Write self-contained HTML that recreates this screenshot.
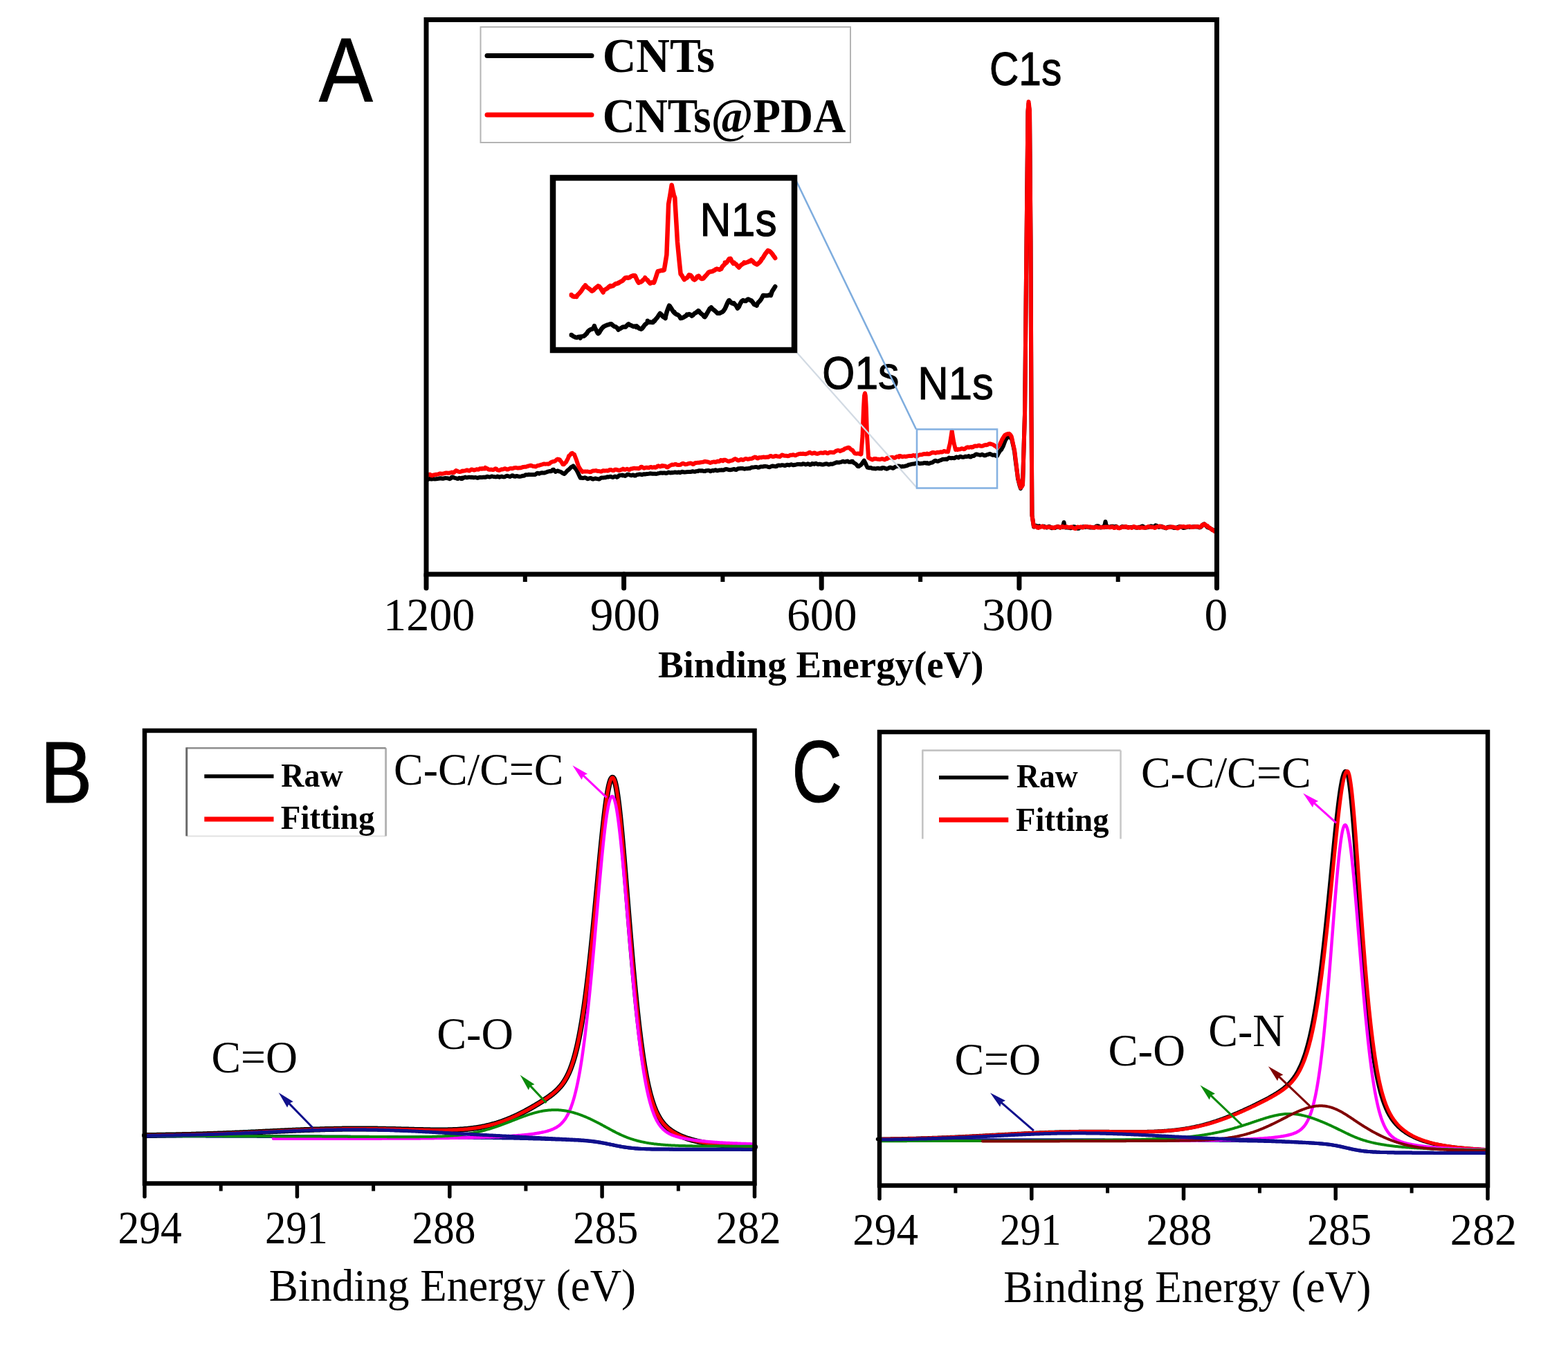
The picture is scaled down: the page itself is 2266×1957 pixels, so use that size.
<!DOCTYPE html>
<html><head><meta charset="utf-8"><title>XPS spectra</title>
<style>html,body{margin:0;padding:0;background:#fff;overflow:hidden;width:2266px;height:1957px;} svg{display:block;}</style>
</head><body>
<svg width="2266" height="1957" viewBox="0 0 2266 1957">
<rect width="2266" height="1957" fill="#fff"/>
<path d="M617,692.7 L617,692.3 L618.5,692.9 L620,692.3 L621.5,691.8 L623,692.4 L624.5,692.4 L626,692 L627.5,692.3 L629,692.4 L630.5,692.2 L632,692.1 L633.5,691.9 L635,691.5 L636.5,691.3 L638,691.5 L639.5,691.8 L641,691.7 L642.5,691.2 L644,690.9 L645.5,691.1 L647,691.3 L648.5,691.6 L650,692.2 L651.5,691.4 L653,689.5 L654.5,689.4 L656,690.4 L657.5,690.9 L659,691.1 L660.5,691.8 L662,691.9 L663.5,690.8 L665,690.9 L666.5,692 L667.9,690.8 L668,691.9 L669.5,691.1 L671,690.1 L672.5,689.6 L674,690.3 L675.5,690.3 L677,689.7 L678.5,689.7 L680,689.9 L681.5,689.8 L683,690 L684.5,690.3 L686,690.1 L687.5,690 L689,690.5 L690.5,690.8 L692,690.2 L693.5,689.8 L695,689.9 L696.5,690 L698,689.8 L699.5,689.6 L701,689.9 L702.5,689.5 L704,688.8 L705.5,689 L707,689.5 L708.5,689.3 L710,688.6 L711.5,688.5 L713,689 L714.5,689.1 L716,689.4 L717.5,689.2 L719,688.5 L720.5,689.1 L722,689.7 L723.5,688.9 L725,688.6 L726.5,689.1 L728,689.4 L729.5,689.2 L731,688.3 L732.5,687.7 L734,688 L735.5,688.5 L737,688.9 L738.5,688.3 L740,687.2 L741.5,687.5 L743,688.6 L744.5,688.7 L746,688 L747.5,688.1 L749,688.5 L750.5,688.7 L752,688.7 L753.5,688.3 L754.8,687.9 L755,687.8 L756.5,687.8 L758,687.3 L759.5,686.2 L761,686.3 L762.5,686.3 L764,685.8 L765.5,685.9 L767,686 L768.5,686.1 L770,685.9 L771.5,686 L773,686.1 L774.5,685.2 L776,683.9 L777.5,683.8 L779,684.7 L780.5,684.2 L782,683.4 L783.5,683.3 L785,683.4 L786.5,683.5 L788,683.1 L789.5,682.4 L790,682.5 L791,681.9 L792.5,681.5 L794,681 L795.5,681.3 L797,681 L798.2,680 L798.5,678.9 L800,678.7 L801.5,680.9 L803,682 L804.5,680.8 L806,680.4 L807.5,681.2 L808,681.5 L809,681.5 L810.5,682 L812,683.2 L813.5,684.1 L815,684.7 L815.6,685 L816.5,684.1 L818,682.5 L819.5,680.7 L821,679.3 L822,679 L822.5,678 L824,676.7 L825.5,675.1 L827,674.2 L828.5,674 L828.6,673.4 L830,675.5 L831.5,677.2 L833,679.2 L833,679 L834.5,681.9 L836,685 L837.5,688.4 L838.8,690.8 L839,690.8 L840.5,690.6 L842,691.1 L843.5,690.8 L845,690.3 L846.5,690.6 L848,691.6 L849.5,692.2 L851,691.7 L852.5,691.2 L854,691 L855.5,691.9 L856,692.3 L857,692.6 L858.5,692 L860,691.5 L861.5,691.8 L863,692.1 L864.5,692.4 L866,692.5 L867.5,691.5 L869,690.5 L870.5,690.4 L872,690.4 L873.5,690.3 L875,690.2 L876.5,689.6 L878,689.2 L879.5,689.5 L881,689 L882.5,688.7 L884,689.5 L885.5,690 L887,689.5 L888.5,688.6 L890,688.8 L891.5,689.8 L893,689.1 L894.5,687.3 L896,687 L897.5,687 L899,686.6 L900,687.3 L900.5,686.8 L902,687.3 L903.5,687.9 L905,687.1 L906.5,685.7 L908,685.7 L909.5,686.2 L911,686.9 L912.5,687.2 L914,686.6 L915.5,686.5 L917,687.6 L918.5,687.6 L920,686.3 L921.5,685.9 L923,685.8 L924.5,685.4 L926,685.7 L927.5,686.2 L929,685.6 L930.5,685.3 L932,685.6 L933.5,685.2 L935,684.9 L936.5,684.9 L938,684.7 L939.5,684.3 L941,684.4 L942.5,684.7 L944,684.7 L945.5,684.7 L947,684.8 L948.5,684.9 L950,684.6 L951.5,684.1 L953,683.9 L954.5,683.5 L956,683.5 L957.5,683.8 L959,683.4 L960.5,683.4 L962,684 L963.5,684 L965,683.1 L966.5,682.6 L968,683.3 L969.5,683.4 L971,682.9 L972.5,683.2 L974,682.8 L975.5,682.4 L977,682.8 L978.5,683 L980,682.6 L981.5,682.5 L983,683.2 L984.5,682.4 L986,681.8 L987.5,682.3 L989,682.5 L990.5,682.4 L992,682.2 L993.5,682.1 L995,682 L996.5,681.9 L998,682 L999.5,681.6 L1001,681.2 L1002.5,681.6 L1004,681.8 L1005.5,681.3 L1007,681.1 L1008.5,681 L1010,680.2 L1011.5,680.2 L1013,680.5 L1014.5,680.3 L1016,680.6 L1017.5,681.1 L1019,681 L1020.5,680.3 L1022,680.1 L1023.5,679.9 L1025,680.1 L1026.5,681.2 L1028,680.6 L1029.5,679.9 L1031,680.4 L1032.5,679.8 L1034,679.2 L1035.5,680 L1037,680.3 L1038.5,679.7 L1040,679.5 L1041.5,679.5 L1043,679.3 L1044.5,679.5 L1044.8,679.4 L1046,679.4 L1047.5,678.5 L1049,678.1 L1050.5,678.2 L1052,678.6 L1053.5,679.1 L1055,679.2 L1056.5,679 L1058,678.8 L1059.5,678.2 L1061,678 L1062.5,678.7 L1064,679 L1065.5,678 L1067,677.2 L1068.5,677.2 L1070,677 L1071.5,676.9 L1073,677 L1074.5,677.4 L1076,677.7 L1077.5,677.4 L1079,677.2 L1080.5,677.2 L1082,677 L1083.5,677 L1085,676.2 L1086.5,675.5 L1088,675.6 L1089.5,675.4 L1091,675.1 L1092.5,674.9 L1094,675.1 L1095.5,675.8 L1097,675.6 L1098.5,674.7 L1100,674.4 L1101.5,674.5 L1103,674.4 L1104.5,674 L1106,673.9 L1107.5,674.1 L1109,674.4 L1110.5,675.1 L1112,675.2 L1113.5,674.6 L1115,673.9 L1116.5,673.5 L1118,673.8 L1119.5,674 L1121,674.3 L1122.5,673.9 L1124,672.6 L1125.5,672.4 L1127,672.8 L1128.5,672.7 L1130,672.2 L1131.5,672.2 L1133,672.8 L1134.5,673 L1136,672.4 L1137.5,671.8 L1139,671.9 L1140.5,672.4 L1142,671.8 L1143.5,671.2 L1145,671.9 L1146.5,672.3 L1148,672 L1149.5,671.7 L1151,671.4 L1152.5,671 L1154,670.9 L1155.5,671 L1157,671.3 L1158.5,671.3 L1160,670.5 L1160,670.6 L1161.5,670.4 L1163,670.9 L1164.5,671.5 L1166,671 L1167.5,670.3 L1169,670.7 L1170.5,671.7 L1172,671.5 L1173.5,670.1 L1175,670.2 L1176.5,670.9 L1178,669.9 L1179.5,669.8 L1181,670.9 L1182.5,671.2 L1184,670.7 L1185.5,670.8 L1187,671.3 L1188.5,671.5 L1190,671.4 L1191.5,671 L1193,670.4 L1194.5,670.3 L1196,670.9 L1197.5,671.5 L1199,671.1 L1200,670.7 L1200.5,670.5 L1202,670.7 L1203.5,670.7 L1205,669.9 L1206.5,669.4 L1208,668.7 L1209.5,668.2 L1211,668.6 L1212.5,668.5 L1214,668.1 L1215.5,667.9 L1217,667.1 L1218.5,666.8 L1220,667.5 L1221.5,667.6 L1223,666.7 L1224.5,666.7 L1225,666.5 L1226,667.5 L1227.5,667.8 L1229,667.8 L1230.5,666.8 L1232,666.7 L1232,668 L1233.5,668.6 L1235,669.6 L1236.5,670.4 L1238,671.9 L1239.5,673.9 L1240.3,674 L1241,674.2 L1242.5,672.9 L1244,672.3 L1244,672 L1245.5,670.3 L1247,668 L1248.5,665.9 L1248.7,665.7 L1250,668.2 L1251,670 L1251.5,671.4 L1253,674.5 L1253.7,675.7 L1254.5,675.9 L1256,676.2 L1257.5,676 L1259,676.3 L1260.5,677 L1262,677.2 L1263.5,677.1 L1265,677.5 L1266.5,677.3 L1268,676.7 L1269.5,676.8 L1271,677.3 L1272.5,677.2 L1273.8,677.4 L1274,676.5 L1275.5,676.1 L1277,676.2 L1278.5,676.5 L1280,677.4 L1281.5,677.7 L1283,677.1 L1284.5,676.3 L1286,675.6 L1287.5,675.7 L1289,676.4 L1290.5,676.8 L1292,676 L1293.5,674.8 L1295,674.4 L1296.5,673.9 L1298,673.5 L1299,674 L1299.5,673.7 L1301,674.2 L1302.5,674.5 L1304,674.1 L1305.5,674.2 L1307,674.1 L1308.5,673.4 L1310,673.3 L1311.5,672.7 L1313,671.7 L1314.5,671.5 L1316,671.2 L1317.5,670.8 L1319,670.6 L1320.5,670.6 L1322,670.3 L1323.5,669.6 L1324,669.9 L1325,669.2 L1326.5,669 L1328,669.6 L1329.5,670.1 L1331,669.8 L1332.5,669.8 L1334,669.6 L1335.5,669 L1337,669 L1338.5,669.6 L1340,669.8 L1340,669 L1341.5,669.9 L1343,669.9 L1344.5,669.1 L1346,668.7 L1347.5,668.5 L1349,667.3 L1350.5,666.1 L1352,665.8 L1353.5,666.4 L1355,666.8 L1356.5,666.3 L1358,665.6 L1359.5,665.2 L1361,664.5 L1362.5,663.7 L1364,663.9 L1365.5,663.7 L1367,663.6 L1368.5,663.9 L1370,662.7 L1371.5,661.6 L1373,661.9 L1374.5,662.3 L1376,662 L1376,662 L1377.5,662.1 L1379,662.3 L1380.5,661.5 L1382,660.5 L1383.5,660.9 L1385,661.4 L1386.5,660.4 L1388,659.8 L1389.5,660.4 L1391,660.8 L1392.5,660.8 L1394,660.2 L1395.5,659.7 L1397,660.1 L1398.5,659.7 L1400,659.1 L1401.5,660.3 L1403,660.5 L1404.5,659.1 L1406,658.9 L1407.5,658.9 L1409,657.4 L1410.5,656.4 L1412,656.7 L1413.5,657.1 L1415,657.4 L1416.5,657.8 L1418,657.4 L1419.5,656.8 L1421,657.6 L1422.5,658.4 L1424,658.2 L1425.5,657.5 L1427,657 L1428.5,656.6 L1430,656.1 L1431,656 L1431.5,656.3 L1433,657.1 L1434.5,657.8 L1436,657.8 L1437.5,657.5 L1439,658.5 L1440.5,659.2 L1441,659 L1442,657.1 L1443.5,654.4 L1445,652 L1446.5,650 L1447,650 L1448,648.1 L1449.5,645.4 L1451,641.5 L1452.5,637.5 L1453,636 L1454,634.7 L1455.5,632.4 L1457,630.3 L1458,629 L1458.5,630.2 L1460,632.6 L1461.5,634 L1462,634 L1463,638.5 L1464.5,645.1 L1466,652.4 L1466,652 L1467.5,665 L1469,676.1 L1470.5,687.1 L1471,692 L1472,695.5 L1473.5,701.5 L1475,706.1 L1475,705 L1476.5,703.2 L1478,699.7 L1478,700 L1479.5,648.4 L1481,598.1 L1481,600 L1482.5,448.8 L1483.5,350 L1484,302.7 L1485.5,162.3 L1485.5,162 L1486.5,150 L1487,154.4 L1488,162 L1488.5,224.9 L1489.5,350 L1490,475.4 L1490.5,600 L1491.5,744.9 L1491.5,745 L1493,754.7 L1494,761.5 L1494.5,761.6 L1496,760.6 L1497.5,759.7 L1499,760.6 L1500,762 L1500.5,760.9 L1502,760.2 L1503.5,760.9 L1505,761.3 L1506.5,760.7 L1508,760.7 L1509.5,761.2 L1511,761.9 L1512.5,762.6 L1514,762.1 L1515.5,761 L1517,761.3 L1518.5,762.7 L1520,763.3 L1521.5,762.8 L1523,762.8 L1524.5,763.1 L1526,762.4 L1527.5,761.4 L1529,761 L1530.5,761.9 L1532,762.7 L1533.5,761.8 L1535,761.2 L1536,762 L1536.5,758.9 L1537.5,755 L1538,757.3 L1539,762 L1539.5,762.5 L1541,762.3 L1542.5,762.5 L1544,762.7 L1545.5,762.9 L1547,763.3 L1548.5,762.8 L1550,761.9 L1551.5,761.3 L1553,761.5 L1554.5,761.9 L1556,762.7 L1557.5,763.9 L1559,763.7 L1560.5,762.3 L1562,762.2 L1563.5,762.3 L1565,761.3 L1566.5,761.5 L1568,762.1 L1569.5,761.6 L1571,761.4 L1572.5,761.9 L1574,762.3 L1575.5,762.4 L1577,762.4 L1578.5,762.4 L1580,762.5 L1581.5,762.4 L1583,761.5 L1584.5,760.5 L1586,760.2 L1587.5,760.5 L1589,761.5 L1590.5,762.5 L1592,762.2 L1593.5,761.4 L1595,761.1 L1596,762 L1596.5,758.6 L1597.5,754 L1598,756.1 L1599,762 L1599.5,761.2 L1601,760.9 L1602.5,761.6 L1604,761.8 L1605.5,761 L1607,760.7 L1608.5,760.8 L1610,761.3 L1611.5,761.1 L1613,760.7 L1614.5,762 L1616,763.1 L1617.5,762.9 L1619,762.6 L1620.5,761.7 L1622,760.9 L1623.5,761.6 L1625,761.5 L1626.5,761.3 L1628,762.1 L1629.5,762.2 L1631,762 L1632.5,762.1 L1634,761.9 L1635.5,761.9 L1637,761.8 L1638.5,761.7 L1640,762 L1641.5,762.6 L1643,762.9 L1644.5,762.6 L1646,761.8 L1647.5,761.7 L1649,761.6 L1650.5,760.4 L1652,760.9 L1653.5,762.4 L1655,762.8 L1656.5,762.6 L1658,762.3 L1659.5,762 L1661,761.4 L1662.5,760.6 L1664,760.5 L1665.5,761.1 L1667,761.4 L1668.5,760.5 L1670,759.3 L1671.5,759.8 L1673,761.2 L1674.5,761.9 L1676,761.5 L1677.5,760.7 L1679,761 L1680.5,762.2 L1682,762.4 L1683.5,763.1 L1685,763.4 L1686.5,762.4 L1688,761.8 L1689.5,761.6 L1691,761.5 L1692.5,761.8 L1694,762.2 L1695.5,762.6 L1697,763.1 L1698.5,763.1 L1700,762.5 L1701.5,762.2 L1703,761.6 L1704.5,761.1 L1706,761.1 L1707.5,761.6 L1709,762.5 L1710.5,763.1 L1712,762.9 L1713.5,762.4 L1715,762 L1716.5,761.4 L1718,761.3 L1719.5,762 L1721,762 L1722.5,761.6 L1724,761.5 L1725.5,761.2 L1727,761.2 L1728.5,761.5 L1730,761.2 L1731.5,761.5 L1733,762.4 L1733.6,762 L1734.5,762.3 L1736,761.3 L1737.5,759.6 L1739,757.8 L1740,758 L1740.5,757.4 L1742,758.7 L1743.5,760.6 L1745,762.2 L1746.5,762.7 L1748,763 L1749.5,764 L1751,764.9 L1752,766 L1752.5,765.5 L1754,766.7 L1755.5,767.9 L1756,768" fill="none" stroke="#000" stroke-width="6" stroke-linejoin="round" stroke-linecap="round"/>
<path d="M617,687.2 L617,687.2 L618.5,686.7 L620,685.8 L621.5,685.7 L623,687.1 L624.5,687.4 L626,686.5 L627.5,686.4 L629,686 L630.5,685.7 L632,685.7 L633.5,685.3 L635,684.6 L636.5,684.5 L638,684.7 L639.5,684.8 L640,684.5 L641,684.5 L642.5,684 L644,683.6 L645.5,683.5 L647,683.8 L648.5,683.8 L650,683.5 L651.5,683 L653,682.5 L654.5,683.2 L656,683.2 L657.5,681.3 L659,680.1 L660.5,680.6 L662,681.6 L663.5,681.9 L665,681.9 L666.5,681.6 L667.9,680.7 L668,681.1 L669.5,680.7 L671,680.6 L672.5,680.4 L674,679.6 L675.5,679.5 L677,680.3 L678.5,680.5 L680,679.3 L681.5,678.4 L683,678.9 L684.5,679.4 L686,679.4 L687.5,678.9 L689,678.2 L690,678.5 L690.5,678.8 L692,678.6 L693.5,677.3 L695,677.5 L696.5,677.8 L697,677 L698,677.4 L699.5,677.5 L701,677.5 L701.2,675.8 L702.5,677.3 L704,677.1 L705.5,678 L706,678.6 L707,678.7 L708.5,678.7 L710,678.6 L711.5,678.9 L713,679 L714.5,678.2 L716,677.3 L717.5,677.7 L718.6,679.2 L719,679.2 L720.5,679.8 L722,679.7 L723.5,678.9 L725,678.3 L726.5,678.5 L728,678 L729.5,677.2 L731,677.6 L732.5,678.6 L734,678.5 L735.5,677.8 L737,677.1 L738.5,677 L740,677.3 L741.5,676.9 L743,676.3 L744.5,676.1 L746,676 L747.5,676.5 L749,676.6 L750.5,676.3 L752,676.3 L753.5,675.8 L754.8,675.6 L755,675.2 L756.5,674.9 L758,674.8 L759.5,674.8 L761,674.3 L762.5,673.8 L764,673.5 L765.5,673 L767,672.7 L768.5,673.2 L770,673.9 L771.5,674 L773,674.3 L774.5,674.4 L776,673.3 L777.5,672.8 L779,672.8 L780.5,672.2 L782,671.7 L783.5,671.4 L785,670.7 L786.5,670.4 L788,670.8 L789.5,670.6 L791,670.4 L791,670.5 L792.5,670.8 L794,670.2 L795.5,668.8 L797,667.8 L798.5,667.3 L800,667.1 L800,667 L801.5,666.8 L803,665.8 L804.5,664.2 L805.5,664 L806,663.6 L807.5,664 L809,664.4 L809,665.5 L810.5,666.5 L812,668.9 L813.5,671.3 L814.1,671.3 L815,671.2 L816.5,669.3 L818,668 L818,668 L819.5,665.1 L821,662.3 L822,659 L822.5,659.3 L824,657.3 L825.5,655.5 L826.4,655.3 L827,654.9 L828.5,656.1 L830,656.9 L830,657 L831.5,660.8 L833,664.8 L834.5,669.2 L835.9,673.4 L836,673.7 L837.5,676.4 L839,678.7 L840.5,680.4 L841.7,682.1 L842,681.7 L843.5,681.6 L845,681.4 L846.5,681.4 L848,681.6 L849.5,681.6 L851,681.9 L852.5,682.2 L854,682 L855.5,681.2 L857,680.4 L858.5,680.4 L860,680.3 L861.5,680.1 L863,680.8 L864.5,681 L866,681 L867.5,681.5 L869,681.5 L870.5,680.7 L870.6,680.7 L872,680.2 L873.5,680.5 L875,680.4 L876.5,680.2 L878,680.6 L879.5,680.1 L881,679 L882.5,679 L884,679.4 L885.5,680.1 L887,680 L888.5,678.8 L890,678.6 L891.5,679 L893,679.4 L894.5,680 L896,679.6 L897.5,679 L899,678.4 L900,678.6 L900.5,677.7 L902,678.3 L903.5,678.8 L905,678.1 L906.5,677.8 L908,678.6 L909.5,679.1 L911,678 L912.5,677.4 L914,677.4 L915.5,676.8 L917,676.8 L918.5,677.1 L920,677 L921.5,677 L923,677.3 L924.5,676.6 L926,675 L927.5,674.7 L929,675.8 L930.5,676.7 L932,676.4 L933.5,675.8 L935,675.8 L936.5,676 L938,675.9 L939.5,675.3 L941,675 L942.5,675.8 L944,675.6 L945.5,675.1 L947,675.8 L948.5,675.4 L950,673.8 L951.5,673.3 L953,674.2 L954.5,674.4 L956,673.3 L957.5,673 L957.5,673.8 L959,673.6 L960.5,673.4 L962,673.8 L963.5,675.3 L965,675.4 L966.5,674 L968,673.1 L969.5,672.4 L971,671.6 L972.5,671.7 L974,671.6 L975.5,670.9 L977,671 L978.5,671.9 L980,672.1 L981.5,672.1 L983,671.9 L984.5,670.9 L986,670 L987.5,669.8 L989,670.6 L990.5,671.2 L992,671.1 L993.5,670.7 L995,670 L996.5,669.7 L998,669.4 L999.5,669.8 L1001,671 L1002.5,670.7 L1004,669.4 L1005.5,669 L1007,668.9 L1008.5,668.7 L1010,668.8 L1011.5,668.5 L1013,668.2 L1014.5,668.1 L1016,667.9 L1017.5,667.3 L1019,667 L1020.5,667.2 L1022,667.5 L1023.5,667.8 L1025,668.4 L1026.5,669 L1028,668.5 L1029.5,667.9 L1031,667.6 L1032.5,667.6 L1034,668 L1035.5,667.4 L1037,666.6 L1038.5,667.1 L1040,666.6 L1041.5,665.1 L1043,665.2 L1044.5,665.3 L1044.8,666.3 L1046,664.7 L1047.5,664.7 L1049,665.2 L1050.5,665.9 L1052,666.7 L1053.5,666.9 L1055,666.2 L1056.5,665.8 L1058,665.6 L1059.5,664.8 L1061,663.8 L1062.5,663.1 L1064,663.8 L1065.5,665.1 L1067,665.6 L1068.5,665.1 L1070,664.3 L1071.5,664 L1073,664.8 L1074.5,664.7 L1076,663.6 L1077.5,662.9 L1079,663.1 L1080.5,663.8 L1082,663.6 L1083.5,663 L1085,663 L1086.5,662.8 L1088,662 L1089.5,661.2 L1091,660.6 L1092.5,660.9 L1094,662.3 L1095.5,662.6 L1097,661.3 L1098.5,661.2 L1100,661.4 L1101.5,660.9 L1103,660.6 L1104.5,660.7 L1106,661 L1107.5,660.7 L1109,660.6 L1110.5,660.7 L1112,659.8 L1113.5,658.9 L1115,659.4 L1116.5,660.1 L1118,660 L1119.5,659.4 L1121,659 L1122.5,659.3 L1124,659.7 L1125.5,659.8 L1127,660 L1128.5,658.9 L1130,657.6 L1131.5,657.7 L1133,658.6 L1134.5,658.8 L1136,658.8 L1137.5,659 L1139,659.2 L1140.5,658.8 L1142,657.8 L1143.5,657.8 L1145,657.7 L1146.5,657.2 L1148,657.9 L1149.5,658.3 L1151,657.6 L1152.5,656.9 L1154,656.3 L1155.5,655.9 L1157,655.8 L1158.5,655.9 L1160,655.8 L1160,656 L1161.5,655.8 L1163,656.2 L1164.5,656.2 L1166,655.6 L1167.5,655.3 L1169,654.2 L1170.5,653.8 L1172,654.9 L1173.5,655.6 L1175,655.2 L1176.5,654.5 L1178,654.8 L1179.5,655.6 L1181,655.9 L1182.5,655.5 L1184,655 L1185.5,654.5 L1187,654.4 L1188.5,654.8 L1190,654.8 L1190,654.8 L1191.5,654 L1193,653.8 L1194.5,654.8 L1196,655.2 L1197.5,654.6 L1199,653.8 L1200.5,653.6 L1202,653.8 L1203.5,654 L1205,654 L1206.5,653 L1208,651.8 L1209.5,651.3 L1211,650.9 L1212.5,651.1 L1214,652.1 L1215,651.4 L1215.5,651.6 L1217,650.5 L1218.5,650.4 L1220,649.4 L1220,649 L1221.5,648.1 L1223,647.9 L1224.5,647.3 L1225.2,647.2 L1226,646.7 L1227.5,647.3 L1229,649 L1230,650 L1230.5,649.9 L1232,650.7 L1233.5,653 L1235,655 L1236.1,655.6 L1236.5,655.6 L1238,655.7 L1239.5,655.6 L1241,655.5 L1242.5,656.2 L1244,656.7 L1244.5,656.5 L1245.5,642.9 L1246.5,630 L1247,616.4 L1248,590 L1248.5,581 L1249,572 L1249.9,568.5 L1250,568.4 L1250.8,572 L1251.5,583.8 L1251.8,590 L1253,628.9 L1253,630 L1254.5,652.8 L1255,661.5 L1256,661.9 L1257.5,662.9 L1258,663.2 L1259,663.6 L1260.5,664.5 L1262,663.8 L1263.5,663 L1265,663 L1266.5,663.3 L1268,663.7 L1269.5,663.7 L1271,664.1 L1272.5,663.9 L1274,663.2 L1275.5,663.3 L1277,663.9 L1278.5,664.4 L1280,663.5 L1281.5,662.1 L1282,663.2 L1283,661.4 L1284.5,661.4 L1286,661.6 L1287.5,661.3 L1289,661 L1290.5,661.1 L1292,661.8 L1293.5,661.7 L1295,660.5 L1296.5,659.9 L1298,659.7 L1299,660.6 L1299.5,659.1 L1301,659 L1302.5,659.6 L1304,660.2 L1305.5,659.9 L1307,659.6 L1308.5,659.9 L1310,659.8 L1311.5,659.4 L1313,659.1 L1314.5,658.9 L1316,659.1 L1317.5,659.1 L1319,658.2 L1320.5,658.1 L1322,658.8 L1323.5,659.5 L1324,658.1 L1325,659.5 L1326.5,658.4 L1328,657.6 L1329.5,657.3 L1331,657.3 L1332.5,657.1 L1334,656.3 L1335.5,656.1 L1337,656.2 L1338.5,656.1 L1340,656.2 L1340,655.6 L1341.5,656.4 L1343,656.2 L1344.5,655.5 L1346,654.7 L1347.5,654 L1349,654 L1350.5,654.4 L1352,654.7 L1353.5,654.1 L1355,653.7 L1356.5,654 L1358,653.6 L1359.5,653.2 L1361,653.6 L1362.5,653.2 L1364,652 L1365.5,652.2 L1367,652.9 L1368.5,652.7 L1370,652.3 L1370,653 L1371.5,646.3 L1373,640.5 L1373,640 L1374.5,630.8 L1375.7,622.8 L1376,625.1 L1377.5,634.4 L1378.5,640 L1379,642.1 L1380.5,648 L1381,650 L1382,649.7 L1383.5,649.2 L1384,650 L1385,649.3 L1386.5,649.6 L1388,649.1 L1389.5,648.2 L1391,648.4 L1392.5,649.3 L1394,649 L1395.5,647.7 L1397,646.7 L1398.5,646.3 L1400,646.8 L1401.5,646.5 L1403,646 L1404.5,646.6 L1405,646 L1406,646.3 L1407.5,645.1 L1409,644.6 L1410.5,644.7 L1412,644.7 L1413.5,644.1 L1415,643.8 L1416.5,644.5 L1418,644.7 L1419.5,644.7 L1421,644.3 L1422.5,643.4 L1424,643.1 L1425.5,643.2 L1427,642.9 L1428.5,642 L1430,641.4 L1431,641.6 L1431.5,641.5 L1433,642.1 L1434.5,642.4 L1436,643.1 L1437.5,644.3 L1439,645.2 L1440.5,646.1 L1441,647 L1442,645.5 L1443.5,644.2 L1445,642.6 L1446,640 L1446.5,639.3 L1448,635.6 L1449.5,633.1 L1451,630.7 L1452,629 L1452.5,628.7 L1454,628 L1455.5,627.3 L1457,626.9 L1458,627.3 L1458.5,626.9 L1460,628.3 L1461.5,630.5 L1462,632 L1463,636.6 L1464.5,643.8 L1466,650.1 L1466,650 L1467.5,661.9 L1469,674.4 L1470.5,686.9 L1471,690 L1472,694.8 L1473.5,699.8 L1475,704.9 L1475,704.4 L1476.5,703.4 L1478,701.1 L1478,700 L1479.5,650.2 L1481,599.5 L1481,600 L1482.5,449 L1483.5,350 L1484,301.6 L1485.5,159.4 L1485.5,160 L1486.5,147 L1487,150.8 L1488,160 L1488.5,223 L1489.5,350 L1490,474.7 L1490.5,600 L1491.5,745 L1491.5,745 L1493,754.9 L1494,761 L1494.5,761.2 L1496,760.7 L1497.5,761.1 L1499,762.5 L1500,762 L1500.5,763 L1502,762.3 L1503.5,761.8 L1505,760.9 L1506.5,760.6 L1508,761.8 L1509.5,762.4 L1511,761.6 L1512.5,761.7 L1514,762.1 L1515.5,761.6 L1517,762 L1518.5,762.4 L1520,762.1 L1521.5,762.8 L1523,763.2 L1524.5,762 L1526,761.5 L1527.5,761.6 L1529,761.2 L1530.5,761.5 L1532,762.6 L1533.5,762.1 L1535,760.9 L1536.5,761.2 L1538,762.1 L1539.5,761.9 L1541,761.3 L1542.5,761.6 L1544,762.2 L1545.5,762.4 L1547,761.8 L1548.5,761.6 L1550,762.6 L1551.5,763.1 L1553,763.8 L1554.5,764 L1556,762.4 L1557.5,761.5 L1559,762.1 L1560.5,762 L1562,761.4 L1563.5,761.8 L1565,762.5 L1566.5,761.8 L1568,761 L1569.5,761.1 L1571,761.3 L1572.5,761.7 L1574,761.5 L1575.5,761.5 L1577,761.9 L1578.5,762 L1580,762.6 L1581.5,762.8 L1583,762 L1584.5,761.6 L1586,762.2 L1587.5,762.5 L1589,762.3 L1590.5,762.1 L1592,762.1 L1593.5,762.3 L1595,762.2 L1596.5,761.7 L1598,761.6 L1599.5,761.7 L1601,761.7 L1602.5,762 L1604,762.3 L1605.5,762 L1607,761.4 L1608.5,761.9 L1610,763 L1611.5,762.7 L1613,761.4 L1614.5,761.7 L1616,763.2 L1617.5,763.4 L1619,762.8 L1620.5,762.3 L1622,761.5 L1623.5,761.8 L1625,761.9 L1626.5,761 L1628,761.3 L1629.5,762.5 L1631,762.7 L1632.5,762.1 L1634,762.4 L1635.5,762.9 L1637,761.9 L1638.5,761.1 L1640,761.5 L1641.5,762.1 L1643,762.7 L1644.5,762.2 L1646,762.3 L1647.5,763 L1649,762.5 L1650.5,762.3 L1652,762.7 L1653.5,762.7 L1655,762.5 L1656.5,762.4 L1658,761.7 L1659.5,761.1 L1661,761.4 L1662.5,761.8 L1664,761.9 L1665.5,761.9 L1667,762.1 L1668.5,763 L1670,762.6 L1671.5,761.2 L1673,761.2 L1674.5,760.9 L1676,760.5 L1677.5,761.3 L1679,761.7 L1680.5,761.4 L1682,761.8 L1683.5,762.8 L1685,763.1 L1686.5,762.7 L1688,762.4 L1689.5,762.2 L1691,761.8 L1692.5,761.6 L1694,761.6 L1695.5,761.7 L1697,762.2 L1698.5,762.6 L1700,762.7 L1701.5,763.5 L1703,763.2 L1704.5,761.6 L1706,761.3 L1707.5,761.6 L1709,761.2 L1710.5,761.1 L1712,761.6 L1713.5,761.7 L1715,761.5 L1716.5,761.5 L1718,761 L1719.5,760.8 L1721,761.9 L1722.5,761.9 L1724,761.5 L1725.5,761.7 L1727,761.1 L1728.5,760.9 L1730,761.4 L1731.5,761.3 L1733,761.5 L1733.6,762 L1734.5,761.6 L1736,761 L1737,759 L1737.5,759.9 L1739,758.3 L1740,757.7 L1740.5,757.4 L1742,758.5 L1743.5,760.3 L1745,761.4 L1745,760 L1746.5,761.9 L1748,762.6 L1749.5,764.1 L1751,765.1 L1752,766 L1752.5,765.8 L1754,766.9 L1755.5,768 L1756,768" fill="none" stroke="#ff0000" stroke-width="6" stroke-linejoin="round" stroke-linecap="round"/>
<rect x="616" y="28.5" width="1142.5" height="801.5" fill="none" stroke="#000" stroke-width="7"/>
<line x1="616" y1="830" x2="616" y2="850" stroke="#000" stroke-width="7" stroke-linecap="round"/>
<line x1="901.6" y1="830" x2="901.6" y2="850" stroke="#000" stroke-width="7" stroke-linecap="round"/>
<line x1="1187.2" y1="830" x2="1187.2" y2="850" stroke="#000" stroke-width="7" stroke-linecap="round"/>
<line x1="1472.9" y1="830" x2="1472.9" y2="850" stroke="#000" stroke-width="7" stroke-linecap="round"/>
<line x1="1758.5" y1="830" x2="1758.5" y2="850" stroke="#000" stroke-width="7" stroke-linecap="round"/>
<line x1="758.8" y1="830" x2="758.8" y2="841" stroke="#000" stroke-width="6"/>
<line x1="1044.4" y1="830" x2="1044.4" y2="841" stroke="#000" stroke-width="6"/>
<line x1="1330.1" y1="830" x2="1330.1" y2="841" stroke="#000" stroke-width="6"/>
<line x1="1615.7" y1="830" x2="1615.7" y2="841" stroke="#000" stroke-width="6"/>
<text x="554.04" y="911.14" font-family="'Liberation Serif','Times New Roman',serif" font-size="67.94" font-weight="normal" fill="#000" textLength="132.41" lengthAdjust="spacingAndGlyphs">1200</text>
<text x="852.68" y="911.14" font-family="'Liberation Serif','Times New Roman',serif" font-size="67.94" font-weight="normal" fill="#000" textLength="101.22" lengthAdjust="spacingAndGlyphs">900</text>
<text x="1136.99" y="911.14" font-family="'Liberation Serif','Times New Roman',serif" font-size="67.94" font-weight="normal" fill="#000" textLength="101.51" lengthAdjust="spacingAndGlyphs">600</text>
<text x="1418.96" y="911.14" font-family="'Liberation Serif','Times New Roman',serif" font-size="67.94" font-weight="normal" fill="#000" textLength="103.09" lengthAdjust="spacingAndGlyphs">300</text>
<text x="1740.50" y="911.14" font-family="'Liberation Serif','Times New Roman',serif" font-size="67.94" font-weight="normal" fill="#000" textLength="33.69" lengthAdjust="spacingAndGlyphs">0</text>
<text x="950.90" y="979.00" font-family="'Liberation Serif','Times New Roman',serif" font-size="55.38" font-weight="bold" fill="#000" textLength="470.51" lengthAdjust="spacingAndGlyphs">Binding Energy(eV)</text>
<rect x="694.5" y="39" width="534.5" height="167" fill="#fff" stroke="#b4b4b4" stroke-width="2"/>
<line x1="704" y1="80.5" x2="855" y2="80.5" stroke="#000" stroke-width="7" stroke-linecap="round"/>
<line x1="704" y1="166" x2="855" y2="166" stroke="#ff0000" stroke-width="7" stroke-linecap="round"/>
<text x="870.63" y="104.30" font-family="'Liberation Serif','Times New Roman',serif" font-size="69.69" font-weight="bold" fill="#000" textLength="162.31" lengthAdjust="spacingAndGlyphs">CNTs</text>
<text x="870.74" y="191.00" font-family="'Liberation Serif','Times New Roman',serif" font-size="69.23" font-weight="bold" fill="#000" textLength="351.52" lengthAdjust="spacingAndGlyphs">CNTs@PDA</text>
<text x="460.90" y="147.30" font-family="'Liberation Sans',Arial,sans-serif" font-size="131.59" font-weight="normal" fill="#000" stroke="#000" stroke-width="1.1" textLength="77.72" lengthAdjust="spacingAndGlyphs">A</text>
<text x="1430.07" y="123.40" font-family="'Liberation Sans',Arial,sans-serif" font-size="68.70" font-weight="normal" fill="#000" stroke="#000" stroke-width="1.1" textLength="104.18" lengthAdjust="spacingAndGlyphs">C1s</text>
<text x="1188.27" y="562.10" font-family="'Liberation Sans',Arial,sans-serif" font-size="66.38" font-weight="normal" fill="#000" stroke="#000" stroke-width="1.1" textLength="111.09" lengthAdjust="spacingAndGlyphs">O1s</text>
<text x="1326.27" y="577.20" font-family="'Liberation Sans',Arial,sans-serif" font-size="67.39" font-weight="normal" fill="#000" stroke="#000" stroke-width="1.1" textLength="109.60" lengthAdjust="spacingAndGlyphs">N1s</text>
<line x1="1151" y1="262" x2="1324" y2="620.5" stroke="#7fadde" stroke-width="2.6"/>
<line x1="1152" y1="510" x2="1325" y2="705" stroke="#d2dae3" stroke-width="2.2"/>
<rect x="1325" y="620.5" width="116" height="85" fill="none" stroke="#86b2e2" stroke-width="2.6"/>
<rect x="799" y="257" width="349" height="249" fill="#fff" stroke="#000" stroke-width="8.5"/>
<path d="M825.8,426.7 L825.8,426.1 L827.8,428.4 L829.8,428.9 L831.8,428.3 L833.2,428.9 L833.8,427.5 L835.8,425.2 L837.8,423.2 L839.8,420.9 L841.8,417.7 L843.8,414.7 L845.8,413.1 L846,412.4 L847.8,414.8 L849.8,416.2 L851.8,417.6 L853.8,419.2 L855.2,420.6 L855.8,420.7 L857.8,419.3 L859.8,417.1 L861.8,415.4 L863.8,413.9 L864.4,413.3 L865.8,414 L867.8,416.2 L869.8,419.5 L871.7,422.5 L871.8,421.3 L873.8,418.8 L875.8,417.8 L877.8,416.7 L879.8,414.6 L881.8,413.2 L882.7,414.2 L883.8,413.4 L885.8,413.3 L887.8,411.5 L889.8,410.1 L891.8,409.9 L893.7,408.7 L893.8,409.2 L895.8,407.6 L897.8,406.7 L899.8,405.6 L901.8,403.3 L903.8,401.4 L904.7,401.4 L905.8,401.3 L907.8,401.7 L909.8,401.1 L911.8,399.5 L913.8,398.7 L915.8,398.2 L917.5,399.6 L917.8,398.4 L919.8,403 L921.8,406.9 L923,408.7 L923.8,408.2 L925.8,407.6 L927.8,406.4 L929.8,404.3 L931.8,402.7 L932.2,401.4 L933.8,403.6 L935.8,405 L937.8,407.8 L939.6,409.6 L939.8,409.6 L941.8,408.2 L943.8,408.4 L945,408.7 L945.8,406.6 L947.8,400.8 L949.8,394.5 L950.6,392.2 L951.8,391.9 L953.8,391.5 L955.8,390.8 L957.8,390.9 L959.7,390.4 L959.8,390.2 L961.8,378.1 L963.4,368.4 L963.8,357.7 L965.8,304.1 L966.1,295 L967.8,285.7 L969.8,273.2 L970.7,267.5 L971.8,272.8 L973.8,281.8 L975.3,285.8 L975.8,295.8 L977.8,329 L979,350 L979.8,358.2 L981.8,378.6 L983.6,395.9 L983.8,395.9 L985.8,398.9 L987.8,402.4 L989,404.1 L989.8,403.1 L991.8,402.1 L993.8,400.6 L995.8,397.3 L996.4,397.7 L997.8,397.7 L999.8,400 L1001.8,403.4 L1001.9,403.2 L1003.8,404.4 L1005.8,402.8 L1007.8,399.4 L1009.2,399.6 L1009.8,398.9 L1011.8,401.5 L1013.8,403 L1015.8,402.7 L1016.6,402.3 L1017.8,400.6 L1019.8,398.6 L1021.8,396.4 L1023.8,393.7 L1023.9,394 L1025.8,392.7 L1027.8,392.6 L1029.8,392.1 L1031.8,390.9 L1033.1,390.4 L1033.8,389.5 L1035.8,388.6 L1037.8,389.1 L1039.8,389.8 L1041.8,388.5 L1042.3,388.6 L1043.8,385.4 L1045.8,383.4 L1047.8,381.2 L1047.8,379.4 L1049.8,379.8 L1051.8,377.1 L1053.8,374 L1055.1,373.9 L1055.8,373.8 L1057.8,378.1 L1059.8,380.9 L1060.6,379.4 L1061.8,380.7 L1063.8,382 L1065.8,384.5 L1067.8,386.1 L1067.9,386.7 L1069.8,384.1 L1071.8,382.5 L1073.8,381.3 L1075.3,379.4 L1075.8,380.3 L1077.8,379.7 L1079.8,379 L1081.8,378.2 L1083.8,376.9 L1084.4,377.5 L1085.8,376 L1087.8,377.5 L1089.8,380 L1091.8,381.3 L1093.6,382.1 L1093.8,382.3 L1095.8,380.8 L1097.8,379 L1099.8,376.7 L1100.9,373.9 L1101.8,373.9 L1103.8,370.5 L1105.8,367.1 L1107.8,364.6 L1109.8,362.1 L1110.1,362.9 L1111.8,362.7 L1113.8,364.4 L1115.6,366.5 L1115.8,366.6 L1117.8,369.6 L1119.8,372.3 L1120.2,373" fill="none" stroke="#ff0000" stroke-width="6.5" stroke-linejoin="round" stroke-linecap="round"/>
<path d="M825.8,484.3 L825.8,483.9 L827.8,485.7 L829.8,486.6 L831.8,487.6 L833.8,487.9 L835.8,486.9 L837.8,486.7 L838.7,488.5 L839.8,486.4 L841.8,486.1 L843.8,485.7 L845.8,484.1 L847.8,481.8 L847.9,482.1 L849.8,478.9 L851.8,477.2 L853.8,476.2 L855.8,475.6 L857.8,474 L858.9,471.1 L859.8,474 L861.8,477.5 L863.8,481.6 L864.4,482.1 L865.8,481 L867.8,477.6 L869.8,474.7 L871.7,472.9 L871.8,472.3 L873.8,471.3 L875.8,470.4 L877.8,469.6 L879.8,469.1 L881.8,468.4 L882.7,468.3 L883.8,468.5 L885.8,470.4 L887.8,471.8 L889.8,472.4 L891.8,473.8 L893.7,476.6 L893.8,475.8 L895.8,475.2 L897.8,474.1 L899.8,472.8 L901.8,472.6 L903.8,472.6 L905.8,470.6 L907.8,468.7 L908.4,468.3 L909.8,469.4 L911.8,470.2 L913.8,471.2 L915.8,472 L917.8,471.4 L919.4,472.9 L919.8,471.2 L921.8,473 L923.8,474.7 L925.8,475.4 L926.7,475.7 L927.8,474.9 L929.8,472.4 L931.8,469.5 L933.8,467.9 L935.8,466.1 L935.9,463.7 L937.8,465.7 L939.8,465.5 L941.8,465.9 L943.8,466 L945,463.7 L945.8,464 L947.8,461.2 L949.8,459.1 L951.8,455.9 L953.8,453 L954.2,454.6 L955.8,454.6 L957.8,457.4 L959.8,458.6 L961.6,460 L961.8,457.5 L963.8,450.4 L965.8,444.9 L967.1,441.7 L967.8,442.3 L969.8,445.3 L971.8,448.6 L973.8,451.5 L974.4,450.9 L975.8,453.2 L977.8,454.4 L979.8,455.1 L981.8,456.9 L983.6,460 L983.8,459.9 L985.8,459.6 L987.8,458.6 L989.8,457.4 L991.8,456.3 L992.7,454.6 L993.8,455.1 L995.8,454 L997.8,454.7 L999.8,456.6 L1000.1,456.4 L1001.8,455.1 L1003.8,452.9 L1005.8,452 L1007.8,450.2 L1009.2,449.1 L1009.8,449.4 L1011.8,452.1 L1013.8,453.8 L1015.8,455.2 L1017.8,457.9 L1018.4,458.2 L1019.8,456.4 L1021.8,452.8 L1023.8,449.3 L1025.8,445.8 L1027.6,445.4 L1027.8,444.2 L1029.8,446.7 L1031.8,448.1 L1033.8,449.7 L1035.8,451.7 L1036.8,452.7 L1037.8,452.8 L1039.8,452.8 L1041.8,451.8 L1043.8,451 L1044.1,450.9 L1045.8,449 L1047.8,446 L1049.8,441.4 L1051.8,436.7 L1053.3,434.4 L1053.8,434.1 L1055.8,436.4 L1057.8,438.3 L1059.8,439 L1060.6,438.1 L1061.8,439.8 L1063.8,441.8 L1065.8,445.6 L1066.1,445.4 L1067.8,443.4 L1069.8,438.8 L1071.8,435.5 L1073.4,434.4 L1073.8,434 L1075.8,434.9 L1077.8,435.1 L1079.8,433.2 L1080.8,432.6 L1081.8,432.6 L1083.8,433.8 L1085.8,434.4 L1087.8,436.9 L1089.8,439.9 L1091.8,440.7 L1093.6,441.7 L1093.8,440.3 L1095.8,437.2 L1097.8,435.3 L1099.8,432.7 L1101.8,429 L1102.8,427.1 L1103.8,427 L1105.8,427.3 L1107.8,427.3 L1109.8,427 L1111.8,426.5 L1113.8,425.1 L1113.8,427.1 L1115.8,421.1 L1117.8,418.2 L1119.8,414.8 L1120.2,414.2" fill="none" stroke="#000" stroke-width="6.5" stroke-linejoin="round" stroke-linecap="round"/>
<text x="1011.61" y="340.90" font-family="'Liberation Sans',Arial,sans-serif" font-size="67.97" font-weight="normal" fill="#000" stroke="#000" stroke-width="1.1" textLength="110.99" lengthAdjust="spacingAndGlyphs">N1s</text>
<path d="M209,1641.1 L210,1641.1 L211,1641.1 L212,1641.1 L213,1641 L214,1641 L215,1641 L216,1641 L217,1641 L218,1641 L219,1641 L220,1640.9 L221,1640.9 L222,1640.9 L223,1640.9 L224,1640.9 L225,1640.9 L226,1640.9 L227,1640.8 L228,1640.8 L229,1640.8 L230,1640.8 L231,1640.8 L232,1640.8 L233,1640.8 L234,1640.7 L235,1640.7 L236,1640.7 L237,1640.7 L238,1640.7 L239,1640.7 L240,1640.6 L241,1640.6 L242,1640.6 L243,1640.6 L244,1640.6 L245,1640.5 L246,1640.5 L247,1640.5 L248,1640.5 L249,1640.5 L250,1640.4 L251,1640.4 L252,1640.4 L253,1640.4 L254,1640.4 L255,1640.3 L256,1640.3 L257,1640.3 L258,1640.3 L259,1640.3 L260,1640.2 L261,1640.2 L262,1640.2 L263,1640.2 L264,1640.1 L265,1640.1 L266,1640.1 L267,1640.1 L268,1640.1 L269,1640 L270,1640 L271,1640 L272,1640 L273,1639.9 L274,1639.9 L275,1639.9 L276,1639.9 L277,1639.8 L278,1639.8 L279,1639.8 L280,1639.7 L281,1639.7 L282,1639.7 L283,1639.7 L284,1639.6 L285,1639.6 L286,1639.6 L287,1639.5 L288,1639.5 L289,1639.5 L290,1639.5 L291,1639.4 L292,1639.4 L293,1639.4 L294,1639.3 L295,1639.3 L296,1639.3 L297,1639.2 L298,1639.2 L299,1639.2 L300,1639.1 L301,1639.1 L302,1639.1 L303,1639 L304,1639 L305,1639 L306,1638.9 L307,1638.9 L308,1638.9 L309,1638.8 L310,1638.8 L311,1638.8 L312,1638.7 L313,1638.7 L314,1638.7 L315,1638.6 L316,1638.6 L317,1638.6 L318,1638.5 L319,1638.5 L320,1638.4 L321,1638.4 L322,1638.4 L323,1638.3 L324,1638.3 L325,1638.3 L326,1638.2 L327,1638.2 L328,1638.1 L329,1638.1 L330,1638.1 L331,1638 L332,1638 L333,1637.9 L334,1637.9 L335,1637.9 L336,1637.8 L337,1637.8 L338,1637.7 L339,1637.7 L340,1637.6 L341,1637.6 L342,1637.6 L343,1637.5 L344,1637.5 L345,1637.4 L346,1637.4 L347,1637.3 L348,1637.3 L349,1637.3 L350,1637.2 L351,1637.2 L352,1637.1 L353,1637.1 L354,1637 L355,1637 L356,1636.9 L357,1636.9 L358,1636.9 L359,1636.8 L360,1636.8 L361,1636.7 L362,1636.7 L363,1636.6 L364,1636.6 L365,1636.5 L366,1636.5 L367,1636.4 L368,1636.4 L369,1636.4 L370,1636.3 L371,1636.3 L372,1636.2 L373,1636.2 L374,1636.1 L375,1636.1 L376,1636 L377,1636 L378,1635.9 L379,1635.9 L380,1635.8 L381,1635.8 L382,1635.7 L383,1635.7 L384,1635.6 L385,1635.6 L386,1635.6 L387,1635.5 L388,1635.5 L389,1635.4 L390,1635.4 L391,1635.3 L392,1635.3 L393,1635.2 L394,1635.2 L395,1635.1 L396,1635.1 L397,1635 L398,1635 L399,1634.9 L400,1634.9 L401,1634.8 L402,1634.8 L403,1634.8 L404,1634.7 L405,1634.7 L406,1634.6 L407,1634.6 L408,1634.5 L409,1634.5 L410,1634.4 L411,1634.4 L412,1634.3 L413,1634.3 L414,1634.2 L415,1634.2 L416,1634.2 L417,1634.1 L418,1634.1 L419,1634 L420,1634 L421,1633.9 L422,1633.9 L423,1633.8 L424,1633.8 L425,1633.8 L426,1633.7 L427,1633.7 L428,1633.6 L429,1633.6 L430,1633.5 L431,1633.5 L432,1633.5 L433,1633.4 L434,1633.4 L435,1633.3 L436,1633.3 L437,1633.3 L438,1633.2 L439,1633.2 L440,1633.1 L441,1633.1 L442,1633.1 L443,1633 L444,1633 L445,1633 L446,1632.9 L447,1632.9 L448,1632.8 L449,1632.8 L450,1632.8 L451,1632.7 L452,1632.7 L453,1632.7 L454,1632.6 L455,1632.6 L456,1632.6 L457,1632.5 L458,1632.5 L459,1632.5 L460,1632.4 L461,1632.4 L462,1632.4 L463,1632.3 L464,1632.3 L465,1632.3 L466,1632.3 L467,1632.2 L468,1632.2 L469,1632.2 L470,1632.1 L471,1632.1 L472,1632.1 L473,1632.1 L474,1632 L475,1632 L476,1632 L477,1632 L478,1631.9 L479,1631.9 L480,1631.9 L481,1631.9 L482,1631.9 L483,1631.8 L484,1631.8 L485,1631.8 L486,1631.8 L487,1631.8 L488,1631.7 L489,1631.7 L490,1631.7 L491,1631.7 L492,1631.7 L493,1631.7 L494,1631.7 L495,1631.6 L496,1631.6 L497,1631.6 L498,1631.6 L499,1631.6 L500,1631.6 L501,1631.6 L502,1631.6 L503,1631.5 L504,1631.5 L505,1631.5 L506,1631.5 L507,1631.5 L508,1631.5 L509,1631.5 L510,1631.5 L511,1631.5 L512,1631.5 L513,1631.5 L514,1631.5 L515,1631.5 L516,1631.5 L517,1631.5 L518,1631.5 L519,1631.5 L520,1631.5 L521,1631.5 L522,1631.5 L523,1631.5 L524,1631.5 L525,1631.5 L526,1631.5 L527,1631.5 L528,1631.5 L529,1631.5 L530,1631.5 L531,1631.5 L532,1631.5 L533,1631.5 L534,1631.5 L535,1631.5 L536,1631.5 L537,1631.6 L538,1631.6 L539,1631.6 L540,1631.6 L541,1631.6 L542,1631.6 L543,1631.6 L544,1631.6 L545,1631.6 L546,1631.7 L547,1631.7 L548,1631.7 L549,1631.7 L550,1631.7 L551,1631.7 L552,1631.8 L553,1631.8 L554,1631.8 L555,1631.8 L556,1631.8 L557,1631.8 L558,1631.9 L559,1631.9 L560,1631.9 L561,1631.9 L562,1631.9 L563,1632 L564,1632 L565,1632 L566,1632 L567,1632.1 L568,1632.1 L569,1632.1 L570,1632.1 L571,1632.1 L572,1632.2 L573,1632.2 L574,1632.2 L575,1632.2 L576,1632.3 L577,1632.3 L578,1632.3 L579,1632.3 L580,1632.4 L581,1632.4 L582,1632.4 L583,1632.4 L584,1632.5 L585,1632.5 L586,1632.5 L587,1632.5 L588,1632.6 L589,1632.6 L590,1632.6 L591,1632.7 L592,1632.7 L593,1632.7 L594,1632.7 L595,1632.8 L596,1632.8 L597,1632.8 L598,1632.8 L599,1632.9 L600,1632.9 L601,1632.9 L602,1632.9 L603,1633 L604,1633 L605,1633 L606,1633 L607,1633.1 L608,1633.1 L609,1633.1 L610,1633.1 L611,1633.1 L612,1633.2 L613,1633.2 L614,1633.2 L615,1633.2 L616,1633.3 L617,1633.3 L618,1633.3 L619,1633.3 L620,1633.3 L621,1633.3 L622,1633.4 L623,1633.4 L624,1633.4 L625,1633.4 L626,1633.4 L627,1633.4 L628,1633.4 L629,1633.4 L630,1633.4 L631,1633.4 L632,1633.5 L633,1633.5 L634,1633.5 L635,1633.5 L636,1633.5 L637,1633.5 L638,1633.5 L639,1633.5 L640,1633.4 L641,1633.4 L642,1633.4 L643,1633.4 L644,1633.4 L645,1633.4 L646,1633.4 L647,1633.4 L648,1633.3 L649,1633.3 L650,1633.3 L651,1633.3 L652,1633.2 L653,1633.2 L654,1633.2 L655,1633.1 L656,1633.1 L657,1633.1 L658,1633 L659,1633 L660,1632.9 L661,1632.9 L662,1632.8 L663,1632.8 L664,1632.7 L665,1632.6 L666,1632.6 L667,1632.5 L668,1632.4 L669,1632.4 L670,1632.3 L671,1632.2 L672,1632.1 L673,1632 L674,1631.9 L675,1631.9 L676,1631.8 L677,1631.7 L678,1631.5 L679,1631.4 L680,1631.3 L681,1631.2 L682,1631.1 L683,1631 L684,1630.8 L685,1630.7 L686,1630.5 L687,1630.4 L688,1630.3 L689,1630.1 L690,1629.9 L691,1629.8 L692,1629.6 L693,1629.4 L694,1629.3 L695,1629.1 L696,1628.9 L697,1628.7 L698,1628.5 L699,1628.3 L700,1628.1 L701,1627.9 L702,1627.7 L703,1627.5 L704,1627.2 L705,1627 L706,1626.8 L707,1626.5 L708,1626.3 L709,1626 L710,1625.7 L711,1625.5 L712,1625.2 L713,1624.9 L714,1624.6 L715,1624.4 L716,1624.1 L717,1623.8 L718,1623.5 L719,1623.1 L720,1622.8 L721,1622.5 L722,1622.2 L723,1621.8 L724,1621.5 L725,1621.1 L726,1620.8 L727,1620.4 L728,1620.1 L729,1619.7 L730,1619.3 L731,1618.9 L732,1618.5 L733,1618.1 L734,1617.7 L735,1617.3 L736,1616.9 L737,1616.5 L738,1616.1 L739,1615.7 L740,1615.2 L741,1614.8 L742,1614.3 L743,1613.9 L744,1613.4 L745,1613 L746,1612.5 L747,1612 L748,1611.6 L749,1611.1 L750,1610.6 L751,1610.1 L752,1609.6 L753,1609.1 L754,1608.6 L755,1608.1 L756,1607.6 L757,1607 L758,1606.5 L759,1606 L760,1605.4 L761,1604.9 L762,1604.4 L763,1603.8 L764,1603.3 L765,1602.7 L766,1602.2 L767,1601.6 L768,1601 L769,1600.4 L770,1599.9 L771,1599.3 L772,1598.7 L773,1598.1 L774,1597.5 L775,1596.9 L776,1596.3 L777,1595.7 L778,1595.1 L779,1594.5 L780,1593.9 L781,1593.3 L782,1592.6 L783,1592 L784,1591.4 L785,1590.7 L786,1590.1 L787,1589.4 L788,1588.8 L789,1588.1 L790,1587.4 L791,1586.7 L792,1586 L793,1585.3 L794,1584.6 L795,1583.9 L796,1583.1 L797,1582.4 L798,1581.6 L799,1580.8 L800,1580 L801,1579.1 L802,1578.3 L803,1577.4 L804,1576.5 L805,1575.5 L806,1574.5 L807,1573.5 L808,1572.4 L809,1571.3 L810,1570.2 L811,1569 L812,1567.7 L813,1566.4 L814,1565 L815,1563.5 L816,1562 L817,1560.3 L818,1558.6 L819,1556.8 L820,1554.9 L821,1552.8 L822,1550.7 L823,1548.4 L824,1546 L825,1543.4 L826,1540.7 L827,1537.8 L828,1534.8 L829,1531.6 L830,1528.2 L831,1524.6 L832,1520.8 L833,1516.8 L834,1512.6 L835,1508.1 L836,1503.4 L837,1498.5 L838,1493.3 L839,1487.9 L840,1482.2 L841,1476.3 L842,1470.1 L843,1463.6 L844,1456.8 L845,1449.8 L846,1442.5 L847,1434.9 L848,1427.1 L849,1419 L850,1410.6 L851,1401.9 L852,1393.1 L853,1383.9 L854,1374.6 L855,1365 L856,1355.2 L857,1345.3 L858,1335.2 L859,1324.9 L860,1314.5 L861,1304 L862,1293.5 L863,1282.9 L864,1272.3 L865,1261.7 L866,1251.1 L867,1240.7 L868,1230.4 L869,1220.3 L870,1210.4 L871,1200.8 L872,1191.6 L873,1182.7 L874,1174.2 L875,1166.2 L876,1158.8 L877,1151.9 L878,1145.7 L879,1140.2 L880,1135.4 L881,1131.4 L882,1128.2 L883,1125.9 L884,1124.4 L885,1123.8 L886,1124.1 L887,1125.4 L888,1127.7 L889,1131 L890,1135.3 L891,1140.5 L892,1146.6 L893,1153.6 L894,1161.3 L895,1169.8 L896,1179 L897,1188.7 L898,1199 L899,1209.7 L900,1220.9 L901,1232.4 L902,1244.2 L903,1256.2 L904,1268.4 L905,1280.6 L906,1293 L907,1305.4 L908,1317.7 L909,1330 L910,1342.2 L911,1354.3 L912,1366.2 L913,1377.9 L914,1389.4 L915,1400.6 L916,1411.6 L917,1422.4 L918,1432.8 L919,1443 L920,1452.8 L921,1462.3 L922,1471.5 L923,1480.4 L924,1488.9 L925,1497.1 L926,1504.9 L927,1512.4 L928,1519.6 L929,1526.5 L930,1533.1 L931,1539.3 L932,1545.2 L933,1550.8 L934,1556.2 L935,1561.2 L936,1566 L937,1570.6 L938,1574.8 L939,1578.9 L940,1582.7 L941,1586.2 L942,1589.6 L943,1592.8 L944,1595.8 L945,1598.6 L946,1601.2 L947,1603.7 L948,1606.1 L949,1608.3 L950,1610.3 L951,1612.3 L952,1614.1 L953,1615.8 L954,1617.5 L955,1619 L956,1620.4 L957,1621.8 L958,1623.1 L959,1624.3 L960,1625.5 L961,1626.5 L962,1627.6 L963,1628.6 L964,1629.5 L965,1630.4 L966,1631.3 L967,1632.1 L968,1632.9 L969,1633.6 L970,1634.3 L971,1635 L972,1635.7 L973,1636.3 L974,1636.9 L975,1637.5 L976,1638.1 L977,1638.6 L978,1639.2 L979,1639.7 L980,1640.2 L981,1640.7 L982,1641.1 L983,1641.6 L984,1642 L985,1642.5 L986,1642.9 L987,1643.3 L988,1643.7 L989,1644 L990,1644.4 L991,1644.8 L992,1645.1 L993,1645.5 L994,1645.8 L995,1646.1 L996,1646.4 L997,1646.7 L998,1647 L999,1647.3 L1000,1647.6 L1001,1647.9 L1002,1648.2 L1003,1648.4 L1004,1648.7 L1005,1648.9 L1006,1649.2 L1007,1649.4 L1008,1649.6 L1009,1649.8 L1010,1650.1 L1011,1650.3 L1012,1650.5 L1013,1650.7 L1014,1650.9 L1015,1651.1 L1016,1651.3 L1017,1651.4 L1018,1651.6 L1019,1651.8 L1020,1652 L1021,1652.1 L1022,1652.3 L1023,1652.4 L1024,1652.6 L1025,1652.8 L1026,1652.9 L1027,1653 L1028,1653.2 L1029,1653.3 L1030,1653.4 L1031,1653.6 L1032,1653.7 L1033,1653.8 L1034,1653.9 L1035,1654.1 L1036,1654.2 L1037,1654.3 L1038,1654.4 L1039,1654.5 L1040,1654.6 L1041,1654.7 L1042,1654.8 L1043,1654.9 L1044,1655 L1045,1655.1 L1046,1655.2 L1047,1655.3 L1048,1655.4 L1049,1655.4 L1050,1655.5 L1051,1655.6 L1052,1655.7 L1053,1655.8 L1054,1655.8 L1055,1655.9 L1056,1656 L1057,1656.1 L1058,1656.1 L1059,1656.2 L1060,1656.3 L1061,1656.3 L1062,1656.4 L1063,1656.5 L1064,1656.5 L1065,1656.6 L1066,1656.6 L1067,1656.7 L1068,1656.8 L1069,1656.8 L1070,1656.9 L1071,1656.9 L1072,1657 L1073,1657 L1074,1657.1 L1075,1657.1 L1076,1657.2 L1077,1657.2 L1078,1657.3 L1079,1657.3 L1080,1657.4 L1081,1657.4 L1082,1657.4 L1083,1657.5 L1084,1657.5 L1085,1657.6 L1086,1657.6 L1087,1657.7 L1088,1657.7 L1089,1657.7 L1090,1657.8 L1091,1657.8" fill="none" stroke="#000" stroke-width="8" stroke-linejoin="round" stroke-linecap="round"/>
<path d="M209,1641.1 L210,1641.1 L211,1641.1 L212,1641.1 L213,1641 L214,1641 L215,1641 L216,1641 L217,1641 L218,1641 L219,1641 L220,1640.9 L221,1640.9 L222,1640.9 L223,1640.9 L224,1640.9 L225,1640.9 L226,1640.9 L227,1640.8 L228,1640.8 L229,1640.8 L230,1640.8 L231,1640.8 L232,1640.8 L233,1640.8 L234,1640.7 L235,1640.7 L236,1640.7 L237,1640.7 L238,1640.7 L239,1640.7 L240,1640.6 L241,1640.6 L242,1640.6 L243,1640.6 L244,1640.6 L245,1640.5 L246,1640.5 L247,1640.5 L248,1640.5 L249,1640.5 L250,1640.4 L251,1640.4 L252,1640.4 L253,1640.4 L254,1640.4 L255,1640.3 L256,1640.3 L257,1640.3 L258,1640.3 L259,1640.3 L260,1640.2 L261,1640.2 L262,1640.2 L263,1640.2 L264,1640.1 L265,1640.1 L266,1640.1 L267,1640.1 L268,1640.1 L269,1640 L270,1640 L271,1640 L272,1640 L273,1639.9 L274,1639.9 L275,1639.9 L276,1639.9 L277,1639.8 L278,1639.8 L279,1639.8 L280,1639.7 L281,1639.7 L282,1639.7 L283,1639.7 L284,1639.6 L285,1639.6 L286,1639.6 L287,1639.5 L288,1639.5 L289,1639.5 L290,1639.5 L291,1639.4 L292,1639.4 L293,1639.4 L294,1639.3 L295,1639.3 L296,1639.3 L297,1639.2 L298,1639.2 L299,1639.2 L300,1639.1 L301,1639.1 L302,1639.1 L303,1639 L304,1639 L305,1639 L306,1638.9 L307,1638.9 L308,1638.9 L309,1638.8 L310,1638.8 L311,1638.8 L312,1638.7 L313,1638.7 L314,1638.7 L315,1638.6 L316,1638.6 L317,1638.6 L318,1638.5 L319,1638.5 L320,1638.4 L321,1638.4 L322,1638.4 L323,1638.3 L324,1638.3 L325,1638.3 L326,1638.2 L327,1638.2 L328,1638.1 L329,1638.1 L330,1638.1 L331,1638 L332,1638 L333,1637.9 L334,1637.9 L335,1637.9 L336,1637.8 L337,1637.8 L338,1637.7 L339,1637.7 L340,1637.6 L341,1637.6 L342,1637.6 L343,1637.5 L344,1637.5 L345,1637.4 L346,1637.4 L347,1637.3 L348,1637.3 L349,1637.3 L350,1637.2 L351,1637.2 L352,1637.1 L353,1637.1 L354,1637 L355,1637 L356,1636.9 L357,1636.9 L358,1636.9 L359,1636.8 L360,1636.8 L361,1636.7 L362,1636.7 L363,1636.6 L364,1636.6 L365,1636.5 L366,1636.5 L367,1636.4 L368,1636.4 L369,1636.4 L370,1636.3 L371,1636.3 L372,1636.2 L373,1636.2 L374,1636.1 L375,1636.1 L376,1636 L377,1636 L378,1635.9 L379,1635.9 L380,1635.8 L381,1635.8 L382,1635.7 L383,1635.7 L384,1635.6 L385,1635.6 L386,1635.6 L387,1635.5 L388,1635.5 L389,1635.4 L390,1635.4 L391,1635.3 L392,1635.3 L393,1635.2 L394,1635.2 L395,1635.1 L396,1635.1 L397,1635 L398,1635 L399,1634.9 L400,1634.9 L401,1634.8 L402,1634.8 L403,1634.8 L404,1634.7 L405,1634.7 L406,1634.6 L407,1634.6 L408,1634.5 L409,1634.5 L410,1634.4 L411,1634.4 L412,1634.3 L413,1634.3 L414,1634.2 L415,1634.2 L416,1634.2 L417,1634.1 L418,1634.1 L419,1634 L420,1634 L421,1633.9 L422,1633.9 L423,1633.8 L424,1633.8 L425,1633.8 L426,1633.7 L427,1633.7 L428,1633.6 L429,1633.6 L430,1633.5 L431,1633.5 L432,1633.5 L433,1633.4 L434,1633.4 L435,1633.3 L436,1633.3 L437,1633.3 L438,1633.2 L439,1633.2 L440,1633.1 L441,1633.1 L442,1633.1 L443,1633 L444,1633 L445,1633 L446,1632.9 L447,1632.9 L448,1632.8 L449,1632.8 L450,1632.8 L451,1632.7 L452,1632.7 L453,1632.7 L454,1632.6 L455,1632.6 L456,1632.6 L457,1632.5 L458,1632.5 L459,1632.5 L460,1632.4 L461,1632.4 L462,1632.4 L463,1632.3 L464,1632.3 L465,1632.3 L466,1632.3 L467,1632.2 L468,1632.2 L469,1632.2 L470,1632.1 L471,1632.1 L472,1632.1 L473,1632.1 L474,1632 L475,1632 L476,1632 L477,1632 L478,1631.9 L479,1631.9 L480,1631.9 L481,1631.9 L482,1631.9 L483,1631.8 L484,1631.8 L485,1631.8 L486,1631.8 L487,1631.8 L488,1631.7 L489,1631.7 L490,1631.7 L491,1631.7 L492,1631.7 L493,1631.7 L494,1631.7 L495,1631.6 L496,1631.6 L497,1631.6 L498,1631.6 L499,1631.6 L500,1631.6 L501,1631.6 L502,1631.6 L503,1631.5 L504,1631.5 L505,1631.5 L506,1631.5 L507,1631.5 L508,1631.5 L509,1631.5 L510,1631.5 L511,1631.5 L512,1631.5 L513,1631.5 L514,1631.5 L515,1631.5 L516,1631.5 L517,1631.5 L518,1631.5 L519,1631.5 L520,1631.5 L521,1631.5 L522,1631.5 L523,1631.5 L524,1631.5 L525,1631.5 L526,1631.5 L527,1631.5 L528,1631.5 L529,1631.5 L530,1631.5 L531,1631.5 L532,1631.5 L533,1631.5 L534,1631.5 L535,1631.5 L536,1631.5 L537,1631.6 L538,1631.6 L539,1631.6 L540,1631.6 L541,1631.6 L542,1631.6 L543,1631.6 L544,1631.6 L545,1631.6 L546,1631.7 L547,1631.7 L548,1631.7 L549,1631.7 L550,1631.7 L551,1631.7 L552,1631.8 L553,1631.8 L554,1631.8 L555,1631.8 L556,1631.8 L557,1631.8 L558,1631.9 L559,1631.9 L560,1631.9 L561,1631.9 L562,1631.9 L563,1632 L564,1632 L565,1632 L566,1632 L567,1632.1 L568,1632.1 L569,1632.1 L570,1632.1 L571,1632.1 L572,1632.2 L573,1632.2 L574,1632.2 L575,1632.2 L576,1632.3 L577,1632.3 L578,1632.3 L579,1632.3 L580,1632.4 L581,1632.4 L582,1632.4 L583,1632.4 L584,1632.5 L585,1632.5 L586,1632.5 L587,1632.5 L588,1632.6 L589,1632.6 L590,1632.6 L591,1632.7 L592,1632.7 L593,1632.7 L594,1632.7 L595,1632.8 L596,1632.8 L597,1632.8 L598,1632.8 L599,1632.9 L600,1632.9 L601,1632.9 L602,1632.9 L603,1633 L604,1633 L605,1633 L606,1633 L607,1633.1 L608,1633.1 L609,1633.1 L610,1633.1 L611,1633.1 L612,1633.2 L613,1633.2 L614,1633.2 L615,1633.2 L616,1633.3 L617,1633.3 L618,1633.3 L619,1633.3 L620,1633.3 L621,1633.3 L622,1633.4 L623,1633.4 L624,1633.4 L625,1633.4 L626,1633.4 L627,1633.4 L628,1633.4 L629,1633.4 L630,1633.4 L631,1633.4 L632,1633.5 L633,1633.5 L634,1633.5 L635,1633.5 L636,1633.5 L637,1633.5 L638,1633.5 L639,1633.5 L640,1633.4 L641,1633.4 L642,1633.4 L643,1633.4 L644,1633.4 L645,1633.4 L646,1633.4 L647,1633.4 L648,1633.3 L649,1633.3 L650,1633.3 L651,1633.3 L652,1633.2 L653,1633.2 L654,1633.2 L655,1633.1 L656,1633.1 L657,1633.1 L658,1633 L659,1633 L660,1632.9 L661,1632.9 L662,1632.8 L663,1632.8 L664,1632.7 L665,1632.6 L666,1632.6 L667,1632.5 L668,1632.4 L669,1632.4 L670,1632.3 L671,1632.2 L672,1632.1 L673,1632 L674,1631.9 L675,1631.9 L676,1631.8 L677,1631.7 L678,1631.5 L679,1631.4 L680,1631.3 L681,1631.2 L682,1631.1 L683,1631 L684,1630.8 L685,1630.7 L686,1630.5 L687,1630.4 L688,1630.3 L689,1630.1 L690,1629.9 L691,1629.8 L692,1629.6 L693,1629.4 L694,1629.3 L695,1629.1 L696,1628.9 L697,1628.7 L698,1628.5 L699,1628.3 L700,1628.1 L701,1627.9 L702,1627.7 L703,1627.5 L704,1627.2 L705,1627 L706,1626.8 L707,1626.5 L708,1626.3 L709,1626 L710,1625.7 L711,1625.5 L712,1625.2 L713,1624.9 L714,1624.6 L715,1624.4 L716,1624.1 L717,1623.8 L718,1623.5 L719,1623.1 L720,1622.8 L721,1622.5 L722,1622.2 L723,1621.8 L724,1621.5 L725,1621.1 L726,1620.8 L727,1620.4 L728,1620.1 L729,1619.7 L730,1619.3 L731,1618.9 L732,1618.5 L733,1618.1 L734,1617.7 L735,1617.3 L736,1616.9 L737,1616.5 L738,1616.1 L739,1615.7 L740,1615.2 L741,1614.8 L742,1614.3 L743,1613.9 L744,1613.4 L745,1613 L746,1612.5 L747,1612 L748,1611.6 L749,1611.1 L750,1610.6 L751,1610.1 L752,1609.6 L753,1609.1 L754,1608.6 L755,1608.1 L756,1607.6 L757,1607 L758,1606.5 L759,1606 L760,1605.4 L761,1604.9 L762,1604.4 L763,1603.8 L764,1603.3 L765,1602.7 L766,1602.2 L767,1601.6 L768,1601 L769,1600.4 L770,1599.9 L771,1599.3 L772,1598.7 L773,1598.1 L774,1597.5 L775,1596.9 L776,1596.3 L777,1595.7 L778,1595.1 L779,1594.5 L780,1593.9 L781,1593.3 L782,1592.6 L783,1592 L784,1591.4 L785,1590.7 L786,1590.1 L787,1589.4 L788,1588.8 L789,1588.1 L790,1587.4 L791,1586.7 L792,1586 L793,1585.3 L794,1584.6 L795,1583.9 L796,1583.1 L797,1582.4 L798,1581.6 L799,1580.8 L800,1580 L801,1579.1 L802,1578.3 L803,1577.4 L804,1576.5 L805,1575.5 L806,1574.5 L807,1573.5 L808,1572.4 L809,1571.3 L810,1570.2 L811,1569 L812,1567.7 L813,1566.4 L814,1565 L815,1563.5 L816,1562 L817,1560.3 L818,1558.6 L819,1556.8 L820,1554.9 L821,1552.8 L822,1550.7 L823,1548.4 L824,1546 L825,1543.4 L826,1540.7 L827,1537.8 L828,1534.8 L829,1531.6 L830,1528.2 L831,1524.6 L832,1520.8 L833,1516.8 L834,1512.6 L835,1508.1 L836,1503.4 L837,1498.5 L838,1493.3 L839,1487.9 L840,1482.2 L841,1476.3 L842,1470.1 L843,1463.6 L844,1456.8 L845,1449.8 L846,1442.5 L847,1434.9 L848,1427.1 L849,1419 L850,1410.6 L851,1401.9 L852,1393.1 L853,1383.9 L854,1374.6 L855,1365 L856,1355.2 L857,1345.3 L858,1335.2 L859,1324.9 L860,1314.5 L861,1304 L862,1293.5 L863,1282.9 L864,1272.3 L865,1261.7 L866,1251.1 L867,1240.7 L868,1230.4 L869,1220.3 L870,1210.4 L871,1200.8 L872,1191.6 L873,1182.7 L874,1174.2 L875,1166.2 L876,1158.8 L877,1151.9 L878,1145.7 L879,1140.2 L880,1135.4 L881,1131.4 L882,1128.2 L883,1125.9 L884,1124.4 L885,1123.8 L886,1124.1 L887,1125.4 L888,1127.7 L889,1131 L890,1135.3 L891,1140.5 L892,1146.6 L893,1153.6 L894,1161.3 L895,1169.8 L896,1179 L897,1188.7 L898,1199 L899,1209.7 L900,1220.9 L901,1232.4 L902,1244.2 L903,1256.2 L904,1268.4 L905,1280.6 L906,1293 L907,1305.4 L908,1317.7 L909,1330 L910,1342.2 L911,1354.3 L912,1366.2 L913,1377.9 L914,1389.4 L915,1400.6 L916,1411.6 L917,1422.4 L918,1432.8 L919,1443 L920,1452.8 L921,1462.3 L922,1471.5 L923,1480.4 L924,1488.9 L925,1497.1 L926,1504.9 L927,1512.4 L928,1519.6 L929,1526.5 L930,1533.1 L931,1539.3 L932,1545.2 L933,1550.8 L934,1556.2 L935,1561.2 L936,1566 L937,1570.6 L938,1574.8 L939,1578.9 L940,1582.7 L941,1586.2 L942,1589.6 L943,1592.8 L944,1595.8 L945,1598.6 L946,1601.2 L947,1603.7 L948,1606.1 L949,1608.3 L950,1610.3 L951,1612.3 L952,1614.1 L953,1615.8 L954,1617.5 L955,1619 L956,1620.4 L957,1621.8 L958,1623.1 L959,1624.3 L960,1625.5 L961,1626.5 L962,1627.6 L963,1628.6 L964,1629.5 L965,1630.4 L966,1631.3 L967,1632.1 L968,1632.9 L969,1633.6 L970,1634.3 L971,1635 L972,1635.7 L973,1636.3 L974,1636.9 L975,1637.5 L976,1638.1 L977,1638.6 L978,1639.2 L979,1639.7 L980,1640.2 L981,1640.7 L982,1641.1 L983,1641.6 L984,1642 L985,1642.5 L986,1642.9 L987,1643.3 L988,1643.7 L989,1644 L990,1644.4 L991,1644.8 L992,1645.1 L993,1645.5 L994,1645.8 L995,1646.1 L996,1646.4 L997,1646.7 L998,1647 L999,1647.3 L1000,1647.6 L1001,1647.9 L1002,1648.2 L1003,1648.4 L1004,1648.7 L1005,1648.9 L1006,1649.2 L1007,1649.4 L1008,1649.6 L1009,1649.8 L1010,1650.1 L1011,1650.3 L1012,1650.5 L1013,1650.7 L1014,1650.9 L1015,1651.1 L1016,1651.3 L1017,1651.4 L1018,1651.6 L1019,1651.8 L1020,1652 L1021,1652.1 L1022,1652.3 L1023,1652.4 L1024,1652.6 L1025,1652.8 L1026,1652.9 L1027,1653 L1028,1653.2 L1029,1653.3 L1030,1653.4 L1031,1653.6 L1032,1653.7 L1033,1653.8 L1034,1653.9 L1035,1654.1 L1036,1654.2 L1037,1654.3 L1038,1654.4 L1039,1654.5 L1040,1654.6 L1041,1654.7 L1042,1654.8 L1043,1654.9 L1044,1655 L1045,1655.1 L1046,1655.2 L1047,1655.3 L1048,1655.4 L1049,1655.4 L1050,1655.5 L1051,1655.6 L1052,1655.7 L1053,1655.8 L1054,1655.8 L1055,1655.9 L1056,1656 L1057,1656.1 L1058,1656.1 L1059,1656.2 L1060,1656.3 L1061,1656.3 L1062,1656.4 L1063,1656.5 L1064,1656.5 L1065,1656.6 L1066,1656.6 L1067,1656.7 L1068,1656.8 L1069,1656.8 L1070,1656.9 L1071,1656.9 L1072,1657 L1073,1657 L1074,1657.1 L1075,1657.1 L1076,1657.2 L1077,1657.2 L1078,1657.3 L1079,1657.3 L1080,1657.4 L1081,1657.4 L1082,1657.4 L1083,1657.5 L1084,1657.5 L1085,1657.6 L1086,1657.6 L1087,1657.7 L1088,1657.7 L1089,1657.7 L1090,1657.8 L1091,1657.8" fill="none" stroke="#ff0000" stroke-width="5" stroke-linejoin="round" stroke-linecap="round"/>
<path d="M209,1642.1 L210,1642.1 L211,1642.1 L212,1642.1 L213,1642.1 L214,1642.1 L215,1642.1 L216,1642.1 L217,1642.1 L218,1642.1 L219,1642.1 L220,1642.1 L221,1642.1 L222,1642.1 L223,1642.1 L224,1642.1 L225,1642.1 L226,1642.1 L227,1642.1 L228,1642.1 L229,1642.1 L230,1642.1 L231,1642.1 L232,1642.1 L233,1642.1 L234,1642.1 L235,1642.1 L236,1642.1 L237,1642.1 L238,1642.1 L239,1642.1 L240,1642.1 L241,1642.1 L242,1642.1 L243,1642.1 L244,1642.1 L245,1642.1 L246,1642.1 L247,1642.1 L248,1642.1 L249,1642.1 L250,1642.1 L251,1642.1 L252,1642.1 L253,1642.1 L254,1642.1 L255,1642.1 L256,1642.1 L257,1642.1 L258,1642.1 L259,1642.1 L260,1642.1 L261,1642.1 L262,1642.1 L263,1642.1 L264,1642.1 L265,1642.1 L266,1642.1 L267,1642.1 L268,1642.1 L269,1642.1 L270,1642.1 L271,1642.1 L272,1642.1 L273,1642.1 L274,1642.1 L275,1642.1 L276,1642.1 L277,1642.1 L278,1642.1 L279,1642.1 L280,1642.1 L281,1642.1 L282,1642.1 L283,1642.1 L284,1642.1 L285,1642.1 L286,1642.1 L287,1642.1 L288,1642.1 L289,1642.1 L290,1642.1 L291,1642.1 L292,1642.1 L293,1642.1 L294,1642.1 L295,1642.1 L296,1642.1 L297,1642.1 L298,1642.2 L299,1642.2 L300,1642.2 L301,1642.2 L302,1642.2 L303,1642.2 L304,1642.2 L305,1642.2 L306,1642.2 L307,1642.2 L308,1642.2 L309,1642.2 L310,1642.2 L311,1642.2 L312,1642.2 L313,1642.2 L314,1642.2 L315,1642.2 L316,1642.2 L317,1642.2 L318,1642.2 L319,1642.2 L320,1642.2 L321,1642.2 L322,1642.2 L323,1642.2 L324,1642.2 L325,1642.2 L326,1642.2 L327,1642.2 L328,1642.2 L329,1642.2 L330,1642.2 L331,1642.2 L332,1642.2 L333,1642.2 L334,1642.2 L335,1642.2 L336,1642.2 L337,1642.2 L338,1642.2 L339,1642.2 L340,1642.2 L341,1642.2 L342,1642.3 L343,1642.3 L344,1642.3 L345,1642.3 L346,1642.3 L347,1642.3 L348,1642.3 L349,1642.3 L350,1642.3 L351,1642.3 L352,1642.3 L353,1642.3 L354,1642.3 L355,1642.3 L356,1642.3 L357,1642.3 L358,1642.3 L359,1642.3 L360,1642.3 L361,1642.3 L362,1642.3 L363,1642.3 L364,1642.3 L365,1642.3 L366,1642.3 L367,1642.3 L368,1642.3 L369,1642.3 L370,1642.3 L371,1642.3 L372,1642.4 L373,1642.4 L374,1642.4 L375,1642.4 L376,1642.4 L377,1642.4 L378,1642.4 L379,1642.4 L380,1642.4 L381,1642.4 L382,1642.4 L383,1642.4 L384,1642.4 L385,1642.4 L386,1642.4 L387,1642.4 L388,1642.4 L389,1642.4 L390,1642.4 L391,1642.4 L392,1642.4 L393,1642.4 L394,1642.4 L395,1642.5 L396,1642.5 L397,1642.5 L398,1642.5 L399,1642.5 L400,1642.5 L401,1642.5 L402,1642.5 L403,1642.5 L404,1642.5 L405,1642.5 L406,1642.5 L407,1642.5 L408,1642.5 L409,1642.5 L410,1642.5 L411,1642.5 L412,1642.5 L413,1642.5 L414,1642.5 L415,1642.6 L416,1642.6 L417,1642.6 L418,1642.6 L419,1642.6 L420,1642.6 L421,1642.6 L422,1642.6 L423,1642.6 L424,1642.6 L425,1642.6 L426,1642.6 L427,1642.6 L428,1642.6 L429,1642.6 L430,1642.6 L431,1642.6 L432,1642.6 L433,1642.7 L434,1642.7 L435,1642.7 L436,1642.7 L437,1642.7 L438,1642.7 L439,1642.7 L440,1642.7 L441,1642.7 L442,1642.7 L443,1642.7 L444,1642.7 L445,1642.7 L446,1642.7 L447,1642.7 L448,1642.7 L449,1642.7 L450,1642.8 L451,1642.8 L452,1642.8 L453,1642.8 L454,1642.8 L455,1642.8 L456,1642.8 L457,1642.8 L458,1642.8 L459,1642.8 L460,1642.8 L461,1642.8 L462,1642.8 L463,1642.8 L464,1642.8 L465,1642.9 L466,1642.9 L467,1642.9 L468,1642.9 L469,1642.9 L470,1642.9 L471,1642.9 L472,1642.9 L473,1642.9 L474,1642.9 L475,1642.9 L476,1642.9 L477,1642.9 L478,1642.9 L479,1642.9 L480,1643 L481,1643 L482,1643 L483,1643 L484,1643 L485,1643 L486,1643 L487,1643 L488,1643 L489,1643 L490,1643 L491,1643 L492,1643 L493,1643 L494,1643.1 L495,1643.1 L496,1643.1 L497,1643.1 L498,1643.1 L499,1643.1 L500,1643.1 L501,1643.1 L502,1643.1 L503,1643.1 L504,1643.1 L505,1643.1 L506,1643.1 L507,1643.2 L508,1643.2 L509,1643.2 L510,1643.2 L511,1643.2 L512,1643.2 L513,1643.2 L514,1643.2 L515,1643.2 L516,1643.2 L517,1643.2 L518,1643.2 L519,1643.2 L520,1643.2 L521,1643.3 L522,1643.3 L523,1643.3 L524,1643.3 L525,1643.3 L526,1643.3 L527,1643.3 L528,1643.3 L529,1643.3 L530,1643.3 L531,1643.3 L532,1643.3 L533,1643.3 L534,1643.4 L535,1643.4 L536,1643.4 L537,1643.4 L538,1643.4 L539,1643.4 L540,1643.4 L541,1643.4 L542,1643.4 L543,1643.4 L544,1643.4 L545,1643.4 L546,1643.4 L547,1643.4 L548,1643.5 L549,1643.5 L550,1643.5 L551,1643.5 L552,1643.5 L553,1643.5 L554,1643.5 L555,1643.5 L556,1643.5 L557,1643.5 L558,1643.5 L559,1643.5 L560,1643.5 L561,1643.5 L562,1643.6 L563,1643.6 L564,1643.6 L565,1643.6 L566,1643.6 L567,1643.6 L568,1643.6 L569,1643.6 L570,1643.6 L571,1643.6 L572,1643.6 L573,1643.6 L574,1643.6 L575,1643.6 L576,1643.7 L577,1643.7 L578,1643.7 L579,1643.7 L580,1643.7 L581,1643.7 L582,1643.7 L583,1643.7 L584,1643.7 L585,1643.7 L586,1643.7 L587,1643.7 L588,1643.7 L589,1643.7 L590,1643.7 L591,1643.8 L592,1643.8 L593,1643.8 L594,1643.8 L595,1643.8 L596,1643.8 L597,1643.8 L598,1643.8 L599,1643.8 L600,1643.8 L601,1643.8 L602,1643.8 L603,1643.8 L604,1643.8 L605,1643.8 L606,1643.8 L607,1643.9 L608,1643.9 L609,1643.9 L610,1643.9 L611,1643.9 L612,1643.9 L613,1643.9 L614,1643.9 L615,1643.9 L616,1643.9 L617,1643.9 L618,1643.9 L619,1643.9 L620,1643.9 L621,1643.9 L622,1643.9 L623,1644 L624,1644 L625,1644 L626,1644 L627,1644 L628,1644 L629,1644 L630,1644 L631,1644 L632,1644 L633,1644 L634,1644 L635,1644 L636,1644 L637,1644 L638,1644 L639,1644.1 L640,1644.1 L641,1644.1 L642,1644.1 L643,1644.1 L644,1644.1 L645,1644.1 L646,1644.1 L647,1644.1 L648,1644.1 L649,1644.1 L650,1644.1 L651,1644.1 L652,1644.1 L653,1644.1 L654,1644.1 L655,1644.1 L656,1644.2 L657,1644.2 L658,1644.2 L659,1644.2 L660,1644.2 L661,1644.2 L662,1644.2 L663,1644.2 L664,1644.2 L665,1644.2 L666,1644.2 L667,1644.2 L668,1644.2 L669,1644.2 L670,1644.2 L671,1644.3 L672,1644.3 L673,1644.3 L674,1644.3 L675,1644.3 L676,1644.3 L677,1644.3 L678,1644.3 L679,1644.3 L680,1644.3 L681,1644.3 L682,1644.3 L683,1644.3 L684,1644.4 L685,1644.4 L686,1644.4 L687,1644.4 L688,1644.4 L689,1644.4 L690,1644.4 L691,1644.4 L692,1644.4 L693,1644.4 L694,1644.4 L695,1644.5 L696,1644.5 L697,1644.5 L698,1644.5 L699,1644.5 L700,1644.5 L701,1644.5 L702,1644.5 L703,1644.5 L704,1644.6 L705,1644.6 L706,1644.6 L707,1644.6 L708,1644.6 L709,1644.6 L710,1644.6 L711,1644.6 L712,1644.6 L713,1644.7 L714,1644.7 L715,1644.7 L716,1644.7 L717,1644.7 L718,1644.7 L719,1644.7 L720,1644.8 L721,1644.8 L722,1644.8 L723,1644.8 L724,1644.8 L725,1644.8 L726,1644.9 L727,1644.9 L728,1644.9 L729,1644.9 L730,1644.9 L731,1644.9 L732,1645 L733,1645 L734,1645 L735,1645 L736,1645 L737,1645 L738,1645.1 L739,1645.1 L740,1645.1 L741,1645.1 L742,1645.1 L743,1645.2 L744,1645.2 L745,1645.2 L746,1645.2 L747,1645.3 L748,1645.3 L749,1645.3 L750,1645.3 L751,1645.3 L752,1645.4 L753,1645.4 L754,1645.4 L755,1645.4 L756,1645.5 L757,1645.5 L758,1645.5 L759,1645.5 L760,1645.6 L761,1645.6 L762,1645.6 L763,1645.6 L764,1645.7 L765,1645.7 L766,1645.7 L767,1645.7 L768,1645.8 L769,1645.8 L770,1645.8 L771,1645.9 L772,1645.9 L773,1645.9 L774,1645.9 L775,1646 L776,1646 L777,1646 L778,1646.1 L779,1646.1 L780,1646.1 L781,1646.1 L782,1646.2 L783,1646.2 L784,1646.2 L785,1646.3 L786,1646.3 L787,1646.3 L788,1646.4 L789,1646.4 L790,1646.4 L791,1646.5 L792,1646.5 L793,1646.5 L794,1646.6 L795,1646.6 L796,1646.6 L797,1646.7 L798,1646.7 L799,1646.7 L800,1646.8 L801,1646.8 L802,1646.8 L803,1646.9 L804,1646.9 L805,1646.9 L806,1647 L807,1647 L808,1647 L809,1647.1 L810,1647.1 L811,1647.1 L812,1647.2 L813,1647.2 L814,1647.2 L815,1647.3 L816,1647.3 L817,1647.3 L818,1647.4 L819,1647.4 L820,1647.5 L821,1647.5 L822,1647.5 L823,1647.6 L824,1647.6 L825,1647.7 L826,1647.7 L827,1647.7 L828,1647.8 L829,1647.8 L830,1647.9 L831,1647.9 L832,1648 L833,1648 L834,1648.1 L835,1648.1 L836,1648.2 L837,1648.2 L838,1648.3 L839,1648.3 L840,1648.4 L841,1648.5 L842,1648.5 L843,1648.6 L844,1648.7 L845,1648.8 L846,1648.8 L847,1648.9 L848,1649 L849,1649.1 L850,1649.2 L851,1649.3 L852,1649.4 L853,1649.5 L854,1649.6 L855,1649.7 L856,1649.8 L857,1649.9 L858,1650 L859,1650.2 L860,1650.3 L861,1650.4 L862,1650.6 L863,1650.7 L864,1650.9 L865,1651 L866,1651.2 L867,1651.3 L868,1651.5 L869,1651.7 L870,1651.9 L871,1652 L872,1652.2 L873,1652.4 L874,1652.6 L875,1652.8 L876,1653 L877,1653.2 L878,1653.4 L879,1653.6 L880,1653.8 L881,1654 L882,1654.2 L883,1654.4 L884,1654.6 L885,1654.8 L886,1655 L887,1655.2 L888,1655.4 L889,1655.6 L890,1655.9 L891,1656.1 L892,1656.2 L893,1656.4 L894,1656.6 L895,1656.8 L896,1657 L897,1657.2 L898,1657.4 L899,1657.5 L900,1657.7 L901,1657.9 L902,1658 L903,1658.2 L904,1658.3 L905,1658.5 L906,1658.6 L907,1658.7 L908,1658.9 L909,1659 L910,1659.1 L911,1659.2 L912,1659.3 L913,1659.4 L914,1659.5 L915,1659.6 L916,1659.7 L917,1659.8 L918,1659.9 L919,1660 L920,1660 L921,1660.1 L922,1660.2 L923,1660.2 L924,1660.3 L925,1660.4 L926,1660.4 L927,1660.5 L928,1660.5 L929,1660.5 L930,1660.6 L931,1660.6 L932,1660.7 L933,1660.7 L934,1660.7 L935,1660.7 L936,1660.8 L937,1660.8 L938,1660.8 L939,1660.8 L940,1660.9 L941,1660.9 L942,1660.9 L943,1660.9 L944,1660.9 L945,1661 L946,1661 L947,1661 L948,1661 L949,1661 L950,1661 L951,1661 L952,1661 L953,1661.1 L954,1661.1 L955,1661.1 L956,1661.1 L957,1661.1 L958,1661.1 L959,1661.1 L960,1661.1 L961,1661.1 L962,1661.1 L963,1661.1 L964,1661.1 L965,1661.1 L966,1661.1 L967,1661.1 L968,1661.2 L969,1661.2 L970,1661.2 L971,1661.2 L972,1661.2 L973,1661.2 L974,1661.2 L975,1661.2 L976,1661.2 L977,1661.2 L978,1661.2 L979,1661.2 L980,1661.2 L981,1661.2 L982,1661.2 L983,1661.2 L984,1661.2 L985,1661.2 L986,1661.2 L987,1661.2 L988,1661.2 L989,1661.2 L990,1661.2 L991,1661.2 L992,1661.2 L993,1661.2 L994,1661.2 L995,1661.2 L996,1661.2 L997,1661.2 L998,1661.3 L999,1661.3 L1000,1661.3 L1001,1661.3 L1002,1661.3 L1003,1661.3 L1004,1661.3 L1005,1661.3 L1006,1661.3 L1007,1661.3 L1008,1661.3 L1009,1661.3 L1010,1661.3 L1011,1661.3 L1012,1661.3 L1013,1661.3 L1014,1661.3 L1015,1661.3 L1016,1661.3 L1017,1661.3 L1018,1661.3 L1019,1661.3 L1020,1661.3 L1021,1661.3 L1022,1661.3 L1023,1661.3 L1024,1661.3 L1025,1661.3 L1026,1661.3 L1027,1661.3 L1028,1661.3 L1029,1661.3 L1030,1661.3 L1031,1661.3 L1032,1661.3 L1033,1661.3 L1034,1661.3 L1035,1661.3 L1036,1661.3 L1037,1661.3 L1038,1661.3 L1039,1661.3 L1040,1661.3 L1041,1661.3 L1042,1661.3 L1043,1661.3 L1044,1661.3 L1045,1661.3 L1046,1661.3 L1047,1661.3 L1048,1661.3 L1049,1661.3 L1050,1661.3 L1051,1661.3 L1052,1661.3 L1053,1661.3 L1054,1661.3 L1055,1661.3 L1056,1661.3 L1057,1661.3 L1058,1661.3 L1059,1661.3 L1060,1661.3 L1061,1661.3 L1062,1661.3 L1063,1661.3 L1064,1661.3 L1065,1661.3 L1066,1661.3 L1067,1661.3 L1068,1661.3 L1069,1661.3 L1070,1661.3 L1071,1661.3 L1072,1661.4 L1073,1661.4 L1074,1661.4 L1075,1661.4 L1076,1661.4 L1077,1661.4 L1078,1661.4 L1079,1661.4 L1080,1661.4 L1081,1661.4 L1082,1661.4 L1083,1661.4 L1084,1661.4 L1085,1661.4 L1086,1661.4 L1087,1661.4 L1088,1661.4 L1089,1661.4 L1090,1661.4 L1091,1661.4" fill="none" stroke="#10108c" stroke-width="5" stroke-linejoin="round" stroke-linecap="round"/>
<path d="M395,1645.7 L396,1645.7 L397,1645.7 L398,1645.7 L399,1645.7 L400,1645.7 L401,1645.7 L402,1645.7 L403,1645.7 L404,1645.7 L405,1645.7 L406,1645.7 L407,1645.7 L408,1645.7 L409,1645.7 L410,1645.7 L411,1645.7 L412,1645.7 L413,1645.7 L414,1645.7 L415,1645.7 L416,1645.7 L417,1645.7 L418,1645.7 L419,1645.7 L420,1645.7 L421,1645.7 L422,1645.7 L423,1645.7 L424,1645.7 L425,1645.7 L426,1645.7 L427,1645.7 L428,1645.7 L429,1645.7 L430,1645.7 L431,1645.7 L432,1645.7 L433,1645.7 L434,1645.7 L435,1645.7 L436,1645.7 L437,1645.7 L438,1645.7 L439,1645.7 L440,1645.7 L441,1645.7 L442,1645.7 L443,1645.7 L444,1645.7 L445,1645.7 L446,1645.7 L447,1645.7 L448,1645.7 L449,1645.7 L450,1645.7 L451,1645.7 L452,1645.7 L453,1645.7 L454,1645.7 L455,1645.7 L456,1645.7 L457,1645.7 L458,1645.7 L459,1645.7 L460,1645.7 L461,1645.7 L462,1645.7 L463,1645.7 L464,1645.7 L465,1645.7 L466,1645.7 L467,1645.7 L468,1645.7 L469,1645.7 L470,1645.7 L471,1645.7 L472,1645.7 L473,1645.7 L474,1645.7 L475,1645.7 L476,1645.7 L477,1645.7 L478,1645.7 L479,1645.7 L480,1645.7 L481,1645.7 L482,1645.7 L483,1645.7 L484,1645.7 L485,1645.7 L486,1645.7 L487,1645.7 L488,1645.7 L489,1645.7 L490,1645.7 L491,1645.7 L492,1645.7 L493,1645.7 L494,1645.7 L495,1645.7 L496,1645.7 L497,1645.7 L498,1645.7 L499,1645.7 L500,1645.7 L501,1645.7 L502,1645.7 L503,1645.7 L504,1645.7 L505,1645.7 L506,1645.7 L507,1645.7 L508,1645.7 L509,1645.7 L510,1645.7 L511,1645.7 L512,1645.7 L513,1645.7 L514,1645.7 L515,1645.7 L516,1645.7 L517,1645.7 L518,1645.7 L519,1645.7 L520,1645.7 L521,1645.7 L522,1645.7 L523,1645.7 L524,1645.7 L525,1645.7 L526,1645.7 L527,1645.7 L528,1645.7 L529,1645.7 L530,1645.7 L531,1645.7 L532,1645.7 L533,1645.7 L534,1645.7 L535,1645.7 L536,1645.7 L537,1645.7 L538,1645.7 L539,1645.7 L540,1645.7 L541,1645.7 L542,1645.7 L543,1645.7 L544,1645.7 L545,1645.7 L546,1645.7 L547,1645.7 L548,1645.7 L549,1645.7 L550,1645.7 L551,1645.7 L552,1645.6 L553,1645.6 L554,1645.6 L555,1645.6 L556,1645.6 L557,1645.6 L558,1645.6 L559,1645.6 L560,1645.6 L561,1645.6 L562,1645.6 L563,1645.6 L564,1645.6 L565,1645.6 L566,1645.6 L567,1645.6 L568,1645.6 L569,1645.6 L570,1645.6 L571,1645.6 L572,1645.6 L573,1645.6 L574,1645.6 L575,1645.6 L576,1645.6 L577,1645.5 L578,1645.5 L579,1645.5 L580,1645.5 L581,1645.5 L582,1645.5 L583,1645.5 L584,1645.5 L585,1645.5 L586,1645.5 L587,1645.5 L588,1645.5 L589,1645.5 L590,1645.5 L591,1645.5 L592,1645.5 L593,1645.5 L594,1645.5 L595,1645.4 L596,1645.4 L597,1645.4 L598,1645.4 L599,1645.4 L600,1645.4 L601,1645.4 L602,1645.4 L603,1645.4 L604,1645.4 L605,1645.4 L606,1645.4 L607,1645.4 L608,1645.3 L609,1645.3 L610,1645.3 L611,1645.3 L612,1645.3 L613,1645.3 L614,1645.3 L615,1645.3 L616,1645.3 L617,1645.3 L618,1645.3 L619,1645.2 L620,1645.2 L621,1645.2 L622,1645.2 L623,1645.2 L624,1645.2 L625,1645.2 L626,1645.2 L627,1645.2 L628,1645.1 L629,1645.1 L630,1645.1 L631,1645.1 L632,1645.1 L633,1645.1 L634,1645.1 L635,1645.1 L636,1645 L637,1645 L638,1645 L639,1645 L640,1645 L641,1645 L642,1645 L643,1645 L644,1644.9 L645,1644.9 L646,1644.9 L647,1644.9 L648,1644.9 L649,1644.9 L650,1644.8 L651,1644.8 L652,1644.8 L653,1644.8 L654,1644.8 L655,1644.8 L656,1644.7 L657,1644.7 L658,1644.7 L659,1644.7 L660,1644.7 L661,1644.7 L662,1644.6 L663,1644.6 L664,1644.6 L665,1644.6 L666,1644.6 L667,1644.5 L668,1644.5 L669,1644.5 L670,1644.5 L671,1644.5 L672,1644.4 L673,1644.4 L674,1644.4 L675,1644.4 L676,1644.3 L677,1644.3 L678,1644.3 L679,1644.3 L680,1644.3 L681,1644.2 L682,1644.2 L683,1644.2 L684,1644.2 L685,1644.1 L686,1644.1 L687,1644.1 L688,1644 L689,1644 L690,1644 L691,1644 L692,1643.9 L693,1643.9 L694,1643.9 L695,1643.8 L696,1643.8 L697,1643.8 L698,1643.7 L699,1643.7 L700,1643.7 L701,1643.6 L702,1643.6 L703,1643.6 L704,1643.5 L705,1643.5 L706,1643.5 L707,1643.4 L708,1643.4 L709,1643.4 L710,1643.3 L711,1643.3 L712,1643.2 L713,1643.2 L714,1643.2 L715,1643.1 L716,1643.1 L717,1643 L718,1643 L719,1642.9 L720,1642.9 L721,1642.9 L722,1642.8 L723,1642.8 L724,1642.7 L725,1642.7 L726,1642.6 L727,1642.6 L728,1642.5 L729,1642.5 L730,1642.4 L731,1642.3 L732,1642.3 L733,1642.2 L734,1642.2 L735,1642.1 L736,1642 L737,1642 L738,1641.9 L739,1641.9 L740,1641.8 L741,1641.7 L742,1641.6 L743,1641.6 L744,1641.5 L745,1641.4 L746,1641.4 L747,1641.3 L748,1641.2 L749,1641.1 L750,1641 L751,1641 L752,1640.9 L753,1640.8 L754,1640.7 L755,1640.6 L756,1640.5 L757,1640.4 L758,1640.3 L759,1640.2 L760,1640.1 L761,1640 L762,1639.9 L763,1639.8 L764,1639.7 L765,1639.5 L766,1639.4 L767,1639.3 L768,1639.2 L769,1639 L770,1638.9 L771,1638.8 L772,1638.6 L773,1638.5 L774,1638.3 L775,1638.2 L776,1638 L777,1637.8 L778,1637.7 L779,1637.5 L780,1637.3 L781,1637.1 L782,1636.9 L783,1636.7 L784,1636.5 L785,1636.3 L786,1636.1 L787,1635.9 L788,1635.6 L789,1635.4 L790,1635.1 L791,1634.8 L792,1634.5 L793,1634.2 L794,1633.9 L795,1633.6 L796,1633.2 L797,1632.8 L798,1632.4 L799,1632 L800,1631.6 L801,1631.1 L802,1630.6 L803,1630.1 L804,1629.5 L805,1628.9 L806,1628.2 L807,1627.5 L808,1626.8 L809,1626 L810,1625.1 L811,1624.2 L812,1623.2 L813,1622.1 L814,1621 L815,1619.7 L816,1618.4 L817,1616.9 L818,1615.4 L819,1613.7 L820,1612 L821,1610 L822,1608 L823,1605.8 L824,1603.4 L825,1600.9 L826,1598.1 L827,1595.2 L828,1592.1 L829,1588.8 L830,1585.3 L831,1581.5 L832,1577.5 L833,1573.3 L834,1568.7 L835,1564 L836,1558.9 L837,1553.6 L838,1548 L839,1542 L840,1535.8 L841,1529.3 L842,1522.4 L843,1515.3 L844,1507.8 L845,1500 L846,1491.9 L847,1483.5 L848,1474.7 L849,1465.7 L850,1456.3 L851,1446.7 L852,1436.8 L853,1426.7 L854,1416.3 L855,1405.7 L856,1394.8 L857,1383.8 L858,1372.6 L859,1361.3 L860,1349.8 L861,1338.3 L862,1326.8 L863,1315.2 L864,1303.7 L865,1292.2 L866,1280.8 L867,1269.6 L868,1258.6 L869,1247.9 L870,1237.4 L871,1227.3 L872,1217.6 L873,1208.3 L874,1199.6 L875,1191.4 L876,1183.9 L877,1177 L878,1170.8 L879,1165.4 L880,1160.8 L881,1157.1 L882,1154.2 L883,1152.2 L884,1151.1 L885,1150.9 L886,1151.7 L887,1153.4 L888,1156 L889,1159.6 L890,1164 L891,1169.2 L892,1175.3 L893,1182.1 L894,1189.6 L895,1197.7 L896,1206.5 L897,1215.8 L898,1225.6 L899,1235.8 L900,1246.4 L901,1257.3 L902,1268.5 L903,1279.9 L904,1291.5 L905,1303.2 L906,1315 L907,1326.9 L908,1338.7 L909,1350.5 L910,1362.2 L911,1373.8 L912,1385.3 L913,1396.6 L914,1407.7 L915,1418.7 L916,1429.3 L917,1439.8 L918,1449.9 L919,1459.8 L920,1469.4 L921,1478.7 L922,1487.7 L923,1496.3 L924,1504.7 L925,1512.7 L926,1520.3 L927,1527.7 L928,1534.7 L929,1541.4 L930,1547.8 L931,1553.9 L932,1559.7 L933,1565.1 L934,1570.3 L935,1575.2 L936,1579.8 L937,1584.2 L938,1588.3 L939,1592.1 L940,1595.7 L941,1599.1 L942,1602.3 L943,1605.3 L944,1608 L945,1610.6 L946,1613.1 L947,1615.3 L948,1617.4 L949,1619.4 L950,1621.2 L951,1622.9 L952,1624.5 L953,1625.9 L954,1627.3 L955,1628.6 L956,1629.7 L957,1630.8 L958,1631.9 L959,1632.8 L960,1633.7 L961,1634.5 L962,1635.3 L963,1636 L964,1636.7 L965,1637.3 L966,1637.9 L967,1638.5 L968,1639 L969,1639.5 L970,1639.9 L971,1640.4 L972,1640.8 L973,1641.2 L974,1641.5 L975,1641.9 L976,1642.2 L977,1642.6 L978,1642.9 L979,1643.2 L980,1643.4 L981,1643.7 L982,1644 L983,1644.2 L984,1644.5 L985,1644.7 L986,1644.9 L987,1645.1 L988,1645.4 L989,1645.6 L990,1645.8 L991,1645.9 L992,1646.1 L993,1646.3 L994,1646.5 L995,1646.7 L996,1646.8 L997,1647 L998,1647.1 L999,1647.3 L1000,1647.4 L1001,1647.6 L1002,1647.7 L1003,1647.9 L1004,1648 L1005,1648.1 L1006,1648.3 L1007,1648.4 L1008,1648.5 L1009,1648.6 L1010,1648.8 L1011,1648.9 L1012,1649 L1013,1649.1 L1014,1649.2 L1015,1649.3 L1016,1649.4 L1017,1649.5 L1018,1649.6 L1019,1649.7 L1020,1649.8 L1021,1649.9 L1022,1650 L1023,1650.1 L1024,1650.2 L1025,1650.3 L1026,1650.3 L1027,1650.4 L1028,1650.5 L1029,1650.6 L1030,1650.7 L1031,1650.7 L1032,1650.8 L1033,1650.9 L1034,1651 L1035,1651 L1036,1651.1 L1037,1651.2 L1038,1651.2 L1039,1651.3 L1040,1651.4 L1041,1651.4 L1042,1651.5 L1043,1651.5 L1044,1651.6 L1045,1651.7 L1046,1651.7 L1047,1651.8 L1048,1651.8 L1049,1651.9 L1050,1651.9 L1051,1652 L1052,1652 L1053,1652.1 L1054,1652.1 L1055,1652.2 L1056,1652.2 L1057,1652.3 L1058,1652.3 L1059,1652.4 L1060,1652.4 L1061,1652.5 L1062,1652.5 L1063,1652.6 L1064,1652.6 L1065,1652.6 L1066,1652.7 L1067,1652.7 L1068,1652.8 L1069,1652.8 L1070,1652.8 L1071,1652.9 L1072,1652.9 L1073,1653 L1074,1653 L1075,1653 L1076,1653.1 L1077,1653.1 L1078,1653.1 L1079,1653.2 L1080,1653.2 L1081,1653.2 L1082,1653.3 L1083,1653.3 L1084,1653.3 L1085,1653.4 L1086,1653.4 L1087,1653.4 L1088,1653.4 L1089,1653.5 L1090,1653.5 L1091,1653.5" fill="none" stroke="#ff00ff" stroke-width="4.5" stroke-linejoin="round" stroke-linecap="round"/>
<path d="M209,1642 L210,1642 L211,1642 L212,1642 L213,1642 L214,1642 L215,1642 L216,1642 L217,1642 L218,1642.1 L219,1642.1 L220,1642.1 L221,1642.1 L222,1642.1 L223,1642.1 L224,1642.1 L225,1642.1 L226,1642.1 L227,1642.1 L228,1642.1 L229,1642.1 L230,1642.1 L231,1642.1 L232,1642.1 L233,1642.1 L234,1642.1 L235,1642.1 L236,1642.1 L237,1642.1 L238,1642.1 L239,1642.1 L240,1642.1 L241,1642.1 L242,1642.1 L243,1642.1 L244,1642.1 L245,1642.1 L246,1642.1 L247,1642.1 L248,1642.1 L249,1642.1 L250,1642.1 L251,1642.1 L252,1642.1 L253,1642.1 L254,1642.1 L255,1642.1 L256,1642.1 L257,1642.1 L258,1642.1 L259,1642.1 L260,1642.1 L261,1642.1 L262,1642.1 L263,1642.1 L264,1642.1 L265,1642.1 L266,1642.1 L267,1642.1 L268,1642.1 L269,1642.1 L270,1642.1 L271,1642.1 L272,1642.1 L273,1642.1 L274,1642.1 L275,1642.1 L276,1642.1 L277,1642.1 L278,1642.1 L279,1642.1 L280,1642.1 L281,1642.1 L282,1642.1 L283,1642.1 L284,1642.1 L285,1642.1 L286,1642.1 L287,1642.1 L288,1642.1 L289,1642.1 L290,1642.1 L291,1642.1 L292,1642.1 L293,1642.1 L294,1642.1 L295,1642.1 L296,1642.1 L297,1642.1 L298,1642.1 L299,1642.1 L300,1642.1 L301,1642.1 L302,1642.1 L303,1642.1 L304,1642.1 L305,1642.1 L306,1642.1 L307,1642.1 L308,1642.1 L309,1642.1 L310,1642.1 L311,1642.1 L312,1642.1 L313,1642.1 L314,1642.1 L315,1642.1 L316,1642.1 L317,1642.1 L318,1642.1 L319,1642.1 L320,1642.1 L321,1642.1 L322,1642.2 L323,1642.2 L324,1642.2 L325,1642.2 L326,1642.2 L327,1642.2 L328,1642.2 L329,1642.2 L330,1642.2 L331,1642.2 L332,1642.2 L333,1642.2 L334,1642.2 L335,1642.2 L336,1642.2 L337,1642.2 L338,1642.2 L339,1642.2 L340,1642.2 L341,1642.2 L342,1642.2 L343,1642.2 L344,1642.2 L345,1642.2 L346,1642.2 L347,1642.2 L348,1642.2 L349,1642.2 L350,1642.2 L351,1642.2 L352,1642.2 L353,1642.2 L354,1642.2 L355,1642.2 L356,1642.2 L357,1642.2 L358,1642.2 L359,1642.2 L360,1642.2 L361,1642.2 L362,1642.2 L363,1642.2 L364,1642.2 L365,1642.2 L366,1642.3 L367,1642.3 L368,1642.3 L369,1642.3 L370,1642.3 L371,1642.3 L372,1642.3 L373,1642.3 L374,1642.3 L375,1642.3 L376,1642.3 L377,1642.3 L378,1642.3 L379,1642.3 L380,1642.3 L381,1642.3 L382,1642.3 L383,1642.3 L384,1642.3 L385,1642.3 L386,1642.3 L387,1642.3 L388,1642.3 L389,1642.3 L390,1642.3 L391,1642.3 L392,1642.3 L393,1642.3 L394,1642.3 L395,1642.3 L396,1642.3 L397,1642.3 L398,1642.4 L399,1642.4 L400,1642.4 L401,1642.4 L402,1642.4 L403,1642.4 L404,1642.4 L405,1642.4 L406,1642.4 L407,1642.4 L408,1642.4 L409,1642.4 L410,1642.4 L411,1642.4 L412,1642.4 L413,1642.4 L414,1642.4 L415,1642.4 L416,1642.4 L417,1642.4 L418,1642.4 L419,1642.4 L420,1642.4 L421,1642.4 L422,1642.4 L423,1642.5 L424,1642.5 L425,1642.5 L426,1642.5 L427,1642.5 L428,1642.5 L429,1642.5 L430,1642.5 L431,1642.5 L432,1642.5 L433,1642.5 L434,1642.5 L435,1642.5 L436,1642.5 L437,1642.5 L438,1642.5 L439,1642.5 L440,1642.5 L441,1642.5 L442,1642.5 L443,1642.5 L444,1642.5 L445,1642.5 L446,1642.6 L447,1642.6 L448,1642.6 L449,1642.6 L450,1642.6 L451,1642.6 L452,1642.6 L453,1642.6 L454,1642.6 L455,1642.6 L456,1642.6 L457,1642.6 L458,1642.6 L459,1642.6 L460,1642.6 L461,1642.6 L462,1642.6 L463,1642.6 L464,1642.6 L465,1642.6 L466,1642.7 L467,1642.7 L468,1642.7 L469,1642.7 L470,1642.7 L471,1642.7 L472,1642.7 L473,1642.7 L474,1642.7 L475,1642.7 L476,1642.7 L477,1642.7 L478,1642.7 L479,1642.7 L480,1642.7 L481,1642.7 L482,1642.7 L483,1642.7 L484,1642.7 L485,1642.8 L486,1642.8 L487,1642.8 L488,1642.8 L489,1642.8 L490,1642.8 L491,1642.8 L492,1642.8 L493,1642.8 L494,1642.8 L495,1642.8 L496,1642.8 L497,1642.8 L498,1642.8 L499,1642.8 L500,1642.8 L501,1642.8 L502,1642.8 L503,1642.9 L504,1642.9 L505,1642.9 L506,1642.9 L507,1642.9 L508,1642.9 L509,1642.9 L510,1642.9 L511,1642.9 L512,1642.9 L513,1642.9 L514,1642.9 L515,1642.9 L516,1642.9 L517,1642.9 L518,1642.9 L519,1642.9 L520,1642.9 L521,1643 L522,1643 L523,1643 L524,1643 L525,1643 L526,1643 L527,1643 L528,1643 L529,1643 L530,1643 L531,1643 L532,1643 L533,1643 L534,1643 L535,1643 L536,1643 L537,1643 L538,1643 L539,1643 L540,1643.1 L541,1643.1 L542,1643.1 L543,1643.1 L544,1643.1 L545,1643.1 L546,1643.1 L547,1643.1 L548,1643.1 L549,1643.1 L550,1643.1 L551,1643.1 L552,1643.1 L553,1643.1 L554,1643.1 L555,1643.1 L556,1643.1 L557,1643.1 L558,1643.1 L559,1643.1 L560,1643.2 L561,1643.2 L562,1643.2 L563,1643.2 L564,1643.2 L565,1643.2 L566,1643.2 L567,1643.2 L568,1643.2 L569,1643.2 L570,1643.2 L571,1643.2 L572,1643.2 L573,1643.2 L574,1643.2 L575,1643.2 L576,1643.2 L577,1643.2 L578,1643.2 L579,1643.2 L580,1643.2 L581,1643.2 L582,1643.2 L583,1643.2 L584,1643.2 L585,1643.2 L586,1643.2 L587,1643.2 L588,1643.2 L589,1643.2 L590,1643.2 L591,1643.2 L592,1643.2 L593,1643.2 L594,1643.2 L595,1643.2 L596,1643.2 L597,1643.2 L598,1643.2 L599,1643.2 L600,1643.2 L601,1643.2 L602,1643.2 L603,1643.2 L604,1643.2 L605,1643.2 L606,1643.2 L607,1643.1 L608,1643.1 L609,1643.1 L610,1643.1 L611,1643.1 L612,1643.1 L613,1643.1 L614,1643.1 L615,1643 L616,1643 L617,1643 L618,1643 L619,1643 L620,1643 L621,1642.9 L622,1642.9 L623,1642.9 L624,1642.9 L625,1642.8 L626,1642.8 L627,1642.8 L628,1642.8 L629,1642.7 L630,1642.7 L631,1642.7 L632,1642.6 L633,1642.6 L634,1642.6 L635,1642.5 L636,1642.5 L637,1642.4 L638,1642.4 L639,1642.4 L640,1642.3 L641,1642.3 L642,1642.2 L643,1642.1 L644,1642.1 L645,1642 L646,1642 L647,1641.9 L648,1641.8 L649,1641.8 L650,1641.7 L651,1641.6 L652,1641.6 L653,1641.5 L654,1641.4 L655,1641.3 L656,1641.2 L657,1641.1 L658,1641.1 L659,1641 L660,1640.9 L661,1640.8 L662,1640.7 L663,1640.5 L664,1640.4 L665,1640.3 L666,1640.2 L667,1640.1 L668,1640 L669,1639.8 L670,1639.7 L671,1639.6 L672,1639.4 L673,1639.3 L674,1639.1 L675,1639 L676,1638.8 L677,1638.7 L678,1638.5 L679,1638.3 L680,1638.1 L681,1638 L682,1637.8 L683,1637.6 L684,1637.4 L685,1637.2 L686,1637 L687,1636.8 L688,1636.6 L689,1636.4 L690,1636.2 L691,1636 L692,1635.7 L693,1635.5 L694,1635.3 L695,1635 L696,1634.8 L697,1634.5 L698,1634.3 L699,1634 L700,1633.7 L701,1633.5 L702,1633.2 L703,1632.9 L704,1632.6 L705,1632.3 L706,1632.1 L707,1631.8 L708,1631.5 L709,1631.2 L710,1630.8 L711,1630.5 L712,1630.2 L713,1629.9 L714,1629.6 L715,1629.2 L716,1628.9 L717,1628.6 L718,1628.2 L719,1627.9 L720,1627.5 L721,1627.2 L722,1626.8 L723,1626.5 L724,1626.1 L725,1625.7 L726,1625.4 L727,1625 L728,1624.6 L729,1624.2 L730,1623.9 L731,1623.5 L732,1623.1 L733,1622.7 L734,1622.3 L735,1621.9 L736,1621.6 L737,1621.2 L738,1620.8 L739,1620.4 L740,1620 L741,1619.6 L742,1619.2 L743,1618.8 L744,1618.4 L745,1618 L746,1617.7 L747,1617.3 L748,1616.9 L749,1616.5 L750,1616.1 L751,1615.7 L752,1615.4 L753,1615 L754,1614.6 L755,1614.2 L756,1613.9 L757,1613.5 L758,1613.1 L759,1612.8 L760,1612.4 L761,1612.1 L762,1611.7 L763,1611.4 L764,1611.1 L765,1610.7 L766,1610.4 L767,1610.1 L768,1609.8 L769,1609.5 L770,1609.2 L771,1608.9 L772,1608.6 L773,1608.3 L774,1608.1 L775,1607.8 L776,1607.6 L777,1607.3 L778,1607.1 L779,1606.8 L780,1606.6 L781,1606.4 L782,1606.2 L783,1606 L784,1605.8 L785,1605.6 L786,1605.5 L787,1605.3 L788,1605.2 L789,1605 L790,1604.9 L791,1604.8 L792,1604.7 L793,1604.6 L794,1604.5 L795,1604.4 L796,1604.4 L797,1604.3 L798,1604.3 L799,1604.2 L800,1604.2 L801,1604.2 L802,1604.2 L803,1604.2 L804,1604.2 L805,1604.2 L806,1604.3 L807,1604.3 L808,1604.4 L809,1604.5 L810,1604.6 L811,1604.7 L812,1604.8 L813,1604.9 L814,1605 L815,1605.2 L816,1605.3 L817,1605.5 L818,1605.6 L819,1605.8 L820,1606 L821,1606.2 L822,1606.4 L823,1606.6 L824,1606.9 L825,1607.1 L826,1607.4 L827,1607.6 L828,1607.9 L829,1608.2 L830,1608.5 L831,1608.7 L832,1609.1 L833,1609.4 L834,1609.7 L835,1610 L836,1610.4 L837,1610.7 L838,1611.1 L839,1611.4 L840,1611.8 L841,1612.2 L842,1612.6 L843,1613 L844,1613.4 L845,1613.8 L846,1614.2 L847,1614.6 L848,1615 L849,1615.5 L850,1615.9 L851,1616.4 L852,1616.8 L853,1617.3 L854,1617.8 L855,1618.2 L856,1618.7 L857,1619.2 L858,1619.7 L859,1620.2 L860,1620.7 L861,1621.2 L862,1621.7 L863,1622.2 L864,1622.7 L865,1623.3 L866,1623.8 L867,1624.3 L868,1624.9 L869,1625.4 L870,1625.9 L871,1626.5 L872,1627 L873,1627.6 L874,1628.1 L875,1628.6 L876,1629.2 L877,1629.7 L878,1630.3 L879,1630.8 L880,1631.4 L881,1631.9 L882,1632.5 L883,1633 L884,1633.5 L885,1634.1 L886,1634.6 L887,1635.1 L888,1635.6 L889,1636.1 L890,1636.7 L891,1637.2 L892,1637.7 L893,1638.2 L894,1638.6 L895,1639.1 L896,1639.6 L897,1640.1 L898,1640.5 L899,1641 L900,1641.4 L901,1641.8 L902,1642.3 L903,1642.7 L904,1643.1 L905,1643.5 L906,1643.9 L907,1644.3 L908,1644.6 L909,1645 L910,1645.4 L911,1645.7 L912,1646.1 L913,1646.4 L914,1646.7 L915,1647 L916,1647.3 L917,1647.6 L918,1647.9 L919,1648.2 L920,1648.5 L921,1648.8 L922,1649 L923,1649.3 L924,1649.5 L925,1649.7 L926,1650 L927,1650.2 L928,1650.4 L929,1650.6 L930,1650.8 L931,1651 L932,1651.2 L933,1651.4 L934,1651.6 L935,1651.8 L936,1651.9 L937,1652.1 L938,1652.3 L939,1652.4 L940,1652.6 L941,1652.7 L942,1652.9 L943,1653 L944,1653.1 L945,1653.3 L946,1653.4 L947,1653.5 L948,1653.6 L949,1653.7 L950,1653.8 L951,1653.9 L952,1654.1 L953,1654.1 L954,1654.2 L955,1654.3 L956,1654.4 L957,1654.5 L958,1654.6 L959,1654.7 L960,1654.8 L961,1654.8 L962,1654.9 L963,1655 L964,1655 L965,1655.1 L966,1655.2 L967,1655.2 L968,1655.3 L969,1655.3 L970,1655.4 L971,1655.4 L972,1655.5 L973,1655.5 L974,1655.6 L975,1655.6 L976,1655.7 L977,1655.7 L978,1655.8 L979,1655.8 L980,1655.8 L981,1655.9 L982,1655.9 L983,1655.9 L984,1656 L985,1656 L986,1656 L987,1656.1 L988,1656.1 L989,1656.1 L990,1656.1 L991,1656.2 L992,1656.2 L993,1656.2 L994,1656.2 L995,1656.2 L996,1656.3 L997,1656.3 L998,1656.3 L999,1656.3 L1000,1656.3 L1001,1656.4 L1002,1656.4 L1003,1656.4 L1004,1656.4 L1005,1656.4 L1006,1656.4 L1007,1656.4 L1008,1656.4 L1009,1656.5 L1010,1656.5 L1011,1656.5 L1012,1656.5 L1013,1656.5 L1014,1656.5 L1015,1656.5 L1016,1656.5 L1017,1656.5 L1018,1656.5 L1019,1656.5 L1020,1656.5 L1021,1656.6 L1022,1656.6 L1023,1656.6 L1024,1656.6 L1025,1656.6 L1026,1656.6 L1027,1656.6 L1028,1656.6 L1029,1656.6 L1030,1656.6 L1031,1656.6 L1032,1656.6 L1033,1656.6 L1034,1656.6 L1035,1656.6 L1036,1656.6 L1037,1656.6 L1038,1656.6 L1039,1656.6 L1040,1656.6 L1041,1656.6 L1042,1656.6 L1043,1656.6 L1044,1656.6 L1045,1656.6 L1046,1656.6 L1047,1656.7 L1048,1656.7 L1049,1656.7 L1050,1656.7 L1051,1656.7 L1052,1656.7 L1053,1656.7 L1054,1656.7 L1055,1656.7 L1056,1656.7 L1057,1656.7 L1058,1656.7 L1059,1656.7 L1060,1656.7 L1061,1656.7 L1062,1656.7 L1063,1656.7 L1064,1656.7 L1065,1656.7 L1066,1656.7 L1067,1656.7 L1068,1656.7 L1069,1656.7 L1070,1656.7 L1071,1656.7 L1072,1656.7 L1073,1656.7 L1074,1656.7 L1075,1656.7 L1076,1656.7 L1077,1656.7 L1078,1656.7 L1079,1656.7 L1080,1656.7 L1081,1656.7 L1082,1656.7 L1083,1656.7 L1084,1656.7 L1085,1656.7 L1086,1656.7 L1087,1656.7 L1088,1656.7 L1089,1656.7 L1090,1656.7 L1091,1656.7" fill="none" stroke="#0a8a0a" stroke-width="4" stroke-linejoin="round" stroke-linecap="round"/>
<path d="M209,1641.5 L210,1641.5 L211,1641.4 L212,1641.4 L213,1641.4 L214,1641.4 L215,1641.4 L216,1641.4 L217,1641.4 L218,1641.4 L219,1641.3 L220,1641.3 L221,1641.3 L222,1641.3 L223,1641.3 L224,1641.3 L225,1641.3 L226,1641.3 L227,1641.2 L228,1641.2 L229,1641.2 L230,1641.2 L231,1641.2 L232,1641.2 L233,1641.2 L234,1641.1 L235,1641.1 L236,1641.1 L237,1641.1 L238,1641.1 L239,1641.1 L240,1641 L241,1641 L242,1641 L243,1641 L244,1641 L245,1641 L246,1640.9 L247,1640.9 L248,1640.9 L249,1640.9 L250,1640.9 L251,1640.9 L252,1640.8 L253,1640.8 L254,1640.8 L255,1640.8 L256,1640.8 L257,1640.7 L258,1640.7 L259,1640.7 L260,1640.7 L261,1640.7 L262,1640.6 L263,1640.6 L264,1640.6 L265,1640.6 L266,1640.5 L267,1640.5 L268,1640.5 L269,1640.5 L270,1640.5 L271,1640.4 L272,1640.4 L273,1640.4 L274,1640.4 L275,1640.3 L276,1640.3 L277,1640.3 L278,1640.3 L279,1640.2 L280,1640.2 L281,1640.2 L282,1640.2 L283,1640.1 L284,1640.1 L285,1640.1 L286,1640.1 L287,1640 L288,1640 L289,1640 L290,1639.9 L291,1639.9 L292,1639.9 L293,1639.9 L294,1639.8 L295,1639.8 L296,1639.8 L297,1639.7 L298,1639.7 L299,1639.7 L300,1639.6 L301,1639.6 L302,1639.6 L303,1639.6 L304,1639.5 L305,1639.5 L306,1639.5 L307,1639.4 L308,1639.4 L309,1639.4 L310,1639.3 L311,1639.3 L312,1639.3 L313,1639.2 L314,1639.2 L315,1639.2 L316,1639.1 L317,1639.1 L318,1639.1 L319,1639 L320,1639 L321,1638.9 L322,1638.9 L323,1638.9 L324,1638.8 L325,1638.8 L326,1638.8 L327,1638.7 L328,1638.7 L329,1638.6 L330,1638.6 L331,1638.6 L332,1638.5 L333,1638.5 L334,1638.5 L335,1638.4 L336,1638.4 L337,1638.3 L338,1638.3 L339,1638.3 L340,1638.2 L341,1638.2 L342,1638.1 L343,1638.1 L344,1638.1 L345,1638 L346,1638 L347,1637.9 L348,1637.9 L349,1637.9 L350,1637.8 L351,1637.8 L352,1637.7 L353,1637.7 L354,1637.6 L355,1637.6 L356,1637.6 L357,1637.5 L358,1637.5 L359,1637.4 L360,1637.4 L361,1637.3 L362,1637.3 L363,1637.3 L364,1637.2 L365,1637.2 L366,1637.1 L367,1637.1 L368,1637 L369,1637 L370,1636.9 L371,1636.9 L372,1636.9 L373,1636.8 L374,1636.8 L375,1636.7 L376,1636.7 L377,1636.6 L378,1636.6 L379,1636.6 L380,1636.5 L381,1636.5 L382,1636.4 L383,1636.4 L384,1636.3 L385,1636.3 L386,1636.2 L387,1636.2 L388,1636.1 L389,1636.1 L390,1636.1 L391,1636 L392,1636 L393,1635.9 L394,1635.9 L395,1635.8 L396,1635.8 L397,1635.7 L398,1635.7 L399,1635.7 L400,1635.6 L401,1635.6 L402,1635.5 L403,1635.5 L404,1635.4 L405,1635.4 L406,1635.4 L407,1635.3 L408,1635.3 L409,1635.2 L410,1635.2 L411,1635.1 L412,1635.1 L413,1635.1 L414,1635 L415,1635 L416,1634.9 L417,1634.9 L418,1634.8 L419,1634.8 L420,1634.8 L421,1634.7 L422,1634.7 L423,1634.6 L424,1634.6 L425,1634.6 L426,1634.5 L427,1634.5 L428,1634.4 L429,1634.4 L430,1634.4 L431,1634.3 L432,1634.3 L433,1634.3 L434,1634.2 L435,1634.2 L436,1634.1 L437,1634.1 L438,1634.1 L439,1634 L440,1634 L441,1634 L442,1633.9 L443,1633.9 L444,1633.9 L445,1633.8 L446,1633.8 L447,1633.8 L448,1633.7 L449,1633.7 L450,1633.7 L451,1633.6 L452,1633.6 L453,1633.6 L454,1633.6 L455,1633.5 L456,1633.5 L457,1633.5 L458,1633.4 L459,1633.4 L460,1633.4 L461,1633.4 L462,1633.3 L463,1633.3 L464,1633.3 L465,1633.3 L466,1633.2 L467,1633.2 L468,1633.2 L469,1633.2 L470,1633.1 L471,1633.1 L472,1633.1 L473,1633.1 L474,1633.1 L475,1633 L476,1633 L477,1633 L478,1633 L479,1633 L480,1632.9 L481,1632.9 L482,1632.9 L483,1632.9 L484,1632.9 L485,1632.9 L486,1632.9 L487,1632.8 L488,1632.8 L489,1632.8 L490,1632.8 L491,1632.8 L492,1632.8 L493,1632.8 L494,1632.8 L495,1632.8 L496,1632.7 L497,1632.7 L498,1632.7 L499,1632.7 L500,1632.7 L501,1632.7 L502,1632.7 L503,1632.7 L504,1632.7 L505,1632.7 L506,1632.7 L507,1632.7 L508,1632.7 L509,1632.7 L510,1632.7 L511,1632.7 L512,1632.7 L513,1632.7 L514,1632.7 L515,1632.7 L516,1632.7 L517,1632.7 L518,1632.7 L519,1632.7 L520,1632.7 L521,1632.8 L522,1632.8 L523,1632.8 L524,1632.8 L525,1632.8 L526,1632.8 L527,1632.8 L528,1632.8 L529,1632.8 L530,1632.9 L531,1632.9 L532,1632.9 L533,1632.9 L534,1632.9 L535,1632.9 L536,1632.9 L537,1633 L538,1633 L539,1633 L540,1633 L541,1633 L542,1633.1 L543,1633.1 L544,1633.1 L545,1633.1 L546,1633.1 L547,1633.2 L548,1633.2 L549,1633.2 L550,1633.2 L551,1633.3 L552,1633.3 L553,1633.3 L554,1633.3 L555,1633.4 L556,1633.4 L557,1633.4 L558,1633.5 L559,1633.5 L560,1633.5 L561,1633.6 L562,1633.6 L563,1633.6 L564,1633.7 L565,1633.7 L566,1633.7 L567,1633.8 L568,1633.8 L569,1633.8 L570,1633.9 L571,1633.9 L572,1633.9 L573,1634 L574,1634 L575,1634 L576,1634.1 L577,1634.1 L578,1634.2 L579,1634.2 L580,1634.2 L581,1634.3 L582,1634.3 L583,1634.4 L584,1634.4 L585,1634.4 L586,1634.5 L587,1634.5 L588,1634.6 L589,1634.6 L590,1634.7 L591,1634.7 L592,1634.8 L593,1634.8 L594,1634.8 L595,1634.9 L596,1634.9 L597,1635 L598,1635 L599,1635.1 L600,1635.1 L601,1635.2 L602,1635.2 L603,1635.3 L604,1635.3 L605,1635.4 L606,1635.4 L607,1635.5 L608,1635.5 L609,1635.6 L610,1635.6 L611,1635.7 L612,1635.7 L613,1635.8 L614,1635.8 L615,1635.9 L616,1635.9 L617,1636 L618,1636 L619,1636.1 L620,1636.1 L621,1636.2 L622,1636.2 L623,1636.3 L624,1636.3 L625,1636.4 L626,1636.4 L627,1636.5 L628,1636.5 L629,1636.6 L630,1636.7 L631,1636.7 L632,1636.8 L633,1636.8 L634,1636.9 L635,1636.9 L636,1637 L637,1637 L638,1637.1 L639,1637.1 L640,1637.2 L641,1637.3 L642,1637.3 L643,1637.4 L644,1637.4 L645,1637.5 L646,1637.5 L647,1637.6 L648,1637.6 L649,1637.7 L650,1637.7 L651,1637.8 L652,1637.9 L653,1637.9 L654,1638 L655,1638 L656,1638.1 L657,1638.1 L658,1638.2 L659,1638.2 L660,1638.3 L661,1638.4 L662,1638.4 L663,1638.5 L664,1638.5 L665,1638.6 L666,1638.6 L667,1638.7 L668,1638.7 L669,1638.8 L670,1638.9 L671,1638.9 L672,1639 L673,1639 L674,1639.1 L675,1639.1 L676,1639.2 L677,1639.2 L678,1639.3 L679,1639.3 L680,1639.4 L681,1639.5 L682,1639.5 L683,1639.6 L684,1639.6 L685,1639.7 L686,1639.7 L687,1639.8 L688,1639.8 L689,1639.9 L690,1639.9 L691,1640 L692,1640.1 L693,1640.1 L694,1640.2 L695,1640.2 L696,1640.3 L697,1640.3 L698,1640.4 L699,1640.4 L700,1640.5 L701,1640.5 L702,1640.6 L703,1640.6 L704,1640.7 L705,1640.7 L706,1640.8 L707,1640.9 L708,1640.9 L709,1641 L710,1641 L711,1641.1 L712,1641.1 L713,1641.2 L714,1641.2 L715,1641.3 L716,1641.3 L717,1641.4 L718,1641.4 L719,1641.5 L720,1641.5 L721,1641.6 L722,1641.6 L723,1641.7 L724,1641.8 L725,1641.8 L726,1641.9 L727,1641.9 L728,1642 L729,1642 L730,1642.1 L731,1642.1 L732,1642.2 L733,1642.2 L734,1642.3 L735,1642.3 L736,1642.4 L737,1642.4 L738,1642.5 L739,1642.5 L740,1642.6 L741,1642.6 L742,1642.7 L743,1642.8 L744,1642.8 L745,1642.9 L746,1642.9 L747,1643 L748,1643 L749,1643.1 L750,1643.1 L751,1643.2 L752,1643.2 L753,1643.3 L754,1643.3 L755,1643.4 L756,1643.4 L757,1643.5 L758,1643.5 L759,1643.6 L760,1643.6 L761,1643.7 L762,1643.8 L763,1643.8 L764,1643.9 L765,1643.9 L766,1644 L767,1644 L768,1644.1 L769,1644.1 L770,1644.2 L771,1644.2 L772,1644.3 L773,1644.3 L774,1644.4 L775,1644.4 L776,1644.5 L777,1644.5 L778,1644.6 L779,1644.6 L780,1644.7 L781,1644.7 L782,1644.8 L783,1644.9 L784,1644.9 L785,1645 L786,1645 L787,1645.1 L788,1645.1 L789,1645.2 L790,1645.2 L791,1645.3 L792,1645.3 L793,1645.4 L794,1645.4 L795,1645.5 L796,1645.5 L797,1645.6 L798,1645.6 L799,1645.7 L800,1645.7 L801,1645.8 L802,1645.8 L803,1645.9 L804,1645.9 L805,1646 L806,1646 L807,1646.1 L808,1646.1 L809,1646.2 L810,1646.2 L811,1646.3 L812,1646.3 L813,1646.4 L814,1646.4 L815,1646.5 L816,1646.5 L817,1646.6 L818,1646.6 L819,1646.7 L820,1646.7 L821,1646.8 L822,1646.8 L823,1646.9 L824,1646.9 L825,1647 L826,1647 L827,1647.1 L828,1647.2 L829,1647.2 L830,1647.3 L831,1647.3 L832,1647.4 L833,1647.4 L834,1647.5 L835,1647.6 L836,1647.6 L837,1647.7 L838,1647.8 L839,1647.8 L840,1647.9 L841,1648 L842,1648 L843,1648.1 L844,1648.2 L845,1648.3 L846,1648.4 L847,1648.5 L848,1648.6 L849,1648.7 L850,1648.8 L851,1648.9 L852,1649 L853,1649.1 L854,1649.2 L855,1649.3 L856,1649.4 L857,1649.5 L858,1649.7 L859,1649.8 L860,1649.9 L861,1650.1 L862,1650.2 L863,1650.4 L864,1650.5 L865,1650.7 L866,1650.9 L867,1651 L868,1651.2 L869,1651.4 L870,1651.6 L871,1651.8 L872,1651.9 L873,1652.1 L874,1652.3 L875,1652.5 L876,1652.7 L877,1652.9 L878,1653.1 L879,1653.4 L880,1653.6 L881,1653.8 L882,1654 L883,1654.2 L884,1654.4 L885,1654.6 L886,1654.8 L887,1655 L888,1655.3 L889,1655.5 L890,1655.7 L891,1655.9 L892,1656.1 L893,1656.3 L894,1656.5 L895,1656.7 L896,1656.8 L897,1657 L898,1657.2 L899,1657.4 L900,1657.6 L901,1657.7 L902,1657.9 L903,1658 L904,1658.2 L905,1658.3 L906,1658.5 L907,1658.6 L908,1658.7 L909,1658.9 L910,1659 L911,1659.1 L912,1659.2 L913,1659.3 L914,1659.4 L915,1659.5 L916,1659.6 L917,1659.7 L918,1659.8 L919,1659.9 L920,1660 L921,1660 L922,1660.1 L923,1660.2 L924,1660.2 L925,1660.3 L926,1660.3 L927,1660.4 L928,1660.4 L929,1660.5 L930,1660.5 L931,1660.5 L932,1660.6 L933,1660.6 L934,1660.7 L935,1660.7 L936,1660.7 L937,1660.7 L938,1660.8 L939,1660.8 L940,1660.8 L941,1660.8 L942,1660.9 L943,1660.9 L944,1660.9 L945,1660.9 L946,1660.9 L947,1660.9 L948,1661 L949,1661 L950,1661 L951,1661 L952,1661 L953,1661 L954,1661 L955,1661 L956,1661 L957,1661 L958,1661.1 L959,1661.1 L960,1661.1 L961,1661.1 L962,1661.1 L963,1661.1 L964,1661.1 L965,1661.1 L966,1661.1 L967,1661.1 L968,1661.1 L969,1661.1 L970,1661.1 L971,1661.1 L972,1661.1 L973,1661.2 L974,1661.2 L975,1661.2 L976,1661.2 L977,1661.2 L978,1661.2 L979,1661.2 L980,1661.2 L981,1661.2 L982,1661.2 L983,1661.2 L984,1661.2 L985,1661.2 L986,1661.2 L987,1661.2 L988,1661.2 L989,1661.2 L990,1661.2 L991,1661.2 L992,1661.2 L993,1661.2 L994,1661.2 L995,1661.2 L996,1661.2 L997,1661.2 L998,1661.2 L999,1661.2 L1000,1661.2 L1001,1661.2 L1002,1661.2 L1003,1661.3 L1004,1661.3 L1005,1661.3 L1006,1661.3 L1007,1661.3 L1008,1661.3 L1009,1661.3 L1010,1661.3 L1011,1661.3 L1012,1661.3 L1013,1661.3 L1014,1661.3 L1015,1661.3 L1016,1661.3 L1017,1661.3 L1018,1661.3 L1019,1661.3 L1020,1661.3 L1021,1661.3 L1022,1661.3 L1023,1661.3 L1024,1661.3 L1025,1661.3 L1026,1661.3 L1027,1661.3 L1028,1661.3 L1029,1661.3 L1030,1661.3 L1031,1661.3 L1032,1661.3 L1033,1661.3 L1034,1661.3 L1035,1661.3 L1036,1661.3 L1037,1661.3 L1038,1661.3 L1039,1661.3 L1040,1661.3 L1041,1661.3 L1042,1661.3 L1043,1661.3 L1044,1661.3 L1045,1661.3 L1046,1661.3 L1047,1661.3 L1048,1661.3 L1049,1661.3 L1050,1661.3 L1051,1661.3 L1052,1661.3 L1053,1661.3 L1054,1661.3 L1055,1661.3 L1056,1661.3 L1057,1661.3 L1058,1661.3 L1059,1661.3 L1060,1661.3 L1061,1661.3 L1062,1661.3 L1063,1661.3 L1064,1661.3 L1065,1661.3 L1066,1661.3 L1067,1661.3 L1068,1661.3 L1069,1661.3 L1070,1661.3 L1071,1661.3 L1072,1661.3 L1073,1661.3 L1074,1661.4 L1075,1661.4 L1076,1661.4 L1077,1661.4 L1078,1661.4 L1079,1661.4 L1080,1661.4 L1081,1661.4 L1082,1661.4 L1083,1661.4 L1084,1661.4 L1085,1661.4 L1086,1661.4 L1087,1661.4 L1088,1661.4 L1089,1661.4 L1090,1661.4 L1091,1661.4" fill="none" stroke="#10108c" stroke-width="5" stroke-linejoin="round" stroke-linecap="round"/>
<line x1="876.6" y1="1152.7" x2="842.7" y2="1120.7" stroke="#ff00ff" stroke-width="3.0"/>
<polygon points="827.4,1106.3 849,1118.4 843,1121.1 840.7,1127.1" fill="#ff00ff"/>
<line x1="789.5" y1="1594" x2="766.1" y2="1569.1" stroke="#0a8a0a" stroke-width="3.0"/>
<polygon points="751.7,1553.8 772.5,1567.2 766.4,1569.5 763.8,1575.4" fill="#0a8a0a"/>
<line x1="452" y1="1630" x2="417.3" y2="1594.4" stroke="#10108c" stroke-width="3.0"/>
<polygon points="402.7,1579.3 423.7,1592.3 417.7,1594.7 415.1,1600.7" fill="#10108c"/>
<rect x="209" y="1056" width="881.5" height="654.5" fill="none" stroke="#000" stroke-width="6.5"/>
<line x1="209" y1="1710.5" x2="209" y2="1729.5" stroke="#000" stroke-width="5.5" stroke-linecap="round"/>
<line x1="429.4" y1="1710.5" x2="429.4" y2="1729.5" stroke="#000" stroke-width="5.5" stroke-linecap="round"/>
<line x1="649.8" y1="1710.5" x2="649.8" y2="1729.5" stroke="#000" stroke-width="5.5" stroke-linecap="round"/>
<line x1="870.1" y1="1710.5" x2="870.1" y2="1729.5" stroke="#000" stroke-width="5.5" stroke-linecap="round"/>
<line x1="1090.5" y1="1710.5" x2="1090.5" y2="1729.5" stroke="#000" stroke-width="5.5" stroke-linecap="round"/>
<line x1="319.2" y1="1710.5" x2="319.2" y2="1721.5" stroke="#000" stroke-width="5"/>
<line x1="539.6" y1="1710.5" x2="539.6" y2="1721.5" stroke="#000" stroke-width="5"/>
<line x1="759.9" y1="1710.5" x2="759.9" y2="1721.5" stroke="#000" stroke-width="5"/>
<line x1="980.3" y1="1710.5" x2="980.3" y2="1721.5" stroke="#000" stroke-width="5"/>
<text x="170.54" y="1796.83" font-family="'Liberation Serif','Times New Roman',serif" font-size="67.12" font-weight="normal" fill="#000" textLength="92.29" lengthAdjust="spacingAndGlyphs">294</text>
<text x="382.98" y="1796.83" font-family="'Liberation Serif','Times New Roman',serif" font-size="67.12" font-weight="normal" fill="#000" textLength="90.75" lengthAdjust="spacingAndGlyphs">291</text>
<text x="595.34" y="1796.83" font-family="'Liberation Serif','Times New Roman',serif" font-size="67.12" font-weight="normal" fill="#000" textLength="92.32" lengthAdjust="spacingAndGlyphs">288</text>
<text x="828.08" y="1796.83" font-family="'Liberation Serif','Times New Roman',serif" font-size="67.12" font-weight="normal" fill="#000" textLength="94.33" lengthAdjust="spacingAndGlyphs">285</text>
<text x="1034.49" y="1796.83" font-family="'Liberation Serif','Times New Roman',serif" font-size="67.12" font-weight="normal" fill="#000" textLength="94.29" lengthAdjust="spacingAndGlyphs">282</text>
<text x="388.71" y="1879.80" font-family="'Liberation Serif','Times New Roman',serif" font-size="66.15" font-weight="normal" fill="#000" textLength="530.38" lengthAdjust="spacingAndGlyphs">Binding Energy (eV)</text>
<text x="57.94" y="1159.80" font-family="'Liberation Sans',Arial,sans-serif" font-size="126.96" font-weight="normal" fill="#000" stroke="#000" stroke-width="1.1" textLength="75.51" lengthAdjust="spacingAndGlyphs">B</text>
<rect x="269.7" y="1081.3" width="287.9" height="127.1" fill="#fff" stroke="none"/>
<line x1="269.7" y1="1208.4" x2="557.6" y2="1208.4" stroke="#e2e2e2" stroke-width="2"/>
<line x1="557.6" y1="1081.3" x2="557.6" y2="1208.4" stroke="#b4b4b4" stroke-width="3"/>
<line x1="269.7" y1="1081.3" x2="557.6" y2="1081.3" stroke="#8e8e8e" stroke-width="2.6"/>
<line x1="269.7" y1="1080.3" x2="269.7" y2="1208.4" stroke="#6a6a6a" stroke-width="3"/>
<line x1="295.3" y1="1122" x2="395.5" y2="1122" stroke="#000" stroke-width="5.5"/>
<line x1="295.3" y1="1184" x2="395.5" y2="1184" stroke="#ff0000" stroke-width="7"/>
<text x="406.28" y="1136.60" font-family="'Liberation Serif','Times New Roman',serif" font-size="48.92" font-weight="bold" fill="#000" textLength="89.32" lengthAdjust="spacingAndGlyphs">Raw</text>
<text x="405.86" y="1198.20" font-family="'Liberation Serif','Times New Roman',serif" font-size="48.92" font-weight="bold" fill="#000" textLength="135.55" lengthAdjust="spacingAndGlyphs">Fitting</text>
<text x="569.05" y="1133.97" font-family="'Liberation Serif','Times New Roman',serif" font-size="66.27" font-weight="normal" fill="#000" textLength="245.33" lengthAdjust="spacingAndGlyphs">C-C/C=C</text>
<text x="631.13" y="1515.68" font-family="'Liberation Serif','Times New Roman',serif" font-size="65.82" font-weight="normal" fill="#000" textLength="110.68" lengthAdjust="spacingAndGlyphs">C-O</text>
<text x="305.55" y="1549.68" font-family="'Liberation Serif','Times New Roman',serif" font-size="65.82" font-weight="normal" fill="#000" textLength="124.39" lengthAdjust="spacingAndGlyphs">C=O</text>
<path d="M1268.5,1646.4 L1269.5,1646.4 L1270.5,1646.4 L1271.5,1646.4 L1272.5,1646.4 L1273.5,1646.4 L1274.5,1646.3 L1275.5,1646.3 L1276.5,1646.3 L1277.5,1646.3 L1278.5,1646.3 L1279.5,1646.3 L1280.5,1646.2 L1281.5,1646.2 L1282.5,1646.2 L1283.5,1646.2 L1284.5,1646.2 L1285.5,1646.2 L1286.5,1646.2 L1287.5,1646.1 L1288.5,1646.1 L1289.5,1646.1 L1290.5,1646.1 L1291.5,1646.1 L1292.5,1646 L1293.5,1646 L1294.5,1646 L1295.5,1646 L1296.5,1646 L1297.5,1646 L1298.5,1645.9 L1299.5,1645.9 L1300.5,1645.9 L1301.5,1645.9 L1302.5,1645.9 L1303.5,1645.8 L1304.5,1645.8 L1305.5,1645.8 L1306.5,1645.8 L1307.5,1645.8 L1308.5,1645.7 L1309.5,1645.7 L1310.5,1645.7 L1311.5,1645.7 L1312.5,1645.6 L1313.5,1645.6 L1314.5,1645.6 L1315.5,1645.6 L1316.5,1645.5 L1317.5,1645.5 L1318.5,1645.5 L1319.5,1645.5 L1320.5,1645.4 L1321.5,1645.4 L1322.5,1645.4 L1323.5,1645.4 L1324.5,1645.3 L1325.5,1645.3 L1326.5,1645.3 L1327.5,1645.3 L1328.5,1645.2 L1329.5,1645.2 L1330.5,1645.2 L1331.5,1645.1 L1332.5,1645.1 L1333.5,1645.1 L1334.5,1645.1 L1335.5,1645 L1336.5,1645 L1337.5,1645 L1338.5,1644.9 L1339.5,1644.9 L1340.5,1644.9 L1341.5,1644.8 L1342.5,1644.8 L1343.5,1644.8 L1344.5,1644.7 L1345.5,1644.7 L1346.5,1644.7 L1347.5,1644.6 L1348.5,1644.6 L1349.5,1644.6 L1350.5,1644.5 L1351.5,1644.5 L1352.5,1644.5 L1353.5,1644.4 L1354.5,1644.4 L1355.5,1644.3 L1356.5,1644.3 L1357.5,1644.3 L1358.5,1644.2 L1359.5,1644.2 L1360.5,1644.2 L1361.5,1644.1 L1362.5,1644.1 L1363.5,1644 L1364.5,1644 L1365.5,1644 L1366.5,1643.9 L1367.5,1643.9 L1368.5,1643.8 L1369.5,1643.8 L1370.5,1643.8 L1371.5,1643.7 L1372.5,1643.7 L1373.5,1643.6 L1374.5,1643.6 L1375.5,1643.6 L1376.5,1643.5 L1377.5,1643.5 L1378.5,1643.4 L1379.5,1643.4 L1380.5,1643.3 L1381.5,1643.3 L1382.5,1643.2 L1383.5,1643.2 L1384.5,1643.2 L1385.5,1643.1 L1386.5,1643.1 L1387.5,1643 L1388.5,1643 L1389.5,1642.9 L1390.5,1642.9 L1391.5,1642.8 L1392.5,1642.8 L1393.5,1642.7 L1394.5,1642.7 L1395.5,1642.6 L1396.5,1642.6 L1397.5,1642.5 L1398.5,1642.5 L1399.5,1642.4 L1400.5,1642.4 L1401.5,1642.3 L1402.5,1642.3 L1403.5,1642.2 L1404.5,1642.2 L1405.5,1642.1 L1406.5,1642.1 L1407.5,1642 L1408.5,1642 L1409.5,1641.9 L1410.5,1641.9 L1411.5,1641.8 L1412.5,1641.8 L1413.5,1641.7 L1414.5,1641.7 L1415.5,1641.6 L1416.5,1641.6 L1417.5,1641.5 L1418.5,1641.5 L1419.5,1641.4 L1420.5,1641.3 L1421.5,1641.3 L1422.5,1641.2 L1423.5,1641.2 L1424.5,1641.1 L1425.5,1641.1 L1426.5,1641 L1427.5,1641 L1428.5,1640.9 L1429.5,1640.9 L1430.5,1640.8 L1431.5,1640.8 L1432.5,1640.7 L1433.5,1640.6 L1434.5,1640.6 L1435.5,1640.5 L1436.5,1640.5 L1437.5,1640.4 L1438.5,1640.4 L1439.5,1640.3 L1440.5,1640.3 L1441.5,1640.2 L1442.5,1640.1 L1443.5,1640.1 L1444.5,1640 L1445.5,1640 L1446.5,1639.9 L1447.5,1639.9 L1448.5,1639.8 L1449.5,1639.8 L1450.5,1639.7 L1451.5,1639.7 L1452.5,1639.6 L1453.5,1639.5 L1454.5,1639.5 L1455.5,1639.4 L1456.5,1639.4 L1457.5,1639.3 L1458.5,1639.3 L1459.5,1639.2 L1460.5,1639.2 L1461.5,1639.1 L1462.5,1639.1 L1463.5,1639 L1464.5,1639 L1465.5,1638.9 L1466.5,1638.8 L1467.5,1638.8 L1468.5,1638.7 L1469.5,1638.7 L1470.5,1638.6 L1471.5,1638.6 L1472.5,1638.5 L1473.5,1638.5 L1474.5,1638.4 L1475.5,1638.4 L1476.5,1638.3 L1477.5,1638.3 L1478.5,1638.2 L1479.5,1638.2 L1480.5,1638.1 L1481.5,1638.1 L1482.5,1638 L1483.5,1638 L1484.5,1637.9 L1485.5,1637.9 L1486.5,1637.8 L1487.5,1637.8 L1488.5,1637.7 L1489.5,1637.7 L1490.5,1637.7 L1491.5,1637.6 L1492.5,1637.6 L1493.5,1637.5 L1494.5,1637.5 L1495.5,1637.4 L1496.5,1637.4 L1497.5,1637.3 L1498.5,1637.3 L1499.5,1637.3 L1500.5,1637.2 L1501.5,1637.2 L1502.5,1637.1 L1503.5,1637.1 L1504.5,1637.1 L1505.5,1637 L1506.5,1637 L1507.5,1636.9 L1508.5,1636.9 L1509.5,1636.9 L1510.5,1636.8 L1511.5,1636.8 L1512.5,1636.7 L1513.5,1636.7 L1514.5,1636.7 L1515.5,1636.6 L1516.5,1636.6 L1517.5,1636.6 L1518.5,1636.5 L1519.5,1636.5 L1520.5,1636.5 L1521.5,1636.4 L1522.5,1636.4 L1523.5,1636.4 L1524.5,1636.3 L1525.5,1636.3 L1526.5,1636.3 L1527.5,1636.3 L1528.5,1636.2 L1529.5,1636.2 L1530.5,1636.2 L1531.5,1636.1 L1532.5,1636.1 L1533.5,1636.1 L1534.5,1636.1 L1535.5,1636 L1536.5,1636 L1537.5,1636 L1538.5,1636 L1539.5,1636 L1540.5,1635.9 L1541.5,1635.9 L1542.5,1635.9 L1543.5,1635.9 L1544.5,1635.9 L1545.5,1635.8 L1546.5,1635.8 L1547.5,1635.8 L1548.5,1635.8 L1549.5,1635.8 L1550.5,1635.8 L1551.5,1635.7 L1552.5,1635.7 L1553.5,1635.7 L1554.5,1635.7 L1555.5,1635.7 L1556.5,1635.7 L1557.5,1635.7 L1558.5,1635.7 L1559.5,1635.6 L1560.5,1635.6 L1561.5,1635.6 L1562.5,1635.6 L1563.5,1635.6 L1564.5,1635.6 L1565.5,1635.6 L1566.5,1635.6 L1567.5,1635.6 L1568.5,1635.6 L1569.5,1635.6 L1570.5,1635.6 L1571.5,1635.6 L1572.5,1635.6 L1573.5,1635.6 L1574.5,1635.6 L1575.5,1635.6 L1576.5,1635.5 L1577.5,1635.5 L1578.5,1635.5 L1579.5,1635.5 L1580.5,1635.5 L1581.5,1635.5 L1582.5,1635.5 L1583.5,1635.6 L1584.5,1635.6 L1585.5,1635.6 L1586.5,1635.6 L1587.5,1635.6 L1588.5,1635.6 L1589.5,1635.6 L1590.5,1635.6 L1591.5,1635.6 L1592.5,1635.6 L1593.5,1635.6 L1594.5,1635.6 L1595.5,1635.6 L1596.5,1635.6 L1597.5,1635.6 L1598.5,1635.6 L1599.5,1635.6 L1600.5,1635.6 L1601.5,1635.6 L1602.5,1635.6 L1603.5,1635.7 L1604.5,1635.7 L1605.5,1635.7 L1606.5,1635.7 L1607.5,1635.7 L1608.5,1635.7 L1609.5,1635.7 L1610.5,1635.7 L1611.5,1635.7 L1612.5,1635.7 L1613.5,1635.7 L1614.5,1635.7 L1615.5,1635.7 L1616.5,1635.8 L1617.5,1635.8 L1618.5,1635.8 L1619.5,1635.8 L1620.5,1635.8 L1621.5,1635.8 L1622.5,1635.8 L1623.5,1635.8 L1624.5,1635.8 L1625.5,1635.8 L1626.5,1635.8 L1627.5,1635.8 L1628.5,1635.8 L1629.5,1635.8 L1630.5,1635.8 L1631.5,1635.8 L1632.5,1635.8 L1633.5,1635.8 L1634.5,1635.8 L1635.5,1635.8 L1636.5,1635.8 L1637.5,1635.8 L1638.5,1635.8 L1639.5,1635.8 L1640.5,1635.8 L1641.5,1635.8 L1642.5,1635.8 L1643.5,1635.8 L1644.5,1635.8 L1645.5,1635.8 L1646.5,1635.8 L1647.5,1635.8 L1648.5,1635.8 L1649.5,1635.8 L1650.5,1635.8 L1651.5,1635.8 L1652.5,1635.7 L1653.5,1635.7 L1654.5,1635.7 L1655.5,1635.7 L1656.5,1635.7 L1657.5,1635.7 L1658.5,1635.6 L1659.5,1635.6 L1660.5,1635.6 L1661.5,1635.6 L1662.5,1635.5 L1663.5,1635.5 L1664.5,1635.5 L1665.5,1635.4 L1666.5,1635.4 L1667.5,1635.4 L1668.5,1635.3 L1669.5,1635.3 L1670.5,1635.3 L1671.5,1635.2 L1672.5,1635.2 L1673.5,1635.1 L1674.5,1635.1 L1675.5,1635 L1676.5,1635 L1677.5,1634.9 L1678.5,1634.9 L1679.5,1634.8 L1680.5,1634.7 L1681.5,1634.7 L1682.5,1634.6 L1683.5,1634.5 L1684.5,1634.5 L1685.5,1634.4 L1686.5,1634.3 L1687.5,1634.2 L1688.5,1634.1 L1689.5,1634.1 L1690.5,1634 L1691.5,1633.9 L1692.5,1633.8 L1693.5,1633.7 L1694.5,1633.6 L1695.5,1633.5 L1696.5,1633.4 L1697.5,1633.3 L1698.5,1633.2 L1699.5,1633.1 L1700.5,1632.9 L1701.5,1632.8 L1702.5,1632.7 L1703.5,1632.6 L1704.5,1632.4 L1705.5,1632.3 L1706.5,1632.2 L1707.5,1632 L1708.5,1631.9 L1709.5,1631.7 L1710.5,1631.6 L1711.5,1631.4 L1712.5,1631.3 L1713.5,1631.1 L1714.5,1631 L1715.5,1630.8 L1716.5,1630.6 L1717.5,1630.4 L1718.5,1630.3 L1719.5,1630.1 L1720.5,1629.9 L1721.5,1629.7 L1722.5,1629.5 L1723.5,1629.3 L1724.5,1629.1 L1725.5,1628.9 L1726.5,1628.7 L1727.5,1628.5 L1728.5,1628.3 L1729.5,1628 L1730.5,1627.8 L1731.5,1627.6 L1732.5,1627.4 L1733.5,1627.1 L1734.5,1626.9 L1735.5,1626.6 L1736.5,1626.4 L1737.5,1626.1 L1738.5,1625.9 L1739.5,1625.6 L1740.5,1625.3 L1741.5,1625.1 L1742.5,1624.8 L1743.5,1624.5 L1744.5,1624.2 L1745.5,1624 L1746.5,1623.7 L1747.5,1623.4 L1748.5,1623.1 L1749.5,1622.8 L1750.5,1622.5 L1751.5,1622.2 L1752.5,1621.8 L1753.5,1621.5 L1754.5,1621.2 L1755.5,1620.9 L1756.5,1620.6 L1757.5,1620.2 L1758.5,1619.9 L1759.5,1619.5 L1760.5,1619.2 L1761.5,1618.9 L1762.5,1618.5 L1763.5,1618.2 L1764.5,1617.8 L1765.5,1617.4 L1766.5,1617.1 L1767.5,1616.7 L1768.5,1616.3 L1769.5,1616 L1770.5,1615.6 L1771.5,1615.2 L1772.5,1614.8 L1773.5,1614.4 L1774.5,1614 L1775.5,1613.6 L1776.5,1613.2 L1777.5,1612.8 L1778.5,1612.4 L1779.5,1612 L1780.5,1611.6 L1781.5,1611.2 L1782.5,1610.8 L1783.5,1610.4 L1784.5,1609.9 L1785.5,1609.5 L1786.5,1609.1 L1787.5,1608.7 L1788.5,1608.2 L1789.5,1607.8 L1790.5,1607.4 L1791.5,1606.9 L1792.5,1606.5 L1793.5,1606 L1794.5,1605.6 L1795.5,1605.2 L1796.5,1604.7 L1797.5,1604.3 L1798.5,1603.8 L1799.5,1603.3 L1800.5,1602.9 L1801.5,1602.4 L1802.5,1602 L1803.5,1601.5 L1804.5,1601 L1805.5,1600.6 L1806.5,1600.1 L1807.5,1599.6 L1808.5,1599.1 L1809.5,1598.7 L1810.5,1598.2 L1811.5,1597.7 L1812.5,1597.2 L1813.5,1596.7 L1814.5,1596.3 L1815.5,1595.8 L1816.5,1595.3 L1817.5,1594.8 L1818.5,1594.3 L1819.5,1593.8 L1820.5,1593.3 L1821.5,1592.8 L1822.5,1592.3 L1823.5,1591.8 L1824.5,1591.3 L1825.5,1590.8 L1826.5,1590.2 L1827.5,1589.7 L1828.5,1589.2 L1829.5,1588.7 L1830.5,1588.1 L1831.5,1587.6 L1832.5,1587.1 L1833.5,1586.5 L1834.5,1586 L1835.5,1585.4 L1836.5,1584.8 L1837.5,1584.3 L1838.5,1583.7 L1839.5,1583.1 L1840.5,1582.5 L1841.5,1581.9 L1842.5,1581.3 L1843.5,1580.7 L1844.5,1580.1 L1845.5,1579.5 L1846.5,1578.8 L1847.5,1578.2 L1848.5,1577.5 L1849.5,1576.8 L1850.5,1576.1 L1851.5,1575.4 L1852.5,1574.6 L1853.5,1573.9 L1854.5,1573.1 L1855.5,1572.3 L1856.5,1571.5 L1857.5,1570.6 L1858.5,1569.8 L1859.5,1568.9 L1860.5,1567.9 L1861.5,1567 L1862.5,1565.9 L1863.5,1564.9 L1864.5,1563.8 L1865.5,1562.7 L1866.5,1561.5 L1867.5,1560.2 L1868.5,1558.9 L1869.5,1557.6 L1870.5,1556.2 L1871.5,1554.7 L1872.5,1553.1 L1873.5,1551.5 L1874.5,1549.8 L1875.5,1548 L1876.5,1546.1 L1877.5,1544.1 L1878.5,1542 L1879.5,1539.8 L1880.5,1537.5 L1881.5,1535.1 L1882.5,1532.5 L1883.5,1529.8 L1884.5,1527 L1885.5,1524 L1886.5,1520.9 L1887.5,1517.6 L1888.5,1514.1 L1889.5,1510.5 L1890.5,1506.7 L1891.5,1502.8 L1892.5,1498.6 L1893.5,1494.2 L1894.5,1489.7 L1895.5,1484.9 L1896.5,1479.9 L1897.5,1474.7 L1898.5,1469.3 L1899.5,1463.6 L1900.5,1457.7 L1901.5,1451.6 L1902.5,1445.2 L1903.5,1438.6 L1904.5,1431.8 L1905.5,1424.7 L1906.5,1417.4 L1907.5,1409.8 L1908.5,1402 L1909.5,1393.9 L1910.5,1385.6 L1911.5,1377.1 L1912.5,1368.4 L1913.5,1359.4 L1914.5,1350.3 L1915.5,1340.9 L1916.5,1331.4 L1917.5,1321.6 L1918.5,1311.8 L1919.5,1301.8 L1920.5,1291.6 L1921.5,1281.4 L1922.5,1271.2 L1923.5,1260.9 L1924.5,1250.5 L1925.5,1240.3 L1926.5,1230 L1927.5,1219.9 L1928.5,1210 L1929.5,1200.2 L1930.5,1190.7 L1931.5,1181.5 L1932.5,1172.7 L1933.5,1164.3 L1934.5,1156.3 L1935.5,1148.9 L1936.5,1142 L1937.5,1135.9 L1938.5,1130.4 L1939.5,1125.6 L1940.5,1121.7 L1941.5,1118.5 L1942.5,1116.3 L1943.5,1114.9 L1944.5,1114.5 L1945.5,1115 L1946.5,1116.9 L1947.5,1120.3 L1948.5,1125.1 L1949.5,1131.3 L1950.5,1138.8 L1951.5,1147.4 L1952.5,1157.2 L1953.5,1167.9 L1954.5,1179.4 L1955.5,1191.6 L1956.5,1204.5 L1957.5,1217.8 L1958.5,1231.5 L1959.5,1245.4 L1960.5,1259.6 L1961.5,1273.8 L1962.5,1288 L1963.5,1302.2 L1964.5,1316.2 L1965.5,1330.1 L1966.5,1343.7 L1967.5,1357.1 L1968.5,1370.1 L1969.5,1382.9 L1970.5,1395.3 L1971.5,1407.3 L1972.5,1419 L1973.5,1430.2 L1974.5,1441 L1975.5,1451.5 L1976.5,1461.5 L1977.5,1471.1 L1978.5,1480.2 L1979.5,1489 L1980.5,1497.4 L1981.5,1505.3 L1982.5,1512.9 L1983.5,1520.1 L1984.5,1527 L1985.5,1533.4 L1986.5,1539.6 L1987.5,1545.4 L1988.5,1550.9 L1989.5,1556 L1990.5,1560.9 L1991.5,1565.5 L1992.5,1569.8 L1993.5,1573.9 L1994.5,1577.8 L1995.5,1581.4 L1996.5,1584.8 L1997.5,1588 L1998.5,1591.1 L1999.5,1593.9 L2000.5,1596.6 L2001.5,1599.1 L2002.5,1601.5 L2003.5,1603.7 L2004.5,1605.9 L2005.5,1607.9 L2006.5,1609.8 L2007.5,1611.6 L2008.5,1613.3 L2009.5,1614.9 L2010.5,1616.4 L2011.5,1617.9 L2012.5,1619.3 L2013.5,1620.6 L2014.5,1621.9 L2015.5,1623.1 L2016.5,1624.3 L2017.5,1625.4 L2018.5,1626.4 L2019.5,1627.5 L2020.5,1628.5 L2021.5,1629.4 L2022.5,1630.3 L2023.5,1631.2 L2024.5,1632 L2025.5,1632.8 L2026.5,1633.6 L2027.5,1634.4 L2028.5,1635.1 L2029.5,1635.8 L2030.5,1636.5 L2031.5,1637.2 L2032.5,1637.9 L2033.5,1638.5 L2034.5,1639.1 L2035.5,1639.7 L2036.5,1640.3 L2037.5,1640.8 L2038.5,1641.4 L2039.5,1641.9 L2040.5,1642.4 L2041.5,1642.9 L2042.5,1643.4 L2043.5,1643.9 L2044.5,1644.3 L2045.5,1644.8 L2046.5,1645.2 L2047.5,1645.6 L2048.5,1646 L2049.5,1646.4 L2050.5,1646.8 L2051.5,1647.2 L2052.5,1647.6 L2053.5,1647.9 L2054.5,1648.3 L2055.5,1648.6 L2056.5,1649 L2057.5,1649.3 L2058.5,1649.6 L2059.5,1649.9 L2060.5,1650.2 L2061.5,1650.5 L2062.5,1650.8 L2063.5,1651.1 L2064.5,1651.4 L2065.5,1651.7 L2066.5,1651.9 L2067.5,1652.2 L2068.5,1652.4 L2069.5,1652.7 L2070.5,1652.9 L2071.5,1653.1 L2072.5,1653.4 L2073.5,1653.6 L2074.5,1653.8 L2075.5,1654 L2076.5,1654.2 L2077.5,1654.4 L2078.5,1654.6 L2079.5,1654.8 L2080.5,1655 L2081.5,1655.2 L2082.5,1655.4 L2083.5,1655.5 L2084.5,1655.7 L2085.5,1655.9 L2086.5,1656 L2087.5,1656.2 L2088.5,1656.4 L2089.5,1656.5 L2090.5,1656.7 L2091.5,1656.8 L2092.5,1657 L2093.5,1657.1 L2094.5,1657.2 L2095.5,1657.4 L2096.5,1657.5 L2097.5,1657.6 L2098.5,1657.8 L2099.5,1657.9 L2100.5,1658 L2101.5,1658.1 L2102.5,1658.3 L2103.5,1658.4 L2104.5,1658.5 L2105.5,1658.6 L2106.5,1658.7 L2107.5,1658.8 L2108.5,1658.9 L2109.5,1659 L2110.5,1659.1 L2111.5,1659.2 L2112.5,1659.3 L2113.5,1659.4 L2114.5,1659.5 L2115.5,1659.6 L2116.5,1659.7 L2117.5,1659.8 L2118.5,1659.8 L2119.5,1659.9 L2120.5,1660 L2121.5,1660.1 L2122.5,1660.2 L2123.5,1660.3 L2124.5,1660.3 L2125.5,1660.4 L2126.5,1660.5 L2127.5,1660.5 L2128.5,1660.6 L2129.5,1660.7 L2130.5,1660.8 L2131.5,1660.8 L2132.5,1660.9 L2133.5,1661 L2134.5,1661 L2135.5,1661.1 L2136.5,1661.1 L2137.5,1661.2 L2138.5,1661.3 L2139.5,1661.3 L2140.5,1661.4 L2141.5,1661.4 L2142.5,1661.5 L2143.5,1661.5 L2144.5,1661.6 L2145.5,1661.7 L2146.5,1661.7 L2147.5,1661.8" fill="none" stroke="#000" stroke-width="5.5" stroke-linejoin="round" stroke-linecap="round"/>
<path d="M1271,1646.4 L1272,1646.4 L1273,1646.4 L1274,1646.4 L1275,1646.4 L1276,1646.4 L1277,1646.3 L1278,1646.3 L1279,1646.3 L1280,1646.3 L1281,1646.3 L1282,1646.3 L1283,1646.2 L1284,1646.2 L1285,1646.2 L1286,1646.2 L1287,1646.2 L1288,1646.2 L1289,1646.2 L1290,1646.1 L1291,1646.1 L1292,1646.1 L1293,1646.1 L1294,1646.1 L1295,1646 L1296,1646 L1297,1646 L1298,1646 L1299,1646 L1300,1646 L1301,1645.9 L1302,1645.9 L1303,1645.9 L1304,1645.9 L1305,1645.9 L1306,1645.8 L1307,1645.8 L1308,1645.8 L1309,1645.8 L1310,1645.8 L1311,1645.7 L1312,1645.7 L1313,1645.7 L1314,1645.7 L1315,1645.6 L1316,1645.6 L1317,1645.6 L1318,1645.6 L1319,1645.5 L1320,1645.5 L1321,1645.5 L1322,1645.5 L1323,1645.4 L1324,1645.4 L1325,1645.4 L1326,1645.4 L1327,1645.3 L1328,1645.3 L1329,1645.3 L1330,1645.3 L1331,1645.2 L1332,1645.2 L1333,1645.2 L1334,1645.1 L1335,1645.1 L1336,1645.1 L1337,1645.1 L1338,1645 L1339,1645 L1340,1645 L1341,1644.9 L1342,1644.9 L1343,1644.9 L1344,1644.8 L1345,1644.8 L1346,1644.8 L1347,1644.7 L1348,1644.7 L1349,1644.7 L1350,1644.6 L1351,1644.6 L1352,1644.6 L1353,1644.5 L1354,1644.5 L1355,1644.5 L1356,1644.4 L1357,1644.4 L1358,1644.3 L1359,1644.3 L1360,1644.3 L1361,1644.2 L1362,1644.2 L1363,1644.2 L1364,1644.1 L1365,1644.1 L1366,1644 L1367,1644 L1368,1644 L1369,1643.9 L1370,1643.9 L1371,1643.8 L1372,1643.8 L1373,1643.8 L1374,1643.7 L1375,1643.7 L1376,1643.6 L1377,1643.6 L1378,1643.6 L1379,1643.5 L1380,1643.5 L1381,1643.4 L1382,1643.4 L1383,1643.3 L1384,1643.3 L1385,1643.2 L1386,1643.2 L1387,1643.2 L1388,1643.1 L1389,1643.1 L1390,1643 L1391,1643 L1392,1642.9 L1393,1642.9 L1394,1642.8 L1395,1642.8 L1396,1642.7 L1397,1642.7 L1398,1642.6 L1399,1642.6 L1400,1642.5 L1401,1642.5 L1402,1642.4 L1403,1642.4 L1404,1642.3 L1405,1642.3 L1406,1642.2 L1407,1642.2 L1408,1642.1 L1409,1642.1 L1410,1642 L1411,1642 L1412,1641.9 L1413,1641.9 L1414,1641.8 L1415,1641.8 L1416,1641.7 L1417,1641.7 L1418,1641.6 L1419,1641.6 L1420,1641.5 L1421,1641.5 L1422,1641.4 L1423,1641.3 L1424,1641.3 L1425,1641.2 L1426,1641.2 L1427,1641.1 L1428,1641.1 L1429,1641 L1430,1641 L1431,1640.9 L1432,1640.9 L1433,1640.8 L1434,1640.8 L1435,1640.7 L1436,1640.6 L1437,1640.6 L1438,1640.5 L1439,1640.5 L1440,1640.4 L1441,1640.4 L1442,1640.3 L1443,1640.3 L1444,1640.2 L1445,1640.1 L1446,1640.1 L1447,1640 L1448,1640 L1449,1639.9 L1450,1639.9 L1451,1639.8 L1452,1639.8 L1453,1639.7 L1454,1639.7 L1455,1639.6 L1456,1639.5 L1457,1639.5 L1458,1639.4 L1459,1639.4 L1460,1639.3 L1461,1639.3 L1462,1639.2 L1463,1639.2 L1464,1639.1 L1465,1639.1 L1466,1639 L1467,1639 L1468,1638.9 L1469,1638.8 L1470,1638.8 L1471,1638.7 L1472,1638.7 L1473,1638.6 L1474,1638.6 L1475,1638.5 L1476,1638.5 L1477,1638.4 L1478,1638.4 L1479,1638.3 L1480,1638.3 L1481,1638.2 L1482,1638.2 L1483,1638.1 L1484,1638.1 L1485,1638 L1486,1638 L1487,1637.9 L1488,1637.9 L1489,1637.8 L1490,1637.8 L1491,1637.7 L1492,1637.7 L1493,1637.7 L1494,1637.6 L1495,1637.6 L1496,1637.5 L1497,1637.5 L1498,1637.4 L1499,1637.4 L1500,1637.3 L1501,1637.3 L1502,1637.3 L1503,1637.2 L1504,1637.2 L1505,1637.1 L1506,1637.1 L1507,1637.1 L1508,1637 L1509,1637 L1510,1636.9 L1511,1636.9 L1512,1636.9 L1513,1636.8 L1514,1636.8 L1515,1636.7 L1516,1636.7 L1517,1636.7 L1518,1636.6 L1519,1636.6 L1520,1636.6 L1521,1636.5 L1522,1636.5 L1523,1636.5 L1524,1636.4 L1525,1636.4 L1526,1636.4 L1527,1636.3 L1528,1636.3 L1529,1636.3 L1530,1636.3 L1531,1636.2 L1532,1636.2 L1533,1636.2 L1534,1636.1 L1535,1636.1 L1536,1636.1 L1537,1636.1 L1538,1636 L1539,1636 L1540,1636 L1541,1636 L1542,1636 L1543,1635.9 L1544,1635.9 L1545,1635.9 L1546,1635.9 L1547,1635.9 L1548,1635.8 L1549,1635.8 L1550,1635.8 L1551,1635.8 L1552,1635.8 L1553,1635.8 L1554,1635.7 L1555,1635.7 L1556,1635.7 L1557,1635.7 L1558,1635.7 L1559,1635.7 L1560,1635.7 L1561,1635.7 L1562,1635.6 L1563,1635.6 L1564,1635.6 L1565,1635.6 L1566,1635.6 L1567,1635.6 L1568,1635.6 L1569,1635.6 L1570,1635.6 L1571,1635.6 L1572,1635.6 L1573,1635.6 L1574,1635.6 L1575,1635.6 L1576,1635.6 L1577,1635.6 L1578,1635.6 L1579,1635.5 L1580,1635.5 L1581,1635.5 L1582,1635.5 L1583,1635.5 L1584,1635.5 L1585,1635.5 L1586,1635.6 L1587,1635.6 L1588,1635.6 L1589,1635.6 L1590,1635.6 L1591,1635.6 L1592,1635.6 L1593,1635.6 L1594,1635.6 L1595,1635.6 L1596,1635.6 L1597,1635.6 L1598,1635.6 L1599,1635.6 L1600,1635.6 L1601,1635.6 L1602,1635.6 L1603,1635.6 L1604,1635.6 L1605,1635.6 L1606,1635.7 L1607,1635.7 L1608,1635.7 L1609,1635.7 L1610,1635.7 L1611,1635.7 L1612,1635.7 L1613,1635.7 L1614,1635.7 L1615,1635.7 L1616,1635.7 L1617,1635.7 L1618,1635.7 L1619,1635.8 L1620,1635.8 L1621,1635.8 L1622,1635.8 L1623,1635.8 L1624,1635.8 L1625,1635.8 L1626,1635.8 L1627,1635.8 L1628,1635.8 L1629,1635.8 L1630,1635.8 L1631,1635.8 L1632,1635.8 L1633,1635.8 L1634,1635.8 L1635,1635.8 L1636,1635.8 L1637,1635.8 L1638,1635.8 L1639,1635.8 L1640,1635.8 L1641,1635.8 L1642,1635.8 L1643,1635.8 L1644,1635.8 L1645,1635.8 L1646,1635.8 L1647,1635.8 L1648,1635.8 L1649,1635.8 L1650,1635.8 L1651,1635.8 L1652,1635.8 L1653,1635.8 L1654,1635.8 L1655,1635.7 L1656,1635.7 L1657,1635.7 L1658,1635.7 L1659,1635.7 L1660,1635.7 L1661,1635.6 L1662,1635.6 L1663,1635.6 L1664,1635.6 L1665,1635.5 L1666,1635.5 L1667,1635.5 L1668,1635.4 L1669,1635.4 L1670,1635.4 L1671,1635.3 L1672,1635.3 L1673,1635.3 L1674,1635.2 L1675,1635.2 L1676,1635.1 L1677,1635.1 L1678,1635 L1679,1635 L1680,1634.9 L1681,1634.9 L1682,1634.8 L1683,1634.7 L1684,1634.7 L1685,1634.6 L1686,1634.5 L1687,1634.5 L1688,1634.4 L1689,1634.3 L1690,1634.2 L1691,1634.1 L1692,1634.1 L1693,1634 L1694,1633.9 L1695,1633.8 L1696,1633.7 L1697,1633.6 L1698,1633.5 L1699,1633.4 L1700,1633.3 L1701,1633.2 L1702,1633.1 L1703,1632.9 L1704,1632.8 L1705,1632.7 L1706,1632.6 L1707,1632.4 L1708,1632.3 L1709,1632.2 L1710,1632 L1711,1631.9 L1712,1631.7 L1713,1631.6 L1714,1631.4 L1715,1631.3 L1716,1631.1 L1717,1631 L1718,1630.8 L1719,1630.6 L1720,1630.4 L1721,1630.3 L1722,1630.1 L1723,1629.9 L1724,1629.7 L1725,1629.5 L1726,1629.3 L1727,1629.1 L1728,1628.9 L1729,1628.7 L1730,1628.5 L1731,1628.3 L1732,1628 L1733,1627.8 L1734,1627.6 L1735,1627.4 L1736,1627.1 L1737,1626.9 L1738,1626.6 L1739,1626.4 L1740,1626.1 L1741,1625.9 L1742,1625.6 L1743,1625.3 L1744,1625.1 L1745,1624.8 L1746,1624.5 L1747,1624.2 L1748,1624 L1749,1623.7 L1750,1623.4 L1751,1623.1 L1752,1622.8 L1753,1622.5 L1754,1622.2 L1755,1621.8 L1756,1621.5 L1757,1621.2 L1758,1620.9 L1759,1620.6 L1760,1620.2 L1761,1619.9 L1762,1619.5 L1763,1619.2 L1764,1618.9 L1765,1618.5 L1766,1618.2 L1767,1617.8 L1768,1617.4 L1769,1617.1 L1770,1616.7 L1771,1616.3 L1772,1616 L1773,1615.6 L1774,1615.2 L1775,1614.8 L1776,1614.4 L1777,1614 L1778,1613.6 L1779,1613.2 L1780,1612.8 L1781,1612.4 L1782,1612 L1783,1611.6 L1784,1611.2 L1785,1610.8 L1786,1610.4 L1787,1609.9 L1788,1609.5 L1789,1609.1 L1790,1608.7 L1791,1608.2 L1792,1607.8 L1793,1607.4 L1794,1606.9 L1795,1606.5 L1796,1606 L1797,1605.6 L1798,1605.2 L1799,1604.7 L1800,1604.3 L1801,1603.8 L1802,1603.3 L1803,1602.9 L1804,1602.4 L1805,1602 L1806,1601.5 L1807,1601 L1808,1600.6 L1809,1600.1 L1810,1599.6 L1811,1599.1 L1812,1598.7 L1813,1598.2 L1814,1597.7 L1815,1597.2 L1816,1596.7 L1817,1596.3 L1818,1595.8 L1819,1595.3 L1820,1594.8 L1821,1594.3 L1822,1593.8 L1823,1593.3 L1824,1592.8 L1825,1592.3 L1826,1591.8 L1827,1591.3 L1828,1590.8 L1829,1590.2 L1830,1589.7 L1831,1589.2 L1832,1588.7 L1833,1588.1 L1834,1587.6 L1835,1587.1 L1836,1586.5 L1837,1586 L1838,1585.4 L1839,1584.8 L1840,1584.3 L1841,1583.7 L1842,1583.1 L1843,1582.5 L1844,1581.9 L1845,1581.3 L1846,1580.7 L1847,1580.1 L1848,1579.5 L1849,1578.8 L1850,1578.2 L1851,1577.5 L1852,1576.8 L1853,1576.1 L1854,1575.4 L1855,1574.6 L1856,1573.9 L1857,1573.1 L1858,1572.3 L1859,1571.5 L1860,1570.6 L1861,1569.8 L1862,1568.9 L1863,1567.9 L1864,1567 L1865,1565.9 L1866,1564.9 L1867,1563.8 L1868,1562.7 L1869,1561.5 L1870,1560.2 L1871,1558.9 L1872,1557.6 L1873,1556.2 L1874,1554.7 L1875,1553.1 L1876,1551.5 L1877,1549.8 L1878,1548 L1879,1546.1 L1880,1544.1 L1881,1542 L1882,1539.8 L1883,1537.5 L1884,1535.1 L1885,1532.5 L1886,1529.8 L1887,1527 L1888,1524 L1889,1520.9 L1890,1517.6 L1891,1514.1 L1892,1510.5 L1893,1506.7 L1894,1502.8 L1895,1498.6 L1896,1494.2 L1897,1489.7 L1898,1484.9 L1899,1479.9 L1900,1474.7 L1901,1469.3 L1902,1463.6 L1903,1457.7 L1904,1451.6 L1905,1445.2 L1906,1438.6 L1907,1431.8 L1908,1424.7 L1909,1417.4 L1910,1409.8 L1911,1402 L1912,1393.9 L1913,1385.6 L1914,1377.1 L1915,1368.4 L1916,1359.4 L1917,1350.3 L1918,1340.9 L1919,1331.4 L1920,1321.6 L1921,1311.8 L1922,1301.8 L1923,1291.6 L1924,1281.4 L1925,1271.2 L1926,1260.9 L1927,1250.5 L1928,1240.3 L1929,1230 L1930,1219.9 L1931,1210 L1932,1200.2 L1933,1190.7 L1934,1181.5 L1935,1172.7 L1936,1164.3 L1937,1156.3 L1938,1148.9 L1939,1142 L1940,1135.9 L1941,1130.4 L1942,1125.6 L1943,1121.7 L1944,1118.5 L1945,1116.3 L1946,1114.9 L1947,1114.5 L1948,1115 L1949,1116.9 L1950,1120.3 L1951,1125.1 L1952,1131.3 L1953,1138.8 L1954,1147.4 L1955,1157.2 L1956,1167.9 L1957,1179.4 L1958,1191.6 L1959,1204.5 L1960,1217.8 L1961,1231.5 L1962,1245.4 L1963,1259.6 L1964,1273.8 L1965,1288 L1966,1302.2 L1967,1316.2 L1968,1330.1 L1969,1343.7 L1970,1357.1 L1971,1370.1 L1972,1382.9 L1973,1395.3 L1974,1407.3 L1975,1419 L1976,1430.2 L1977,1441 L1978,1451.5 L1979,1461.5 L1980,1471.1 L1981,1480.2 L1982,1489 L1983,1497.4 L1984,1505.3 L1985,1512.9 L1986,1520.1 L1987,1527 L1988,1533.4 L1989,1539.6 L1990,1545.4 L1991,1550.9 L1992,1556 L1993,1560.9 L1994,1565.5 L1995,1569.8 L1996,1573.9 L1997,1577.8 L1998,1581.4 L1999,1584.8 L2000,1588 L2001,1591.1 L2002,1593.9 L2003,1596.6 L2004,1599.1 L2005,1601.5 L2006,1603.7 L2007,1605.9 L2008,1607.9 L2009,1609.8 L2010,1611.6 L2011,1613.3 L2012,1614.9 L2013,1616.4 L2014,1617.9 L2015,1619.3 L2016,1620.6 L2017,1621.9 L2018,1623.1 L2019,1624.3 L2020,1625.4 L2021,1626.4 L2022,1627.5 L2023,1628.5 L2024,1629.4 L2025,1630.3 L2026,1631.2 L2027,1632 L2028,1632.8 L2029,1633.6 L2030,1634.4 L2031,1635.1 L2032,1635.8 L2033,1636.5 L2034,1637.2 L2035,1637.9 L2036,1638.5 L2037,1639.1 L2038,1639.7 L2039,1640.3 L2040,1640.8 L2041,1641.4 L2042,1641.9 L2043,1642.4 L2044,1642.9 L2045,1643.4 L2046,1643.9 L2047,1644.3 L2048,1644.8 L2049,1645.2 L2050,1645.6 L2051,1646 L2052,1646.4 L2053,1646.8 L2054,1647.2 L2055,1647.6 L2056,1647.9 L2057,1648.3 L2058,1648.6 L2059,1649 L2060,1649.3 L2061,1649.6 L2062,1649.9 L2063,1650.2 L2064,1650.5 L2065,1650.8 L2066,1651.1 L2067,1651.4 L2068,1651.7 L2069,1651.9 L2070,1652.2 L2071,1652.4 L2072,1652.7 L2073,1652.9 L2074,1653.1 L2075,1653.4 L2076,1653.6 L2077,1653.8 L2078,1654 L2079,1654.2 L2080,1654.4 L2081,1654.6 L2082,1654.8 L2083,1655 L2084,1655.2 L2085,1655.4 L2086,1655.5 L2087,1655.7 L2088,1655.9 L2089,1656 L2090,1656.2 L2091,1656.4 L2092,1656.5 L2093,1656.7 L2094,1656.8 L2095,1657 L2096,1657.1 L2097,1657.2 L2098,1657.4 L2099,1657.5 L2100,1657.6 L2101,1657.8 L2102,1657.9 L2103,1658 L2104,1658.1 L2105,1658.3 L2106,1658.4 L2107,1658.5 L2108,1658.6 L2109,1658.7 L2110,1658.8 L2111,1658.9 L2112,1659 L2113,1659.1 L2114,1659.2 L2115,1659.3 L2116,1659.4 L2117,1659.5 L2118,1659.6 L2119,1659.7 L2120,1659.8 L2121,1659.8 L2122,1659.9 L2123,1660 L2124,1660.1 L2125,1660.2 L2126,1660.3 L2127,1660.3 L2128,1660.4 L2129,1660.5 L2130,1660.5 L2131,1660.6 L2132,1660.7 L2133,1660.8 L2134,1660.8 L2135,1660.9 L2136,1661 L2137,1661 L2138,1661.1 L2139,1661.1 L2140,1661.2 L2141,1661.3 L2142,1661.3 L2143,1661.4 L2144,1661.4 L2145,1661.5 L2146,1661.5 L2147,1661.6 L2148,1661.7 L2149,1661.7 L2150,1661.8" fill="none" stroke="#ff0000" stroke-width="5" stroke-linejoin="round" stroke-linecap="round"/>
<path d="M1271,1647.7 L1272,1647.7 L1273,1647.7 L1274,1647.7 L1275,1647.7 L1276,1647.7 L1277,1647.7 L1278,1647.7 L1279,1647.7 L1280,1647.7 L1281,1647.7 L1282,1647.7 L1283,1647.7 L1284,1647.7 L1285,1647.7 L1286,1647.7 L1287,1647.7 L1288,1647.7 L1289,1647.7 L1290,1647.7 L1291,1647.7 L1292,1647.7 L1293,1647.7 L1294,1647.7 L1295,1647.7 L1296,1647.7 L1297,1647.7 L1298,1647.7 L1299,1647.7 L1300,1647.7 L1301,1647.7 L1302,1647.7 L1303,1647.7 L1304,1647.7 L1305,1647.7 L1306,1647.7 L1307,1647.7 L1308,1647.7 L1309,1647.7 L1310,1647.7 L1311,1647.7 L1312,1647.7 L1313,1647.7 L1314,1647.7 L1315,1647.7 L1316,1647.7 L1317,1647.7 L1318,1647.7 L1319,1647.7 L1320,1647.7 L1321,1647.7 L1322,1647.7 L1323,1647.7 L1324,1647.7 L1325,1647.7 L1326,1647.7 L1327,1647.7 L1328,1647.7 L1329,1647.7 L1330,1647.7 L1331,1647.7 L1332,1647.7 L1333,1647.7 L1334,1647.7 L1335,1647.7 L1336,1647.7 L1337,1647.7 L1338,1647.7 L1339,1647.7 L1340,1647.7 L1341,1647.7 L1342,1647.7 L1343,1647.7 L1344,1647.7 L1345,1647.7 L1346,1647.7 L1347,1647.7 L1348,1647.7 L1349,1647.7 L1350,1647.7 L1351,1647.7 L1352,1647.7 L1353,1647.7 L1354,1647.7 L1355,1647.7 L1356,1647.7 L1357,1647.7 L1358,1647.7 L1359,1647.7 L1360,1647.7 L1361,1647.7 L1362,1647.7 L1363,1647.7 L1364,1647.7 L1365,1647.7 L1366,1647.7 L1367,1647.7 L1368,1647.7 L1369,1647.7 L1370,1647.7 L1371,1647.7 L1372,1647.7 L1373,1647.7 L1374,1647.7 L1375,1647.7 L1376,1647.7 L1377,1647.7 L1378,1647.7 L1379,1647.7 L1380,1647.7 L1381,1647.7 L1382,1647.7 L1383,1647.7 L1384,1647.7 L1385,1647.7 L1386,1647.7 L1387,1647.7 L1388,1647.7 L1389,1647.7 L1390,1647.7 L1391,1647.7 L1392,1647.7 L1393,1647.7 L1394,1647.7 L1395,1647.7 L1396,1647.7 L1397,1647.7 L1398,1647.7 L1399,1647.7 L1400,1647.7 L1401,1647.7 L1402,1647.7 L1403,1647.7 L1404,1647.7 L1405,1647.7 L1406,1647.7 L1407,1647.7 L1408,1647.7 L1409,1647.7 L1410,1647.7 L1411,1647.7 L1412,1647.7 L1413,1647.7 L1414,1647.7 L1415,1647.7 L1416,1647.7 L1417,1647.7 L1418,1647.7 L1419,1647.7 L1420,1647.7 L1421,1647.7 L1422,1647.7 L1423,1647.7 L1424,1647.7 L1425,1647.7 L1426,1647.7 L1427,1647.7 L1428,1647.7 L1429,1647.7 L1430,1647.7 L1431,1647.7 L1432,1647.7 L1433,1647.7 L1434,1647.7 L1435,1647.7 L1436,1647.7 L1437,1647.7 L1438,1647.7 L1439,1647.7 L1440,1647.7 L1441,1647.7 L1442,1647.7 L1443,1647.7 L1444,1647.7 L1445,1647.7 L1446,1647.7 L1447,1647.7 L1448,1647.7 L1449,1647.7 L1450,1647.7 L1451,1647.7 L1452,1647.7 L1453,1647.7 L1454,1647.7 L1455,1647.7 L1456,1647.7 L1457,1647.7 L1458,1647.7 L1459,1647.7 L1460,1647.7 L1461,1647.7 L1462,1647.7 L1463,1647.7 L1464,1647.7 L1465,1647.7 L1466,1647.7 L1467,1647.7 L1468,1647.7 L1469,1647.7 L1470,1647.7 L1471,1647.7 L1472,1647.7 L1473,1647.7 L1474,1647.8 L1475,1647.8 L1476,1647.8 L1477,1647.8 L1478,1647.8 L1479,1647.8 L1480,1647.8 L1481,1647.8 L1482,1647.8 L1483,1647.8 L1484,1647.8 L1485,1647.8 L1486,1647.8 L1487,1647.8 L1488,1647.8 L1489,1647.8 L1490,1647.8 L1491,1647.8 L1492,1647.8 L1493,1647.8 L1494,1647.8 L1495,1647.8 L1496,1647.8 L1497,1647.8 L1498,1647.8 L1499,1647.8 L1500,1647.8 L1501,1647.8 L1502,1647.8 L1503,1647.8 L1504,1647.8 L1505,1647.8 L1506,1647.8 L1507,1647.8 L1508,1647.8 L1509,1647.8 L1510,1647.8 L1511,1647.8 L1512,1647.8 L1513,1647.8 L1514,1647.8 L1515,1647.8 L1516,1647.8 L1517,1647.8 L1518,1647.8 L1519,1647.8 L1520,1647.8 L1521,1647.8 L1522,1647.8 L1523,1647.8 L1524,1647.8 L1525,1647.8 L1526,1647.8 L1527,1647.8 L1528,1647.8 L1529,1647.8 L1530,1647.8 L1531,1647.8 L1532,1647.8 L1533,1647.8 L1534,1647.8 L1535,1647.8 L1536,1647.8 L1537,1647.8 L1538,1647.8 L1539,1647.8 L1540,1647.8 L1541,1647.8 L1542,1647.8 L1543,1647.8 L1544,1647.8 L1545,1647.8 L1546,1647.8 L1547,1647.8 L1548,1647.8 L1549,1647.8 L1550,1647.8 L1551,1647.8 L1552,1647.8 L1553,1647.8 L1554,1647.8 L1555,1647.8 L1556,1647.8 L1557,1647.8 L1558,1647.8 L1559,1647.8 L1560,1647.8 L1561,1647.8 L1562,1647.8 L1563,1647.8 L1564,1647.8 L1565,1647.8 L1566,1647.8 L1567,1647.8 L1568,1647.8 L1569,1647.8 L1570,1647.8 L1571,1647.8 L1572,1647.8 L1573,1647.8 L1574,1647.8 L1575,1647.8 L1576,1647.8 L1577,1647.8 L1578,1647.8 L1579,1647.8 L1580,1647.8 L1581,1647.8 L1582,1647.8 L1583,1647.8 L1584,1647.8 L1585,1647.8 L1586,1647.8 L1587,1647.8 L1588,1647.8 L1589,1647.8 L1590,1647.8 L1591,1647.8 L1592,1647.8 L1593,1647.8 L1594,1647.8 L1595,1647.8 L1596,1647.8 L1597,1647.9 L1598,1647.9 L1599,1647.9 L1600,1647.9 L1601,1647.9 L1602,1647.9 L1603,1647.9 L1604,1647.9 L1605,1647.9 L1606,1647.9 L1607,1647.9 L1608,1647.9 L1609,1647.9 L1610,1647.9 L1611,1647.9 L1612,1647.9 L1613,1647.9 L1614,1647.9 L1615,1647.9 L1616,1647.9 L1617,1647.9 L1618,1647.9 L1619,1647.9 L1620,1647.9 L1621,1647.9 L1622,1647.9 L1623,1647.9 L1624,1647.9 L1625,1647.9 L1626,1647.9 L1627,1647.9 L1628,1647.9 L1629,1647.9 L1630,1647.9 L1631,1647.9 L1632,1647.9 L1633,1647.9 L1634,1647.9 L1635,1647.9 L1636,1647.9 L1637,1647.9 L1638,1647.9 L1639,1647.9 L1640,1647.9 L1641,1647.9 L1642,1647.9 L1643,1647.9 L1644,1647.9 L1645,1647.9 L1646,1647.9 L1647,1647.9 L1648,1647.9 L1649,1647.9 L1650,1647.9 L1651,1647.9 L1652,1647.9 L1653,1647.9 L1654,1647.9 L1655,1647.9 L1656,1647.9 L1657,1647.9 L1658,1647.9 L1659,1647.9 L1660,1647.9 L1661,1647.9 L1662,1647.9 L1663,1647.9 L1664,1647.9 L1665,1648 L1666,1648 L1667,1648 L1668,1648 L1669,1648 L1670,1648 L1671,1648 L1672,1648 L1673,1648 L1674,1648 L1675,1648 L1676,1648 L1677,1648 L1678,1648 L1679,1648 L1680,1648 L1681,1648 L1682,1648 L1683,1648 L1684,1648 L1685,1648 L1686,1648 L1687,1648 L1688,1648 L1689,1648 L1690,1648 L1691,1648 L1692,1648 L1693,1648 L1694,1648 L1695,1648 L1696,1648 L1697,1648 L1698,1648 L1699,1648 L1700,1648 L1701,1648 L1702,1648 L1703,1648 L1704,1648 L1705,1648 L1706,1648.1 L1707,1648.1 L1708,1648.1 L1709,1648.1 L1710,1648.1 L1711,1648.1 L1712,1648.1 L1713,1648.1 L1714,1648.1 L1715,1648.1 L1716,1648.1 L1717,1648.1 L1718,1648.1 L1719,1648.1 L1720,1648.1 L1721,1648.1 L1722,1648.1 L1723,1648.1 L1724,1648.1 L1725,1648.1 L1726,1648.1 L1727,1648.1 L1728,1648.1 L1729,1648.1 L1730,1648.1 L1731,1648.1 L1732,1648.2 L1733,1648.2 L1734,1648.2 L1735,1648.2 L1736,1648.2 L1737,1648.2 L1738,1648.2 L1739,1648.2 L1740,1648.2 L1741,1648.2 L1742,1648.2 L1743,1648.2 L1744,1648.2 L1745,1648.2 L1746,1648.2 L1747,1648.2 L1748,1648.2 L1749,1648.2 L1750,1648.3 L1751,1648.3 L1752,1648.3 L1753,1648.3 L1754,1648.3 L1755,1648.3 L1756,1648.3 L1757,1648.3 L1758,1648.3 L1759,1648.3 L1760,1648.3 L1761,1648.3 L1762,1648.3 L1763,1648.4 L1764,1648.4 L1765,1648.4 L1766,1648.4 L1767,1648.4 L1768,1648.4 L1769,1648.4 L1770,1648.4 L1771,1648.4 L1772,1648.4 L1773,1648.4 L1774,1648.5 L1775,1648.5 L1776,1648.5 L1777,1648.5 L1778,1648.5 L1779,1648.5 L1780,1648.5 L1781,1648.5 L1782,1648.5 L1783,1648.6 L1784,1648.6 L1785,1648.6 L1786,1648.6 L1787,1648.6 L1788,1648.6 L1789,1648.6 L1790,1648.6 L1791,1648.7 L1792,1648.7 L1793,1648.7 L1794,1648.7 L1795,1648.7 L1796,1648.7 L1797,1648.8 L1798,1648.8 L1799,1648.8 L1800,1648.8 L1801,1648.8 L1802,1648.8 L1803,1648.9 L1804,1648.9 L1805,1648.9 L1806,1648.9 L1807,1648.9 L1808,1648.9 L1809,1649 L1810,1649 L1811,1649 L1812,1649 L1813,1649 L1814,1649.1 L1815,1649.1 L1816,1649.1 L1817,1649.1 L1818,1649.2 L1819,1649.2 L1820,1649.2 L1821,1649.2 L1822,1649.2 L1823,1649.3 L1824,1649.3 L1825,1649.3 L1826,1649.3 L1827,1649.4 L1828,1649.4 L1829,1649.4 L1830,1649.5 L1831,1649.5 L1832,1649.5 L1833,1649.5 L1834,1649.6 L1835,1649.6 L1836,1649.6 L1837,1649.6 L1838,1649.7 L1839,1649.7 L1840,1649.7 L1841,1649.8 L1842,1649.8 L1843,1649.8 L1844,1649.9 L1845,1649.9 L1846,1649.9 L1847,1650 L1848,1650 L1849,1650 L1850,1650.1 L1851,1650.1 L1852,1650.1 L1853,1650.2 L1854,1650.2 L1855,1650.3 L1856,1650.3 L1857,1650.3 L1858,1650.4 L1859,1650.4 L1860,1650.4 L1861,1650.5 L1862,1650.5 L1863,1650.6 L1864,1650.6 L1865,1650.6 L1866,1650.7 L1867,1650.7 L1868,1650.8 L1869,1650.8 L1870,1650.8 L1871,1650.9 L1872,1650.9 L1873,1651 L1874,1651 L1875,1651.1 L1876,1651.1 L1877,1651.2 L1878,1651.2 L1879,1651.2 L1880,1651.3 L1881,1651.3 L1882,1651.4 L1883,1651.4 L1884,1651.5 L1885,1651.5 L1886,1651.6 L1887,1651.6 L1888,1651.7 L1889,1651.7 L1890,1651.8 L1891,1651.8 L1892,1651.9 L1893,1651.9 L1894,1652 L1895,1652.1 L1896,1652.1 L1897,1652.2 L1898,1652.2 L1899,1652.3 L1900,1652.4 L1901,1652.4 L1902,1652.5 L1903,1652.6 L1904,1652.6 L1905,1652.7 L1906,1652.8 L1907,1652.9 L1908,1652.9 L1909,1653 L1910,1653.1 L1911,1653.2 L1912,1653.3 L1913,1653.4 L1914,1653.5 L1915,1653.6 L1916,1653.7 L1917,1653.8 L1918,1653.9 L1919,1654 L1920,1654.2 L1921,1654.3 L1922,1654.4 L1923,1654.6 L1924,1654.7 L1925,1654.9 L1926,1655 L1927,1655.2 L1928,1655.4 L1929,1655.5 L1930,1655.7 L1931,1655.9 L1932,1656.1 L1933,1656.3 L1934,1656.5 L1935,1656.7 L1936,1656.9 L1937,1657.1 L1938,1657.3 L1939,1657.5 L1940,1657.8 L1941,1658 L1942,1658.2 L1943,1658.5 L1944,1658.7 L1945,1658.9 L1946,1659.1 L1947,1659.4 L1948,1659.6 L1949,1659.8 L1950,1660.1 L1951,1660.3 L1952,1660.5 L1953,1660.7 L1954,1661 L1955,1661.2 L1956,1661.4 L1957,1661.6 L1958,1661.8 L1959,1662 L1960,1662.1 L1961,1662.3 L1962,1662.5 L1963,1662.7 L1964,1662.8 L1965,1663 L1966,1663.1 L1967,1663.3 L1968,1663.4 L1969,1663.5 L1970,1663.7 L1971,1663.8 L1972,1663.9 L1973,1664 L1974,1664.1 L1975,1664.2 L1976,1664.3 L1977,1664.4 L1978,1664.5 L1979,1664.6 L1980,1664.6 L1981,1664.7 L1982,1664.8 L1983,1664.8 L1984,1664.9 L1985,1665 L1986,1665 L1987,1665.1 L1988,1665.1 L1989,1665.2 L1990,1665.2 L1991,1665.2 L1992,1665.3 L1993,1665.3 L1994,1665.4 L1995,1665.4 L1996,1665.4 L1997,1665.5 L1998,1665.5 L1999,1665.5 L2000,1665.5 L2001,1665.6 L2002,1665.6 L2003,1665.6 L2004,1665.6 L2005,1665.7 L2006,1665.7 L2007,1665.7 L2008,1665.7 L2009,1665.7 L2010,1665.8 L2011,1665.8 L2012,1665.8 L2013,1665.8 L2014,1665.8 L2015,1665.9 L2016,1665.9 L2017,1665.9 L2018,1665.9 L2019,1665.9 L2020,1665.9 L2021,1665.9 L2022,1666 L2023,1666 L2024,1666 L2025,1666 L2026,1666 L2027,1666 L2028,1666 L2029,1666 L2030,1666.1 L2031,1666.1 L2032,1666.1 L2033,1666.1 L2034,1666.1 L2035,1666.1 L2036,1666.1 L2037,1666.1 L2038,1666.1 L2039,1666.1 L2040,1666.1 L2041,1666.2 L2042,1666.2 L2043,1666.2 L2044,1666.2 L2045,1666.2 L2046,1666.2 L2047,1666.2 L2048,1666.2 L2049,1666.2 L2050,1666.2 L2051,1666.2 L2052,1666.2 L2053,1666.2 L2054,1666.3 L2055,1666.3 L2056,1666.3 L2057,1666.3 L2058,1666.3 L2059,1666.3 L2060,1666.3 L2061,1666.3 L2062,1666.3 L2063,1666.3 L2064,1666.3 L2065,1666.3 L2066,1666.3 L2067,1666.3 L2068,1666.3 L2069,1666.3 L2070,1666.3 L2071,1666.3 L2072,1666.4 L2073,1666.4 L2074,1666.4 L2075,1666.4 L2076,1666.4 L2077,1666.4 L2078,1666.4 L2079,1666.4 L2080,1666.4 L2081,1666.4 L2082,1666.4 L2083,1666.4 L2084,1666.4 L2085,1666.4 L2086,1666.4 L2087,1666.4 L2088,1666.4 L2089,1666.4 L2090,1666.4 L2091,1666.4 L2092,1666.4 L2093,1666.4 L2094,1666.4 L2095,1666.4 L2096,1666.4 L2097,1666.4 L2098,1666.4 L2099,1666.5 L2100,1666.5 L2101,1666.5 L2102,1666.5 L2103,1666.5 L2104,1666.5 L2105,1666.5 L2106,1666.5 L2107,1666.5 L2108,1666.5 L2109,1666.5 L2110,1666.5 L2111,1666.5 L2112,1666.5 L2113,1666.5 L2114,1666.5 L2115,1666.5 L2116,1666.5 L2117,1666.5 L2118,1666.5 L2119,1666.5 L2120,1666.5 L2121,1666.5 L2122,1666.5 L2123,1666.5 L2124,1666.5 L2125,1666.5 L2126,1666.5 L2127,1666.5 L2128,1666.5 L2129,1666.5 L2130,1666.5 L2131,1666.5 L2132,1666.5 L2133,1666.5 L2134,1666.5 L2135,1666.5 L2136,1666.5 L2137,1666.5 L2138,1666.5 L2139,1666.5 L2140,1666.5 L2141,1666.6 L2142,1666.6 L2143,1666.6 L2144,1666.6 L2145,1666.6 L2146,1666.6 L2147,1666.6 L2148,1666.6 L2149,1666.6 L2150,1666.6" fill="none" stroke="#10108c" stroke-width="5" stroke-linejoin="round" stroke-linecap="round"/>
<path d="M1700,1648.6 L1701,1648.5 L1702,1648.5 L1703,1648.5 L1704,1648.5 L1705,1648.5 L1706,1648.5 L1707,1648.5 L1708,1648.5 L1709,1648.5 L1710,1648.5 L1711,1648.4 L1712,1648.4 L1713,1648.4 L1714,1648.4 L1715,1648.4 L1716,1648.4 L1717,1648.4 L1718,1648.4 L1719,1648.4 L1720,1648.4 L1721,1648.3 L1722,1648.3 L1723,1648.3 L1724,1648.3 L1725,1648.3 L1726,1648.3 L1727,1648.3 L1728,1648.3 L1729,1648.2 L1730,1648.2 L1731,1648.2 L1732,1648.2 L1733,1648.2 L1734,1648.2 L1735,1648.2 L1736,1648.2 L1737,1648.1 L1738,1648.1 L1739,1648.1 L1740,1648.1 L1741,1648.1 L1742,1648.1 L1743,1648.1 L1744,1648 L1745,1648 L1746,1648 L1747,1648 L1748,1648 L1749,1648 L1750,1647.9 L1751,1647.9 L1752,1647.9 L1753,1647.9 L1754,1647.9 L1755,1647.9 L1756,1647.8 L1757,1647.8 L1758,1647.8 L1759,1647.8 L1760,1647.8 L1761,1647.7 L1762,1647.7 L1763,1647.7 L1764,1647.7 L1765,1647.7 L1766,1647.6 L1767,1647.6 L1768,1647.6 L1769,1647.6 L1770,1647.6 L1771,1647.5 L1772,1647.5 L1773,1647.5 L1774,1647.5 L1775,1647.4 L1776,1647.4 L1777,1647.4 L1778,1647.4 L1779,1647.3 L1780,1647.3 L1781,1647.3 L1782,1647.3 L1783,1647.2 L1784,1647.2 L1785,1647.2 L1786,1647.1 L1787,1647.1 L1788,1647.1 L1789,1647.1 L1790,1647 L1791,1647 L1792,1647 L1793,1646.9 L1794,1646.9 L1795,1646.9 L1796,1646.8 L1797,1646.8 L1798,1646.7 L1799,1646.7 L1800,1646.7 L1801,1646.6 L1802,1646.6 L1803,1646.5 L1804,1646.5 L1805,1646.5 L1806,1646.4 L1807,1646.4 L1808,1646.3 L1809,1646.3 L1810,1646.2 L1811,1646.2 L1812,1646.1 L1813,1646.1 L1814,1646 L1815,1646 L1816,1645.9 L1817,1645.9 L1818,1645.8 L1819,1645.7 L1820,1645.7 L1821,1645.6 L1822,1645.6 L1823,1645.5 L1824,1645.4 L1825,1645.4 L1826,1645.3 L1827,1645.2 L1828,1645.1 L1829,1645.1 L1830,1645 L1831,1644.9 L1832,1644.8 L1833,1644.7 L1834,1644.6 L1835,1644.6 L1836,1644.5 L1837,1644.4 L1838,1644.3 L1839,1644.2 L1840,1644.1 L1841,1643.9 L1842,1643.8 L1843,1643.7 L1844,1643.6 L1845,1643.5 L1846,1643.4 L1847,1643.2 L1848,1643.1 L1849,1642.9 L1850,1642.8 L1851,1642.6 L1852,1642.5 L1853,1642.3 L1854,1642.2 L1855,1642 L1856,1641.8 L1857,1641.6 L1858,1641.4 L1859,1641.2 L1860,1641 L1861,1640.8 L1862,1640.5 L1863,1640.3 L1864,1640 L1865,1639.8 L1866,1639.5 L1867,1639.2 L1868,1638.8 L1869,1638.5 L1870,1638.1 L1871,1637.7 L1872,1637.3 L1873,1636.9 L1874,1636.4 L1875,1635.8 L1876,1635.3 L1877,1634.7 L1878,1634 L1879,1633.3 L1880,1632.5 L1881,1631.6 L1882,1630.7 L1883,1629.7 L1884,1628.6 L1885,1627.3 L1886,1626 L1887,1624.6 L1888,1623 L1889,1621.2 L1890,1619.3 L1891,1617.3 L1892,1615 L1893,1612.5 L1894,1609.9 L1895,1607 L1896,1603.8 L1897,1600.4 L1898,1596.6 L1899,1592.6 L1900,1588.3 L1901,1583.7 L1902,1578.6 L1903,1573.3 L1904,1567.5 L1905,1561.4 L1906,1554.9 L1907,1547.9 L1908,1540.6 L1909,1532.8 L1910,1524.6 L1911,1515.9 L1912,1506.9 L1913,1497.4 L1914,1487.4 L1915,1477.1 L1916,1466.4 L1917,1455.3 L1918,1443.9 L1919,1432.1 L1920,1420.1 L1921,1407.8 L1922,1395.2 L1923,1382.5 L1924,1369.6 L1925,1356.7 L1926,1343.8 L1927,1330.9 L1928,1318 L1929,1305.4 L1930,1293 L1931,1281 L1932,1269.4 L1933,1258.2 L1934,1247.7 L1935,1237.8 L1936,1228.7 L1937,1220.4 L1938,1213 L1939,1206.7 L1940,1201.4 L1941,1197.3 L1942,1194.4 L1943,1192.7 L1944,1192.2 L1945,1192.9 L1946,1194.7 L1947,1197.6 L1948,1201.5 L1949,1206.4 L1950,1212.3 L1951,1219.1 L1952,1226.7 L1953,1235.1 L1954,1244.1 L1955,1253.9 L1956,1264.1 L1957,1274.9 L1958,1286.1 L1959,1297.6 L1960,1309.5 L1961,1321.5 L1962,1333.7 L1963,1346 L1964,1358.3 L1965,1370.6 L1966,1382.8 L1967,1395 L1968,1407 L1969,1418.9 L1970,1430.5 L1971,1441.9 L1972,1453 L1973,1463.8 L1974,1474.3 L1975,1484.4 L1976,1494.3 L1977,1503.7 L1978,1512.8 L1979,1521.5 L1980,1529.9 L1981,1537.8 L1982,1545.4 L1983,1552.6 L1984,1559.5 L1985,1565.9 L1986,1572 L1987,1577.8 L1988,1583.2 L1989,1588.3 L1990,1593 L1991,1597.5 L1992,1601.7 L1993,1605.6 L1994,1609.2 L1995,1612.5 L1996,1615.7 L1997,1618.6 L1998,1621.2 L1999,1623.7 L2000,1626 L2001,1628.1 L2002,1630.1 L2003,1631.9 L2004,1633.6 L2005,1635.1 L2006,1636.5 L2007,1637.9 L2008,1639.1 L2009,1640.2 L2010,1641.2 L2011,1642.2 L2012,1643 L2013,1643.9 L2014,1644.6 L2015,1645.3 L2016,1646 L2017,1646.6 L2018,1647.1 L2019,1647.7 L2020,1648.2 L2021,1648.6 L2022,1649.1 L2023,1649.5 L2024,1649.9 L2025,1650.3 L2026,1650.6 L2027,1650.9 L2028,1651.3 L2029,1651.6 L2030,1651.8 L2031,1652.1 L2032,1652.4 L2033,1652.6 L2034,1652.9 L2035,1653.1 L2036,1653.3 L2037,1653.6 L2038,1653.8 L2039,1654 L2040,1654.2 L2041,1654.4 L2042,1654.6 L2043,1654.7 L2044,1654.9 L2045,1655.1 L2046,1655.2 L2047,1655.4 L2048,1655.6 L2049,1655.7 L2050,1655.9 L2051,1656 L2052,1656.1 L2053,1656.3 L2054,1656.4 L2055,1656.5 L2056,1656.7 L2057,1656.8 L2058,1656.9 L2059,1657 L2060,1657.1 L2061,1657.3 L2062,1657.4 L2063,1657.5 L2064,1657.6 L2065,1657.7 L2066,1657.8 L2067,1657.9 L2068,1658 L2069,1658.1 L2070,1658.2 L2071,1658.2 L2072,1658.3 L2073,1658.4 L2074,1658.5 L2075,1658.6 L2076,1658.7 L2077,1658.7 L2078,1658.8 L2079,1658.9 L2080,1659 L2081,1659 L2082,1659.1 L2083,1659.2 L2084,1659.2 L2085,1659.3 L2086,1659.4 L2087,1659.4 L2088,1659.5 L2089,1659.6 L2090,1659.6 L2091,1659.7 L2092,1659.7 L2093,1659.8 L2094,1659.8 L2095,1659.9 L2096,1659.9 L2097,1660 L2098,1660.1 L2099,1660.1 L2100,1660.2 L2101,1660.2 L2102,1660.2 L2103,1660.3 L2104,1660.3 L2105,1660.4 L2106,1660.4 L2107,1660.5 L2108,1660.5 L2109,1660.6 L2110,1660.6 L2111,1660.6 L2112,1660.7 L2113,1660.7 L2114,1660.8 L2115,1660.8 L2116,1660.8 L2117,1660.9 L2118,1660.9 L2119,1660.9 L2120,1661 L2121,1661 L2122,1661 L2123,1661.1 L2124,1661.1 L2125,1661.1 L2126,1661.2 L2127,1661.2 L2128,1661.2 L2129,1661.3 L2130,1661.3 L2131,1661.3 L2132,1661.4 L2133,1661.4 L2134,1661.4 L2135,1661.4 L2136,1661.5 L2137,1661.5 L2138,1661.5 L2139,1661.5 L2140,1661.6 L2141,1661.6 L2142,1661.6 L2143,1661.6 L2144,1661.7 L2145,1661.7 L2146,1661.7 L2147,1661.7 L2148,1661.8 L2149,1661.8 L2150,1661.8" fill="none" stroke="#ff00ff" stroke-width="4.5" stroke-linejoin="round" stroke-linecap="round"/>
<path d="M1271,1649.2 L1272,1649.2 L1273,1649.2 L1274,1649.2 L1275,1649.2 L1276,1649.2 L1277,1649.2 L1278,1649.2 L1279,1649.2 L1280,1649.2 L1281,1649.2 L1282,1649.2 L1283,1649.2 L1284,1649.2 L1285,1649.2 L1286,1649.2 L1287,1649.2 L1288,1649.2 L1289,1649.2 L1290,1649.2 L1291,1649.2 L1292,1649.2 L1293,1649.2 L1294,1649.2 L1295,1649.2 L1296,1649.2 L1297,1649.2 L1298,1649.2 L1299,1649.2 L1300,1649.2 L1301,1649.2 L1302,1649.2 L1303,1649.2 L1304,1649.2 L1305,1649.2 L1306,1649.2 L1307,1649.2 L1308,1649.2 L1309,1649.2 L1310,1649.2 L1311,1649.1 L1312,1649.1 L1313,1649.1 L1314,1649.1 L1315,1649.1 L1316,1649.1 L1317,1649.1 L1318,1649.1 L1319,1649.1 L1320,1649.1 L1321,1649.1 L1322,1649.1 L1323,1649.1 L1324,1649.1 L1325,1649.1 L1326,1649.1 L1327,1649.1 L1328,1649.1 L1329,1649.1 L1330,1649.1 L1331,1649.1 L1332,1649.1 L1333,1649.1 L1334,1649.1 L1335,1649.1 L1336,1649.1 L1337,1649.1 L1338,1649.1 L1339,1649.1 L1340,1649.1 L1341,1649.1 L1342,1649.1 L1343,1649.1 L1344,1649.1 L1345,1649.1 L1346,1649.1 L1347,1649.1 L1348,1649.1 L1349,1649.1 L1350,1649.1 L1351,1649.1 L1352,1649.1 L1353,1649.1 L1354,1649.1 L1355,1649.1 L1356,1649.1 L1357,1649.1 L1358,1649.1 L1359,1649.1 L1360,1649.1 L1361,1649.1 L1362,1649.1 L1363,1649.1 L1364,1649.1 L1365,1649.1 L1366,1649.1 L1367,1649.1 L1368,1649 L1369,1649 L1370,1649 L1371,1649 L1372,1649 L1373,1649 L1374,1649 L1375,1649 L1376,1649 L1377,1649 L1378,1649 L1379,1649 L1380,1649 L1381,1649 L1382,1649 L1383,1649 L1384,1649 L1385,1649 L1386,1649 L1387,1649 L1388,1649 L1389,1649 L1390,1649 L1391,1649 L1392,1649 L1393,1649 L1394,1649 L1395,1649 L1396,1649 L1397,1649 L1398,1649 L1399,1649 L1400,1649 L1401,1649 L1402,1649 L1403,1649 L1404,1649 L1405,1649 L1406,1649 L1407,1649 L1408,1649 L1409,1649 L1410,1648.9 L1411,1648.9 L1412,1648.9 L1413,1648.9 L1414,1648.9 L1415,1648.9 L1416,1648.9 L1417,1648.9 L1418,1648.9 L1419,1648.9 L1420,1648.9 L1421,1648.9 L1422,1648.9 L1423,1648.9 L1424,1648.9 L1425,1648.9 L1426,1648.9 L1427,1648.9 L1428,1648.9 L1429,1648.9 L1430,1648.9 L1431,1648.9 L1432,1648.9 L1433,1648.9 L1434,1648.9 L1435,1648.9 L1436,1648.9 L1437,1648.9 L1438,1648.9 L1439,1648.9 L1440,1648.9 L1441,1648.9 L1442,1648.9 L1443,1648.8 L1444,1648.8 L1445,1648.8 L1446,1648.8 L1447,1648.8 L1448,1648.8 L1449,1648.8 L1450,1648.8 L1451,1648.8 L1452,1648.8 L1453,1648.8 L1454,1648.8 L1455,1648.8 L1456,1648.8 L1457,1648.8 L1458,1648.8 L1459,1648.8 L1460,1648.8 L1461,1648.8 L1462,1648.8 L1463,1648.8 L1464,1648.8 L1465,1648.8 L1466,1648.8 L1467,1648.8 L1468,1648.8 L1469,1648.8 L1470,1648.7 L1471,1648.7 L1472,1648.7 L1473,1648.7 L1474,1648.7 L1475,1648.7 L1476,1648.7 L1477,1648.7 L1478,1648.7 L1479,1648.7 L1480,1648.7 L1481,1648.7 L1482,1648.7 L1483,1648.7 L1484,1648.7 L1485,1648.7 L1486,1648.7 L1487,1648.7 L1488,1648.7 L1489,1648.7 L1490,1648.7 L1491,1648.7 L1492,1648.6 L1493,1648.6 L1494,1648.6 L1495,1648.6 L1496,1648.6 L1497,1648.6 L1498,1648.6 L1499,1648.6 L1500,1648.6 L1501,1648.6 L1502,1648.6 L1503,1648.6 L1504,1648.6 L1505,1648.6 L1506,1648.6 L1507,1648.6 L1508,1648.6 L1509,1648.6 L1510,1648.6 L1511,1648.5 L1512,1648.5 L1513,1648.5 L1514,1648.5 L1515,1648.5 L1516,1648.5 L1517,1648.5 L1518,1648.5 L1519,1648.5 L1520,1648.5 L1521,1648.5 L1522,1648.5 L1523,1648.5 L1524,1648.5 L1525,1648.5 L1526,1648.5 L1527,1648.4 L1528,1648.4 L1529,1648.4 L1530,1648.4 L1531,1648.4 L1532,1648.4 L1533,1648.4 L1534,1648.4 L1535,1648.4 L1536,1648.4 L1537,1648.4 L1538,1648.4 L1539,1648.4 L1540,1648.4 L1541,1648.4 L1542,1648.3 L1543,1648.3 L1544,1648.3 L1545,1648.3 L1546,1648.3 L1547,1648.3 L1548,1648.3 L1549,1648.3 L1550,1648.3 L1551,1648.3 L1552,1648.3 L1553,1648.3 L1554,1648.3 L1555,1648.2 L1556,1648.2 L1557,1648.2 L1558,1648.2 L1559,1648.2 L1560,1648.2 L1561,1648.2 L1562,1648.2 L1563,1648.2 L1564,1648.2 L1565,1648.2 L1566,1648.1 L1567,1648.1 L1568,1648.1 L1569,1648.1 L1570,1648.1 L1571,1648.1 L1572,1648.1 L1573,1648.1 L1574,1648.1 L1575,1648.1 L1576,1648 L1577,1648 L1578,1648 L1579,1648 L1580,1648 L1581,1648 L1582,1648 L1583,1648 L1584,1648 L1585,1648 L1586,1647.9 L1587,1647.9 L1588,1647.9 L1589,1647.9 L1590,1647.9 L1591,1647.9 L1592,1647.9 L1593,1647.9 L1594,1647.8 L1595,1647.8 L1596,1647.8 L1597,1647.8 L1598,1647.8 L1599,1647.8 L1600,1647.8 L1601,1647.8 L1602,1647.7 L1603,1647.7 L1604,1647.7 L1605,1647.7 L1606,1647.7 L1607,1647.7 L1608,1647.7 L1609,1647.6 L1610,1647.6 L1611,1647.6 L1612,1647.6 L1613,1647.6 L1614,1647.6 L1615,1647.6 L1616,1647.5 L1617,1647.5 L1618,1647.5 L1619,1647.5 L1620,1647.5 L1621,1647.5 L1622,1647.4 L1623,1647.4 L1624,1647.4 L1625,1647.4 L1626,1647.4 L1627,1647.3 L1628,1647.3 L1629,1647.3 L1630,1647.3 L1631,1647.3 L1632,1647.2 L1633,1647.2 L1634,1647.2 L1635,1647.2 L1636,1647.2 L1637,1647.1 L1638,1647.1 L1639,1647.1 L1640,1647.1 L1641,1647.1 L1642,1647 L1643,1647 L1644,1647 L1645,1647 L1646,1646.9 L1647,1646.9 L1648,1646.9 L1649,1646.9 L1650,1646.8 L1651,1646.8 L1652,1646.8 L1653,1646.8 L1654,1646.7 L1655,1646.7 L1656,1646.7 L1657,1646.6 L1658,1646.6 L1659,1646.6 L1660,1646.5 L1661,1646.5 L1662,1646.5 L1663,1646.4 L1664,1646.4 L1665,1646.4 L1666,1646.3 L1667,1646.3 L1668,1646.3 L1669,1646.2 L1670,1646.2 L1671,1646.2 L1672,1646.1 L1673,1646.1 L1674,1646 L1675,1646 L1676,1646 L1677,1645.9 L1678,1645.9 L1679,1645.8 L1680,1645.8 L1681,1645.7 L1682,1645.7 L1683,1645.6 L1684,1645.6 L1685,1645.5 L1686,1645.5 L1687,1645.4 L1688,1645.4 L1689,1645.3 L1690,1645.3 L1691,1645.2 L1692,1645.1 L1693,1645.1 L1694,1645 L1695,1645 L1696,1644.9 L1697,1644.8 L1698,1644.8 L1699,1644.7 L1700,1644.6 L1701,1644.5 L1702,1644.5 L1703,1644.4 L1704,1644.3 L1705,1644.3 L1706,1644.2 L1707,1644.1 L1708,1644 L1709,1643.9 L1710,1643.8 L1711,1643.8 L1712,1643.7 L1713,1643.6 L1714,1643.5 L1715,1643.4 L1716,1643.3 L1717,1643.2 L1718,1643.1 L1719,1643 L1720,1642.9 L1721,1642.8 L1722,1642.7 L1723,1642.6 L1724,1642.4 L1725,1642.3 L1726,1642.2 L1727,1642.1 L1728,1642 L1729,1641.8 L1730,1641.7 L1731,1641.6 L1732,1641.4 L1733,1641.3 L1734,1641.2 L1735,1641 L1736,1640.9 L1737,1640.7 L1738,1640.6 L1739,1640.4 L1740,1640.3 L1741,1640.1 L1742,1640 L1743,1639.8 L1744,1639.7 L1745,1639.5 L1746,1639.3 L1747,1639.1 L1748,1639 L1749,1638.8 L1750,1638.6 L1751,1638.4 L1752,1638.2 L1753,1638 L1754,1637.8 L1755,1637.6 L1756,1637.4 L1757,1637.2 L1758,1637 L1759,1636.8 L1760,1636.6 L1761,1636.4 L1762,1636.2 L1763,1635.9 L1764,1635.7 L1765,1635.5 L1766,1635.3 L1767,1635 L1768,1634.8 L1769,1634.5 L1770,1634.3 L1771,1634 L1772,1633.8 L1773,1633.5 L1774,1633.3 L1775,1633 L1776,1632.8 L1777,1632.5 L1778,1632.2 L1779,1631.9 L1780,1631.7 L1781,1631.4 L1782,1631.1 L1783,1630.8 L1784,1630.5 L1785,1630.2 L1786,1629.9 L1787,1629.7 L1788,1629.4 L1789,1629 L1790,1628.7 L1791,1628.4 L1792,1628.1 L1793,1627.8 L1794,1627.5 L1795,1627.2 L1796,1626.9 L1797,1626.5 L1798,1626.2 L1799,1625.9 L1800,1625.6 L1801,1625.2 L1802,1624.9 L1803,1624.6 L1804,1624.3 L1805,1623.9 L1806,1623.6 L1807,1623.3 L1808,1622.9 L1809,1622.6 L1810,1622.2 L1811,1621.9 L1812,1621.6 L1813,1621.2 L1814,1620.9 L1815,1620.6 L1816,1620.2 L1817,1619.9 L1818,1619.6 L1819,1619.2 L1820,1618.9 L1821,1618.6 L1822,1618.2 L1823,1617.9 L1824,1617.6 L1825,1617.3 L1826,1616.9 L1827,1616.6 L1828,1616.3 L1829,1616 L1830,1615.7 L1831,1615.4 L1832,1615.1 L1833,1614.8 L1834,1614.5 L1835,1614.3 L1836,1614 L1837,1613.7 L1838,1613.5 L1839,1613.2 L1840,1613 L1841,1612.7 L1842,1612.5 L1843,1612.3 L1844,1612.1 L1845,1611.8 L1846,1611.7 L1847,1611.5 L1848,1611.3 L1849,1611.1 L1850,1611 L1851,1610.8 L1852,1610.7 L1853,1610.5 L1854,1610.4 L1855,1610.3 L1856,1610.2 L1857,1610.1 L1858,1610.1 L1859,1610 L1860,1609.9 L1861,1609.9 L1862,1609.9 L1863,1609.9 L1864,1609.9 L1865,1609.9 L1866,1609.9 L1867,1610 L1868,1610 L1869,1610.1 L1870,1610.1 L1871,1610.2 L1872,1610.3 L1873,1610.4 L1874,1610.6 L1875,1610.7 L1876,1610.8 L1877,1611 L1878,1611.2 L1879,1611.3 L1880,1611.5 L1881,1611.7 L1882,1612 L1883,1612.2 L1884,1612.4 L1885,1612.7 L1886,1612.9 L1887,1613.2 L1888,1613.4 L1889,1613.7 L1890,1614 L1891,1614.3 L1892,1614.6 L1893,1614.9 L1894,1615.2 L1895,1615.6 L1896,1615.9 L1897,1616.2 L1898,1616.6 L1899,1616.9 L1900,1617.3 L1901,1617.7 L1902,1618 L1903,1618.4 L1904,1618.8 L1905,1619.2 L1906,1619.6 L1907,1620 L1908,1620.4 L1909,1620.8 L1910,1621.2 L1911,1621.6 L1912,1622 L1913,1622.4 L1914,1622.8 L1915,1623.3 L1916,1623.7 L1917,1624.1 L1918,1624.6 L1919,1625 L1920,1625.5 L1921,1625.9 L1922,1626.4 L1923,1626.8 L1924,1627.3 L1925,1627.8 L1926,1628.2 L1927,1628.7 L1928,1629.2 L1929,1629.7 L1930,1630.1 L1931,1630.6 L1932,1631.1 L1933,1631.6 L1934,1632.1 L1935,1632.6 L1936,1633.1 L1937,1633.5 L1938,1634 L1939,1634.5 L1940,1635 L1941,1635.5 L1942,1636 L1943,1636.5 L1944,1637 L1945,1637.5 L1946,1638 L1947,1638.4 L1948,1638.9 L1949,1639.4 L1950,1639.9 L1951,1640.3 L1952,1640.8 L1953,1641.2 L1954,1641.7 L1955,1642.1 L1956,1642.5 L1957,1643 L1958,1643.4 L1959,1643.8 L1960,1644.2 L1961,1644.6 L1962,1645 L1963,1645.4 L1964,1645.7 L1965,1646.1 L1966,1646.5 L1967,1646.8 L1968,1647.1 L1969,1647.5 L1970,1647.8 L1971,1648.1 L1972,1648.4 L1973,1648.7 L1974,1649 L1975,1649.3 L1976,1649.6 L1977,1649.9 L1978,1650.1 L1979,1650.4 L1980,1650.6 L1981,1650.9 L1982,1651.1 L1983,1651.4 L1984,1651.6 L1985,1651.8 L1986,1652.1 L1987,1652.3 L1988,1652.5 L1989,1652.7 L1990,1652.9 L1991,1653.1 L1992,1653.3 L1993,1653.5 L1994,1653.6 L1995,1653.8 L1996,1654 L1997,1654.2 L1998,1654.3 L1999,1654.5 L2000,1654.6 L2001,1654.8 L2002,1655 L2003,1655.1 L2004,1655.3 L2005,1655.4 L2006,1655.5 L2007,1655.7 L2008,1655.8 L2009,1655.9 L2010,1656.1 L2011,1656.2 L2012,1656.3 L2013,1656.4 L2014,1656.6 L2015,1656.7 L2016,1656.8 L2017,1656.9 L2018,1657 L2019,1657.1 L2020,1657.2 L2021,1657.3 L2022,1657.4 L2023,1657.5 L2024,1657.6 L2025,1657.7 L2026,1657.8 L2027,1657.9 L2028,1658 L2029,1658.1 L2030,1658.1 L2031,1658.2 L2032,1658.3 L2033,1658.4 L2034,1658.5 L2035,1658.5 L2036,1658.6 L2037,1658.7 L2038,1658.8 L2039,1658.8 L2040,1658.9 L2041,1659 L2042,1659 L2043,1659.1 L2044,1659.2 L2045,1659.2 L2046,1659.3 L2047,1659.3 L2048,1659.4 L2049,1659.5 L2050,1659.5 L2051,1659.6 L2052,1659.6 L2053,1659.7 L2054,1659.7 L2055,1659.8 L2056,1659.8 L2057,1659.9 L2058,1659.9 L2059,1660 L2060,1660 L2061,1660.1 L2062,1660.1 L2063,1660.2 L2064,1660.2 L2065,1660.2 L2066,1660.3 L2067,1660.3 L2068,1660.4 L2069,1660.4 L2070,1660.4 L2071,1660.5 L2072,1660.5 L2073,1660.5 L2074,1660.6 L2075,1660.6 L2076,1660.7 L2077,1660.7 L2078,1660.7 L2079,1660.8 L2080,1660.8 L2081,1660.8 L2082,1660.8 L2083,1660.9 L2084,1660.9 L2085,1660.9 L2086,1661 L2087,1661 L2088,1661 L2089,1661.1 L2090,1661.1 L2091,1661.1 L2092,1661.1 L2093,1661.2 L2094,1661.2 L2095,1661.2 L2096,1661.2 L2097,1661.3 L2098,1661.3 L2099,1661.3 L2100,1661.3 L2101,1661.4 L2102,1661.4 L2103,1661.4 L2104,1661.4 L2105,1661.4 L2106,1661.5 L2107,1661.5 L2108,1661.5 L2109,1661.5 L2110,1661.6 L2111,1661.6 L2112,1661.6 L2113,1661.6 L2114,1661.6 L2115,1661.6 L2116,1661.7 L2117,1661.7 L2118,1661.7 L2119,1661.7 L2120,1661.7 L2121,1661.8 L2122,1661.8 L2123,1661.8 L2124,1661.8 L2125,1661.8 L2126,1661.8 L2127,1661.9 L2128,1661.9 L2129,1661.9 L2130,1661.9 L2131,1661.9 L2132,1661.9 L2133,1662 L2134,1662 L2135,1662 L2136,1662 L2137,1662 L2138,1662 L2139,1662.1 L2140,1662.1 L2141,1662.1 L2142,1662.1 L2143,1662.1 L2144,1662.1 L2145,1662.1 L2146,1662.1 L2147,1662.2 L2148,1662.2 L2149,1662.2 L2150,1662.2" fill="none" stroke="#0a8a0a" stroke-width="4" stroke-linejoin="round" stroke-linecap="round"/>
<path d="M1420,1649.4 L1421,1649.4 L1422,1649.4 L1423,1649.4 L1424,1649.4 L1425,1649.4 L1426,1649.4 L1427,1649.4 L1428,1649.4 L1429,1649.4 L1430,1649.4 L1431,1649.4 L1432,1649.4 L1433,1649.4 L1434,1649.4 L1435,1649.4 L1436,1649.4 L1437,1649.4 L1438,1649.4 L1439,1649.4 L1440,1649.4 L1441,1649.4 L1442,1649.4 L1443,1649.4 L1444,1649.4 L1445,1649.4 L1446,1649.4 L1447,1649.4 L1448,1649.4 L1449,1649.4 L1450,1649.4 L1451,1649.4 L1452,1649.4 L1453,1649.4 L1454,1649.4 L1455,1649.4 L1456,1649.4 L1457,1649.4 L1458,1649.4 L1459,1649.4 L1460,1649.4 L1461,1649.4 L1462,1649.4 L1463,1649.4 L1464,1649.4 L1465,1649.4 L1466,1649.4 L1467,1649.4 L1468,1649.4 L1469,1649.4 L1470,1649.4 L1471,1649.4 L1472,1649.4 L1473,1649.4 L1474,1649.4 L1475,1649.4 L1476,1649.4 L1477,1649.4 L1478,1649.4 L1479,1649.4 L1480,1649.4 L1481,1649.4 L1482,1649.4 L1483,1649.4 L1484,1649.4 L1485,1649.4 L1486,1649.4 L1487,1649.4 L1488,1649.4 L1489,1649.4 L1490,1649.4 L1491,1649.4 L1492,1649.4 L1493,1649.4 L1494,1649.4 L1495,1649.4 L1496,1649.4 L1497,1649.4 L1498,1649.4 L1499,1649.4 L1500,1649.4 L1501,1649.4 L1502,1649.4 L1503,1649.4 L1504,1649.4 L1505,1649.4 L1506,1649.4 L1507,1649.4 L1508,1649.4 L1509,1649.4 L1510,1649.4 L1511,1649.4 L1512,1649.4 L1513,1649.4 L1514,1649.4 L1515,1649.4 L1516,1649.4 L1517,1649.4 L1518,1649.4 L1519,1649.4 L1520,1649.4 L1521,1649.4 L1522,1649.4 L1523,1649.4 L1524,1649.4 L1525,1649.4 L1526,1649.4 L1527,1649.4 L1528,1649.4 L1529,1649.4 L1530,1649.4 L1531,1649.4 L1532,1649.3 L1533,1649.3 L1534,1649.3 L1535,1649.3 L1536,1649.3 L1537,1649.3 L1538,1649.3 L1539,1649.3 L1540,1649.3 L1541,1649.3 L1542,1649.3 L1543,1649.3 L1544,1649.3 L1545,1649.3 L1546,1649.3 L1547,1649.3 L1548,1649.3 L1549,1649.3 L1550,1649.3 L1551,1649.3 L1552,1649.3 L1553,1649.3 L1554,1649.3 L1555,1649.3 L1556,1649.3 L1557,1649.3 L1558,1649.3 L1559,1649.3 L1560,1649.3 L1561,1649.3 L1562,1649.3 L1563,1649.3 L1564,1649.3 L1565,1649.3 L1566,1649.3 L1567,1649.3 L1568,1649.3 L1569,1649.3 L1570,1649.3 L1571,1649.3 L1572,1649.3 L1573,1649.3 L1574,1649.3 L1575,1649.3 L1576,1649.3 L1577,1649.3 L1578,1649.3 L1579,1649.3 L1580,1649.3 L1581,1649.3 L1582,1649.3 L1583,1649.3 L1584,1649.3 L1585,1649.3 L1586,1649.3 L1587,1649.3 L1588,1649.3 L1589,1649.3 L1590,1649.3 L1591,1649.2 L1592,1649.2 L1593,1649.2 L1594,1649.2 L1595,1649.2 L1596,1649.2 L1597,1649.2 L1598,1649.2 L1599,1649.2 L1600,1649.2 L1601,1649.2 L1602,1649.2 L1603,1649.2 L1604,1649.2 L1605,1649.2 L1606,1649.2 L1607,1649.2 L1608,1649.2 L1609,1649.2 L1610,1649.2 L1611,1649.2 L1612,1649.2 L1613,1649.2 L1614,1649.2 L1615,1649.2 L1616,1649.2 L1617,1649.2 L1618,1649.2 L1619,1649.2 L1620,1649.2 L1621,1649.2 L1622,1649.2 L1623,1649.2 L1624,1649.2 L1625,1649.2 L1626,1649.2 L1627,1649.2 L1628,1649.1 L1629,1649.1 L1630,1649.1 L1631,1649.1 L1632,1649.1 L1633,1649.1 L1634,1649.1 L1635,1649.1 L1636,1649.1 L1637,1649.1 L1638,1649.1 L1639,1649.1 L1640,1649.1 L1641,1649.1 L1642,1649.1 L1643,1649.1 L1644,1649.1 L1645,1649.1 L1646,1649.1 L1647,1649.1 L1648,1649.1 L1649,1649.1 L1650,1649.1 L1651,1649.1 L1652,1649.1 L1653,1649.1 L1654,1649 L1655,1649 L1656,1649 L1657,1649 L1658,1649 L1659,1649 L1660,1649 L1661,1649 L1662,1649 L1663,1649 L1664,1649 L1665,1649 L1666,1649 L1667,1649 L1668,1649 L1669,1649 L1670,1649 L1671,1649 L1672,1649 L1673,1648.9 L1674,1648.9 L1675,1648.9 L1676,1648.9 L1677,1648.9 L1678,1648.9 L1679,1648.9 L1680,1648.9 L1681,1648.9 L1682,1648.9 L1683,1648.9 L1684,1648.9 L1685,1648.9 L1686,1648.9 L1687,1648.8 L1688,1648.8 L1689,1648.8 L1690,1648.8 L1691,1648.8 L1692,1648.8 L1693,1648.8 L1694,1648.8 L1695,1648.8 L1696,1648.8 L1697,1648.7 L1698,1648.7 L1699,1648.7 L1700,1648.7 L1701,1648.7 L1702,1648.7 L1703,1648.7 L1704,1648.7 L1705,1648.6 L1706,1648.6 L1707,1648.6 L1708,1648.6 L1709,1648.6 L1710,1648.6 L1711,1648.6 L1712,1648.5 L1713,1648.5 L1714,1648.5 L1715,1648.5 L1716,1648.5 L1717,1648.4 L1718,1648.4 L1719,1648.4 L1720,1648.4 L1721,1648.3 L1722,1648.3 L1723,1648.3 L1724,1648.3 L1725,1648.2 L1726,1648.2 L1727,1648.2 L1728,1648.2 L1729,1648.1 L1730,1648.1 L1731,1648.1 L1732,1648 L1733,1648 L1734,1648 L1735,1647.9 L1736,1647.9 L1737,1647.8 L1738,1647.8 L1739,1647.7 L1740,1647.7 L1741,1647.7 L1742,1647.6 L1743,1647.6 L1744,1647.5 L1745,1647.4 L1746,1647.4 L1747,1647.3 L1748,1647.3 L1749,1647.2 L1750,1647.1 L1751,1647.1 L1752,1647 L1753,1646.9 L1754,1646.9 L1755,1646.8 L1756,1646.7 L1757,1646.6 L1758,1646.5 L1759,1646.5 L1760,1646.4 L1761,1646.3 L1762,1646.2 L1763,1646.1 L1764,1646 L1765,1645.9 L1766,1645.8 L1767,1645.7 L1768,1645.5 L1769,1645.4 L1770,1645.3 L1771,1645.2 L1772,1645.1 L1773,1644.9 L1774,1644.8 L1775,1644.6 L1776,1644.5 L1777,1644.3 L1778,1644.2 L1779,1644 L1780,1643.9 L1781,1643.7 L1782,1643.5 L1783,1643.4 L1784,1643.2 L1785,1643 L1786,1642.8 L1787,1642.6 L1788,1642.4 L1789,1642.2 L1790,1642 L1791,1641.8 L1792,1641.5 L1793,1641.3 L1794,1641.1 L1795,1640.8 L1796,1640.6 L1797,1640.4 L1798,1640.1 L1799,1639.8 L1800,1639.6 L1801,1639.3 L1802,1639 L1803,1638.7 L1804,1638.4 L1805,1638.2 L1806,1637.8 L1807,1637.5 L1808,1637.2 L1809,1636.9 L1810,1636.6 L1811,1636.3 L1812,1635.9 L1813,1635.6 L1814,1635.2 L1815,1634.9 L1816,1634.5 L1817,1634.1 L1818,1633.8 L1819,1633.4 L1820,1633 L1821,1632.6 L1822,1632.2 L1823,1631.8 L1824,1631.4 L1825,1631 L1826,1630.6 L1827,1630.1 L1828,1629.7 L1829,1629.3 L1830,1628.8 L1831,1628.4 L1832,1627.9 L1833,1627.5 L1834,1627 L1835,1626.6 L1836,1626.1 L1837,1625.6 L1838,1625.1 L1839,1624.7 L1840,1624.2 L1841,1623.7 L1842,1623.2 L1843,1622.7 L1844,1622.2 L1845,1621.7 L1846,1621.2 L1847,1620.7 L1848,1620.2 L1849,1619.7 L1850,1619.2 L1851,1618.7 L1852,1618.1 L1853,1617.6 L1854,1617.1 L1855,1616.6 L1856,1616.1 L1857,1615.6 L1858,1615.1 L1859,1614.6 L1860,1614.1 L1861,1613.5 L1862,1613 L1863,1612.5 L1864,1612 L1865,1611.5 L1866,1611 L1867,1610.5 L1868,1610.1 L1869,1609.6 L1870,1609.1 L1871,1608.6 L1872,1608.2 L1873,1607.7 L1874,1607.2 L1875,1606.8 L1876,1606.4 L1877,1605.9 L1878,1605.5 L1879,1605.1 L1880,1604.7 L1881,1604.3 L1882,1603.9 L1883,1603.5 L1884,1603.1 L1885,1602.8 L1886,1602.4 L1887,1602.1 L1888,1601.7 L1889,1601.4 L1890,1601.1 L1891,1600.8 L1892,1600.6 L1893,1600.3 L1894,1600.1 L1895,1599.8 L1896,1599.6 L1897,1599.4 L1898,1599.2 L1899,1599 L1900,1598.9 L1901,1598.7 L1902,1598.6 L1903,1598.5 L1904,1598.4 L1905,1598.4 L1906,1598.3 L1907,1598.3 L1908,1598.3 L1909,1598.3 L1910,1598.3 L1911,1598.3 L1912,1598.4 L1913,1598.5 L1914,1598.6 L1915,1598.7 L1916,1598.8 L1917,1599 L1918,1599.2 L1919,1599.4 L1920,1599.6 L1921,1599.8 L1922,1600.1 L1923,1600.4 L1924,1600.7 L1925,1601 L1926,1601.3 L1927,1601.7 L1928,1602.1 L1929,1602.5 L1930,1602.9 L1931,1603.3 L1932,1603.7 L1933,1604.2 L1934,1604.7 L1935,1605.2 L1936,1605.7 L1937,1606.2 L1938,1606.8 L1939,1607.3 L1940,1607.9 L1941,1608.5 L1942,1609.1 L1943,1609.7 L1944,1610.3 L1945,1610.9 L1946,1611.5 L1947,1612.2 L1948,1612.8 L1949,1613.5 L1950,1614.1 L1951,1614.8 L1952,1615.4 L1953,1616.1 L1954,1616.8 L1955,1617.4 L1956,1618.1 L1957,1618.8 L1958,1619.5 L1959,1620.1 L1960,1620.8 L1961,1621.5 L1962,1622.1 L1963,1622.8 L1964,1623.5 L1965,1624.1 L1966,1624.8 L1967,1625.4 L1968,1626.1 L1969,1626.7 L1970,1627.3 L1971,1628 L1972,1628.6 L1973,1629.2 L1974,1629.8 L1975,1630.4 L1976,1631 L1977,1631.6 L1978,1632.2 L1979,1632.8 L1980,1633.4 L1981,1634 L1982,1634.6 L1983,1635.1 L1984,1635.7 L1985,1636.2 L1986,1636.8 L1987,1637.3 L1988,1637.8 L1989,1638.4 L1990,1638.9 L1991,1639.4 L1992,1639.9 L1993,1640.4 L1994,1640.9 L1995,1641.4 L1996,1641.9 L1997,1642.3 L1998,1642.8 L1999,1643.3 L2000,1643.7 L2001,1644.2 L2002,1644.6 L2003,1645 L2004,1645.5 L2005,1645.9 L2006,1646.3 L2007,1646.7 L2008,1647.1 L2009,1647.5 L2010,1647.9 L2011,1648.3 L2012,1648.6 L2013,1649 L2014,1649.4 L2015,1649.7 L2016,1650.1 L2017,1650.4 L2018,1650.7 L2019,1651.1 L2020,1651.4 L2021,1651.7 L2022,1652 L2023,1652.3 L2024,1652.6 L2025,1652.9 L2026,1653.2 L2027,1653.5 L2028,1653.7 L2029,1654 L2030,1654.2 L2031,1654.5 L2032,1654.7 L2033,1655 L2034,1655.2 L2035,1655.5 L2036,1655.7 L2037,1655.9 L2038,1656.1 L2039,1656.3 L2040,1656.5 L2041,1656.7 L2042,1656.9 L2043,1657.1 L2044,1657.3 L2045,1657.5 L2046,1657.6 L2047,1657.8 L2048,1658 L2049,1658.1 L2050,1658.3 L2051,1658.4 L2052,1658.6 L2053,1658.7 L2054,1658.8 L2055,1659 L2056,1659.1 L2057,1659.2 L2058,1659.4 L2059,1659.5 L2060,1659.6 L2061,1659.7 L2062,1659.8 L2063,1659.9 L2064,1660 L2065,1660.1 L2066,1660.2 L2067,1660.3 L2068,1660.4 L2069,1660.5 L2070,1660.6 L2071,1660.7 L2072,1660.7 L2073,1660.8 L2074,1660.9 L2075,1661 L2076,1661 L2077,1661.1 L2078,1661.2 L2079,1661.2 L2080,1661.3 L2081,1661.4 L2082,1661.4 L2083,1661.5 L2084,1661.5 L2085,1661.6 L2086,1661.6 L2087,1661.7 L2088,1661.7 L2089,1661.8 L2090,1661.8 L2091,1661.9 L2092,1661.9 L2093,1661.9 L2094,1662 L2095,1662 L2096,1662.1 L2097,1662.1 L2098,1662.1 L2099,1662.2 L2100,1662.2 L2101,1662.2 L2102,1662.2 L2103,1662.3 L2104,1662.3 L2105,1662.3 L2106,1662.4 L2107,1662.4 L2108,1662.4 L2109,1662.4 L2110,1662.5 L2111,1662.5 L2112,1662.5 L2113,1662.5 L2114,1662.6 L2115,1662.6 L2116,1662.6 L2117,1662.6 L2118,1662.6 L2119,1662.7 L2120,1662.7 L2121,1662.7 L2122,1662.7 L2123,1662.7 L2124,1662.7 L2125,1662.8 L2126,1662.8 L2127,1662.8 L2128,1662.8 L2129,1662.8 L2130,1662.8 L2131,1662.8 L2132,1662.9 L2133,1662.9 L2134,1662.9 L2135,1662.9 L2136,1662.9 L2137,1662.9 L2138,1662.9 L2139,1662.9 L2140,1663 L2141,1663 L2142,1663 L2143,1663 L2144,1663 L2145,1663 L2146,1663 L2147,1663 L2148,1663 L2149,1663 L2150,1663.1" fill="none" stroke="#800000" stroke-width="4" stroke-linejoin="round" stroke-linecap="round"/>
<path d="M1271,1647.1 L1272,1647.1 L1273,1647.1 L1274,1647.1 L1275,1647.1 L1276,1647.1 L1277,1647.1 L1278,1647 L1279,1647 L1280,1647 L1281,1647 L1282,1647 L1283,1647 L1284,1647 L1285,1646.9 L1286,1646.9 L1287,1646.9 L1288,1646.9 L1289,1646.9 L1290,1646.9 L1291,1646.9 L1292,1646.8 L1293,1646.8 L1294,1646.8 L1295,1646.8 L1296,1646.8 L1297,1646.8 L1298,1646.8 L1299,1646.7 L1300,1646.7 L1301,1646.7 L1302,1646.7 L1303,1646.7 L1304,1646.7 L1305,1646.6 L1306,1646.6 L1307,1646.6 L1308,1646.6 L1309,1646.6 L1310,1646.5 L1311,1646.5 L1312,1646.5 L1313,1646.5 L1314,1646.5 L1315,1646.4 L1316,1646.4 L1317,1646.4 L1318,1646.4 L1319,1646.4 L1320,1646.3 L1321,1646.3 L1322,1646.3 L1323,1646.3 L1324,1646.2 L1325,1646.2 L1326,1646.2 L1327,1646.2 L1328,1646.1 L1329,1646.1 L1330,1646.1 L1331,1646.1 L1332,1646 L1333,1646 L1334,1646 L1335,1646 L1336,1645.9 L1337,1645.9 L1338,1645.9 L1339,1645.9 L1340,1645.8 L1341,1645.8 L1342,1645.8 L1343,1645.7 L1344,1645.7 L1345,1645.7 L1346,1645.7 L1347,1645.6 L1348,1645.6 L1349,1645.6 L1350,1645.5 L1351,1645.5 L1352,1645.5 L1353,1645.4 L1354,1645.4 L1355,1645.4 L1356,1645.3 L1357,1645.3 L1358,1645.3 L1359,1645.2 L1360,1645.2 L1361,1645.2 L1362,1645.1 L1363,1645.1 L1364,1645.1 L1365,1645 L1366,1645 L1367,1645 L1368,1644.9 L1369,1644.9 L1370,1644.8 L1371,1644.8 L1372,1644.8 L1373,1644.7 L1374,1644.7 L1375,1644.7 L1376,1644.6 L1377,1644.6 L1378,1644.5 L1379,1644.5 L1380,1644.5 L1381,1644.4 L1382,1644.4 L1383,1644.3 L1384,1644.3 L1385,1644.3 L1386,1644.2 L1387,1644.2 L1388,1644.1 L1389,1644.1 L1390,1644 L1391,1644 L1392,1644 L1393,1643.9 L1394,1643.9 L1395,1643.8 L1396,1643.8 L1397,1643.7 L1398,1643.7 L1399,1643.6 L1400,1643.6 L1401,1643.6 L1402,1643.5 L1403,1643.5 L1404,1643.4 L1405,1643.4 L1406,1643.3 L1407,1643.3 L1408,1643.2 L1409,1643.2 L1410,1643.1 L1411,1643.1 L1412,1643 L1413,1643 L1414,1642.9 L1415,1642.9 L1416,1642.9 L1417,1642.8 L1418,1642.8 L1419,1642.7 L1420,1642.7 L1421,1642.6 L1422,1642.6 L1423,1642.5 L1424,1642.5 L1425,1642.4 L1426,1642.4 L1427,1642.3 L1428,1642.3 L1429,1642.2 L1430,1642.2 L1431,1642.1 L1432,1642.1 L1433,1642 L1434,1642 L1435,1641.9 L1436,1641.9 L1437,1641.8 L1438,1641.8 L1439,1641.7 L1440,1641.7 L1441,1641.6 L1442,1641.6 L1443,1641.5 L1444,1641.5 L1445,1641.4 L1446,1641.4 L1447,1641.3 L1448,1641.3 L1449,1641.2 L1450,1641.2 L1451,1641.1 L1452,1641.1 L1453,1641 L1454,1641 L1455,1640.9 L1456,1640.9 L1457,1640.8 L1458,1640.8 L1459,1640.7 L1460,1640.7 L1461,1640.6 L1462,1640.6 L1463,1640.5 L1464,1640.5 L1465,1640.4 L1466,1640.4 L1467,1640.3 L1468,1640.3 L1469,1640.2 L1470,1640.2 L1471,1640.2 L1472,1640.1 L1473,1640.1 L1474,1640 L1475,1640 L1476,1639.9 L1477,1639.9 L1478,1639.8 L1479,1639.8 L1480,1639.7 L1481,1639.7 L1482,1639.7 L1483,1639.6 L1484,1639.6 L1485,1639.5 L1486,1639.5 L1487,1639.4 L1488,1639.4 L1489,1639.4 L1490,1639.3 L1491,1639.3 L1492,1639.2 L1493,1639.2 L1494,1639.2 L1495,1639.1 L1496,1639.1 L1497,1639.1 L1498,1639 L1499,1639 L1500,1638.9 L1501,1638.9 L1502,1638.9 L1503,1638.8 L1504,1638.8 L1505,1638.8 L1506,1638.7 L1507,1638.7 L1508,1638.7 L1509,1638.6 L1510,1638.6 L1511,1638.6 L1512,1638.5 L1513,1638.5 L1514,1638.5 L1515,1638.5 L1516,1638.4 L1517,1638.4 L1518,1638.4 L1519,1638.3 L1520,1638.3 L1521,1638.3 L1522,1638.3 L1523,1638.2 L1524,1638.2 L1525,1638.2 L1526,1638.2 L1527,1638.2 L1528,1638.1 L1529,1638.1 L1530,1638.1 L1531,1638.1 L1532,1638.1 L1533,1638 L1534,1638 L1535,1638 L1536,1638 L1537,1638 L1538,1638 L1539,1637.9 L1540,1637.9 L1541,1637.9 L1542,1637.9 L1543,1637.9 L1544,1637.9 L1545,1637.9 L1546,1637.9 L1547,1637.9 L1548,1637.9 L1549,1637.8 L1550,1637.8 L1551,1637.8 L1552,1637.8 L1553,1637.8 L1554,1637.8 L1555,1637.8 L1556,1637.8 L1557,1637.8 L1558,1637.8 L1559,1637.8 L1560,1637.8 L1561,1637.8 L1562,1637.8 L1563,1637.8 L1564,1637.8 L1565,1637.8 L1566,1637.8 L1567,1637.8 L1568,1637.8 L1569,1637.8 L1570,1637.9 L1571,1637.9 L1572,1637.9 L1573,1637.9 L1574,1637.9 L1575,1637.9 L1576,1637.9 L1577,1637.9 L1578,1637.9 L1579,1638 L1580,1638 L1581,1638 L1582,1638 L1583,1638 L1584,1638 L1585,1638.1 L1586,1638.1 L1587,1638.1 L1588,1638.1 L1589,1638.1 L1590,1638.2 L1591,1638.2 L1592,1638.2 L1593,1638.2 L1594,1638.2 L1595,1638.3 L1596,1638.3 L1597,1638.3 L1598,1638.3 L1599,1638.4 L1600,1638.4 L1601,1638.4 L1602,1638.5 L1603,1638.5 L1604,1638.5 L1605,1638.5 L1606,1638.6 L1607,1638.6 L1608,1638.6 L1609,1638.7 L1610,1638.7 L1611,1638.7 L1612,1638.8 L1613,1638.8 L1614,1638.8 L1615,1638.9 L1616,1638.9 L1617,1638.9 L1618,1639 L1619,1639 L1620,1639.1 L1621,1639.1 L1622,1639.1 L1623,1639.2 L1624,1639.2 L1625,1639.3 L1626,1639.3 L1627,1639.3 L1628,1639.4 L1629,1639.4 L1630,1639.5 L1631,1639.5 L1632,1639.5 L1633,1639.6 L1634,1639.6 L1635,1639.7 L1636,1639.7 L1637,1639.8 L1638,1639.8 L1639,1639.9 L1640,1639.9 L1641,1639.9 L1642,1640 L1643,1640 L1644,1640.1 L1645,1640.1 L1646,1640.2 L1647,1640.2 L1648,1640.3 L1649,1640.3 L1650,1640.4 L1651,1640.4 L1652,1640.5 L1653,1640.5 L1654,1640.6 L1655,1640.6 L1656,1640.7 L1657,1640.7 L1658,1640.8 L1659,1640.8 L1660,1640.9 L1661,1640.9 L1662,1641 L1663,1641 L1664,1641.1 L1665,1641.1 L1666,1641.2 L1667,1641.2 L1668,1641.3 L1669,1641.3 L1670,1641.4 L1671,1641.4 L1672,1641.5 L1673,1641.5 L1674,1641.6 L1675,1641.7 L1676,1641.7 L1677,1641.8 L1678,1641.8 L1679,1641.9 L1680,1641.9 L1681,1642 L1682,1642 L1683,1642.1 L1684,1642.1 L1685,1642.2 L1686,1642.2 L1687,1642.3 L1688,1642.3 L1689,1642.4 L1690,1642.4 L1691,1642.5 L1692,1642.6 L1693,1642.6 L1694,1642.7 L1695,1642.7 L1696,1642.8 L1697,1642.8 L1698,1642.9 L1699,1642.9 L1700,1643 L1701,1643 L1702,1643.1 L1703,1643.1 L1704,1643.2 L1705,1643.2 L1706,1643.3 L1707,1643.3 L1708,1643.4 L1709,1643.4 L1710,1643.5 L1711,1643.5 L1712,1643.6 L1713,1643.6 L1714,1643.7 L1715,1643.7 L1716,1643.8 L1717,1643.8 L1718,1643.9 L1719,1643.9 L1720,1644 L1721,1644 L1722,1644.1 L1723,1644.1 L1724,1644.2 L1725,1644.2 L1726,1644.3 L1727,1644.3 L1728,1644.4 L1729,1644.4 L1730,1644.5 L1731,1644.5 L1732,1644.6 L1733,1644.6 L1734,1644.7 L1735,1644.7 L1736,1644.8 L1737,1644.8 L1738,1644.9 L1739,1644.9 L1740,1644.9 L1741,1645 L1742,1645 L1743,1645.1 L1744,1645.1 L1745,1645.2 L1746,1645.2 L1747,1645.3 L1748,1645.3 L1749,1645.4 L1750,1645.4 L1751,1645.4 L1752,1645.5 L1753,1645.5 L1754,1645.6 L1755,1645.6 L1756,1645.7 L1757,1645.7 L1758,1645.7 L1759,1645.8 L1760,1645.8 L1761,1645.9 L1762,1645.9 L1763,1646 L1764,1646 L1765,1646 L1766,1646.1 L1767,1646.1 L1768,1646.2 L1769,1646.2 L1770,1646.3 L1771,1646.3 L1772,1646.3 L1773,1646.4 L1774,1646.4 L1775,1646.5 L1776,1646.5 L1777,1646.5 L1778,1646.6 L1779,1646.6 L1780,1646.7 L1781,1646.7 L1782,1646.7 L1783,1646.8 L1784,1646.8 L1785,1646.9 L1786,1646.9 L1787,1646.9 L1788,1647 L1789,1647 L1790,1647.1 L1791,1647.1 L1792,1647.1 L1793,1647.2 L1794,1647.2 L1795,1647.3 L1796,1647.3 L1797,1647.3 L1798,1647.4 L1799,1647.4 L1800,1647.4 L1801,1647.5 L1802,1647.5 L1803,1647.6 L1804,1647.6 L1805,1647.6 L1806,1647.7 L1807,1647.7 L1808,1647.8 L1809,1647.8 L1810,1647.8 L1811,1647.9 L1812,1647.9 L1813,1648 L1814,1648 L1815,1648 L1816,1648.1 L1817,1648.1 L1818,1648.2 L1819,1648.2 L1820,1648.2 L1821,1648.3 L1822,1648.3 L1823,1648.4 L1824,1648.4 L1825,1648.4 L1826,1648.5 L1827,1648.5 L1828,1648.6 L1829,1648.6 L1830,1648.7 L1831,1648.7 L1832,1648.7 L1833,1648.8 L1834,1648.8 L1835,1648.9 L1836,1648.9 L1837,1649 L1838,1649 L1839,1649 L1840,1649.1 L1841,1649.1 L1842,1649.2 L1843,1649.2 L1844,1649.3 L1845,1649.3 L1846,1649.4 L1847,1649.4 L1848,1649.4 L1849,1649.5 L1850,1649.5 L1851,1649.6 L1852,1649.6 L1853,1649.7 L1854,1649.7 L1855,1649.8 L1856,1649.8 L1857,1649.9 L1858,1649.9 L1859,1650 L1860,1650 L1861,1650 L1862,1650.1 L1863,1650.1 L1864,1650.2 L1865,1650.2 L1866,1650.3 L1867,1650.3 L1868,1650.4 L1869,1650.4 L1870,1650.5 L1871,1650.5 L1872,1650.6 L1873,1650.6 L1874,1650.7 L1875,1650.7 L1876,1650.8 L1877,1650.9 L1878,1650.9 L1879,1651 L1880,1651 L1881,1651.1 L1882,1651.1 L1883,1651.2 L1884,1651.2 L1885,1651.3 L1886,1651.3 L1887,1651.4 L1888,1651.4 L1889,1651.5 L1890,1651.6 L1891,1651.6 L1892,1651.7 L1893,1651.7 L1894,1651.8 L1895,1651.9 L1896,1651.9 L1897,1652 L1898,1652 L1899,1652.1 L1900,1652.2 L1901,1652.3 L1902,1652.3 L1903,1652.4 L1904,1652.5 L1905,1652.5 L1906,1652.6 L1907,1652.7 L1908,1652.8 L1909,1652.9 L1910,1653 L1911,1653.1 L1912,1653.2 L1913,1653.3 L1914,1653.4 L1915,1653.5 L1916,1653.6 L1917,1653.7 L1918,1653.8 L1919,1653.9 L1920,1654.1 L1921,1654.2 L1922,1654.3 L1923,1654.5 L1924,1654.6 L1925,1654.8 L1926,1654.9 L1927,1655.1 L1928,1655.3 L1929,1655.4 L1930,1655.6 L1931,1655.8 L1932,1656 L1933,1656.2 L1934,1656.4 L1935,1656.6 L1936,1656.8 L1937,1657 L1938,1657.3 L1939,1657.5 L1940,1657.7 L1941,1657.9 L1942,1658.2 L1943,1658.4 L1944,1658.6 L1945,1658.9 L1946,1659.1 L1947,1659.3 L1948,1659.6 L1949,1659.8 L1950,1660 L1951,1660.2 L1952,1660.5 L1953,1660.7 L1954,1660.9 L1955,1661.1 L1956,1661.3 L1957,1661.5 L1958,1661.7 L1959,1661.9 L1960,1662.1 L1961,1662.3 L1962,1662.5 L1963,1662.6 L1964,1662.8 L1965,1662.9 L1966,1663.1 L1967,1663.2 L1968,1663.4 L1969,1663.5 L1970,1663.6 L1971,1663.8 L1972,1663.9 L1973,1664 L1974,1664.1 L1975,1664.2 L1976,1664.3 L1977,1664.4 L1978,1664.5 L1979,1664.5 L1980,1664.6 L1981,1664.7 L1982,1664.8 L1983,1664.8 L1984,1664.9 L1985,1664.9 L1986,1665 L1987,1665 L1988,1665.1 L1989,1665.1 L1990,1665.2 L1991,1665.2 L1992,1665.3 L1993,1665.3 L1994,1665.3 L1995,1665.4 L1996,1665.4 L1997,1665.4 L1998,1665.5 L1999,1665.5 L2000,1665.5 L2001,1665.6 L2002,1665.6 L2003,1665.6 L2004,1665.6 L2005,1665.7 L2006,1665.7 L2007,1665.7 L2008,1665.7 L2009,1665.7 L2010,1665.8 L2011,1665.8 L2012,1665.8 L2013,1665.8 L2014,1665.8 L2015,1665.8 L2016,1665.9 L2017,1665.9 L2018,1665.9 L2019,1665.9 L2020,1665.9 L2021,1665.9 L2022,1665.9 L2023,1666 L2024,1666 L2025,1666 L2026,1666 L2027,1666 L2028,1666 L2029,1666 L2030,1666 L2031,1666.1 L2032,1666.1 L2033,1666.1 L2034,1666.1 L2035,1666.1 L2036,1666.1 L2037,1666.1 L2038,1666.1 L2039,1666.1 L2040,1666.1 L2041,1666.2 L2042,1666.2 L2043,1666.2 L2044,1666.2 L2045,1666.2 L2046,1666.2 L2047,1666.2 L2048,1666.2 L2049,1666.2 L2050,1666.2 L2051,1666.2 L2052,1666.2 L2053,1666.2 L2054,1666.3 L2055,1666.3 L2056,1666.3 L2057,1666.3 L2058,1666.3 L2059,1666.3 L2060,1666.3 L2061,1666.3 L2062,1666.3 L2063,1666.3 L2064,1666.3 L2065,1666.3 L2066,1666.3 L2067,1666.3 L2068,1666.3 L2069,1666.3 L2070,1666.3 L2071,1666.3 L2072,1666.3 L2073,1666.4 L2074,1666.4 L2075,1666.4 L2076,1666.4 L2077,1666.4 L2078,1666.4 L2079,1666.4 L2080,1666.4 L2081,1666.4 L2082,1666.4 L2083,1666.4 L2084,1666.4 L2085,1666.4 L2086,1666.4 L2087,1666.4 L2088,1666.4 L2089,1666.4 L2090,1666.4 L2091,1666.4 L2092,1666.4 L2093,1666.4 L2094,1666.4 L2095,1666.4 L2096,1666.4 L2097,1666.4 L2098,1666.4 L2099,1666.4 L2100,1666.5 L2101,1666.5 L2102,1666.5 L2103,1666.5 L2104,1666.5 L2105,1666.5 L2106,1666.5 L2107,1666.5 L2108,1666.5 L2109,1666.5 L2110,1666.5 L2111,1666.5 L2112,1666.5 L2113,1666.5 L2114,1666.5 L2115,1666.5 L2116,1666.5 L2117,1666.5 L2118,1666.5 L2119,1666.5 L2120,1666.5 L2121,1666.5 L2122,1666.5 L2123,1666.5 L2124,1666.5 L2125,1666.5 L2126,1666.5 L2127,1666.5 L2128,1666.5 L2129,1666.5 L2130,1666.5 L2131,1666.5 L2132,1666.5 L2133,1666.5 L2134,1666.5 L2135,1666.5 L2136,1666.5 L2137,1666.5 L2138,1666.5 L2139,1666.5 L2140,1666.5 L2141,1666.6 L2142,1666.6 L2143,1666.6 L2144,1666.6 L2145,1666.6 L2146,1666.6 L2147,1666.6 L2148,1666.6 L2149,1666.6 L2150,1666.6" fill="none" stroke="#10108c" stroke-width="5" stroke-linejoin="round" stroke-linecap="round"/>
<line x1="1931" y1="1189.4" x2="1898.8" y2="1160.4" stroke="#ff00ff" stroke-width="3.0"/>
<polygon points="1883.2,1146.4 1905.1,1158 1899.2,1160.8 1897,1166.9" fill="#ff00ff"/>
<line x1="1893" y1="1598.7" x2="1848.1" y2="1555.8" stroke="#800000" stroke-width="3.0"/>
<polygon points="1832.9,1541.3 1854.4,1553.5 1848.4,1556.1 1846.1,1562.2" fill="#800000"/>
<line x1="1794.6" y1="1626" x2="1749.7" y2="1583.1" stroke="#0a8a0a" stroke-width="3.0"/>
<polygon points="1734.5,1568.6 1756,1580.8 1750,1583.4 1747.7,1589.5" fill="#0a8a0a"/>
<line x1="1493.9" y1="1634.2" x2="1446.8" y2="1593.3" stroke="#10108c" stroke-width="3.0"/>
<polygon points="1431,1579.5 1453,1590.7 1447.2,1593.6 1445.2,1599.8" fill="#10108c"/>
<rect x="1271" y="1058" width="879" height="655.5" fill="none" stroke="#000" stroke-width="6.5"/>
<line x1="1271" y1="1713.5" x2="1271" y2="1732.5" stroke="#000" stroke-width="5.5" stroke-linecap="round"/>
<line x1="1490.8" y1="1713.5" x2="1490.8" y2="1732.5" stroke="#000" stroke-width="5.5" stroke-linecap="round"/>
<line x1="1710.5" y1="1713.5" x2="1710.5" y2="1732.5" stroke="#000" stroke-width="5.5" stroke-linecap="round"/>
<line x1="1930.2" y1="1713.5" x2="1930.2" y2="1732.5" stroke="#000" stroke-width="5.5" stroke-linecap="round"/>
<line x1="2150" y1="1713.5" x2="2150" y2="1732.5" stroke="#000" stroke-width="5.5" stroke-linecap="round"/>
<line x1="1380.9" y1="1713.5" x2="1380.9" y2="1724.5" stroke="#000" stroke-width="5"/>
<line x1="1600.6" y1="1713.5" x2="1600.6" y2="1724.5" stroke="#000" stroke-width="5"/>
<line x1="1820.4" y1="1713.5" x2="1820.4" y2="1724.5" stroke="#000" stroke-width="5"/>
<line x1="2040.1" y1="1713.5" x2="2040.1" y2="1724.5" stroke="#000" stroke-width="5"/>
<text x="1232.27" y="1798.64" font-family="'Liberation Serif','Times New Roman',serif" font-size="66.21" font-weight="normal" fill="#000" textLength="94.79" lengthAdjust="spacingAndGlyphs">294</text>
<text x="1444.93" y="1798.64" font-family="'Liberation Serif','Times New Roman',serif" font-size="66.21" font-weight="normal" fill="#000" textLength="88.71" lengthAdjust="spacingAndGlyphs">291</text>
<text x="1656.46" y="1798.64" font-family="'Liberation Serif','Times New Roman',serif" font-size="66.21" font-weight="normal" fill="#000" textLength="95.07" lengthAdjust="spacingAndGlyphs">288</text>
<text x="1888.91" y="1798.64" font-family="'Liberation Serif','Times New Roman',serif" font-size="66.21" font-weight="normal" fill="#000" textLength="93.27" lengthAdjust="spacingAndGlyphs">285</text>
<text x="2095.83" y="1798.64" font-family="'Liberation Serif','Times New Roman',serif" font-size="66.21" font-weight="normal" fill="#000" textLength="96.21" lengthAdjust="spacingAndGlyphs">282</text>
<text x="1450.31" y="1882.00" font-family="'Liberation Serif','Times New Roman',serif" font-size="66.31" font-weight="normal" fill="#000" textLength="531.09" lengthAdjust="spacingAndGlyphs">Binding Energy (eV)</text>
<text x="1144.35" y="1158.74" font-family="'Liberation Sans',Arial,sans-serif" font-size="125.77" font-weight="normal" fill="#000" stroke="#000" stroke-width="1.1" textLength="72.91" lengthAdjust="spacingAndGlyphs">C</text>
<rect x="1333.3" y="1084.6" width="286.2" height="127.9" fill="#fff" stroke="none"/>
<line x1="1619.5" y1="1084.6" x2="1619.5" y2="1212.5" stroke="#c8c8c8" stroke-width="2.6"/>
<line x1="1333.3" y1="1084.6" x2="1619.5" y2="1084.6" stroke="#c4c4c4" stroke-width="2.6"/>
<line x1="1333.3" y1="1083.6" x2="1333.3" y2="1212.5" stroke="#c4c4c4" stroke-width="2.6"/>
<line x1="1357" y1="1123.7" x2="1457.3" y2="1123.7" stroke="#000" stroke-width="5.5"/>
<line x1="1357" y1="1185.1" x2="1457.3" y2="1185.1" stroke="#ff0000" stroke-width="7"/>
<text x="1468.99" y="1138.20" font-family="'Liberation Serif','Times New Roman',serif" font-size="49.08" font-weight="bold" fill="#000" textLength="88.91" lengthAdjust="spacingAndGlyphs">Raw</text>
<text x="1468.07" y="1201.00" font-family="'Liberation Serif','Times New Roman',serif" font-size="49.23" font-weight="bold" fill="#000" textLength="134.44" lengthAdjust="spacingAndGlyphs">Fitting</text>
<text x="1648.94" y="1138.02" font-family="'Liberation Serif','Times New Roman',serif" font-size="64.18" font-weight="normal" fill="#000" textLength="245.63" lengthAdjust="spacingAndGlyphs">C-C/C=C</text>
<text x="1746.34" y="1512.17" font-family="'Liberation Serif','Times New Roman',serif" font-size="66.72" font-weight="normal" fill="#000" textLength="110.07" lengthAdjust="spacingAndGlyphs">C-N</text>
<text x="1601.41" y="1539.88" font-family="'Liberation Serif','Times New Roman',serif" font-size="65.97" font-weight="normal" fill="#000" textLength="111.52" lengthAdjust="spacingAndGlyphs">C-O</text>
<text x="1379.44" y="1552.50" font-family="'Liberation Serif','Times New Roman',serif" font-size="64.93" font-weight="normal" fill="#000" textLength="124.81" lengthAdjust="spacingAndGlyphs">C=O</text>
</svg>
</body></html>
